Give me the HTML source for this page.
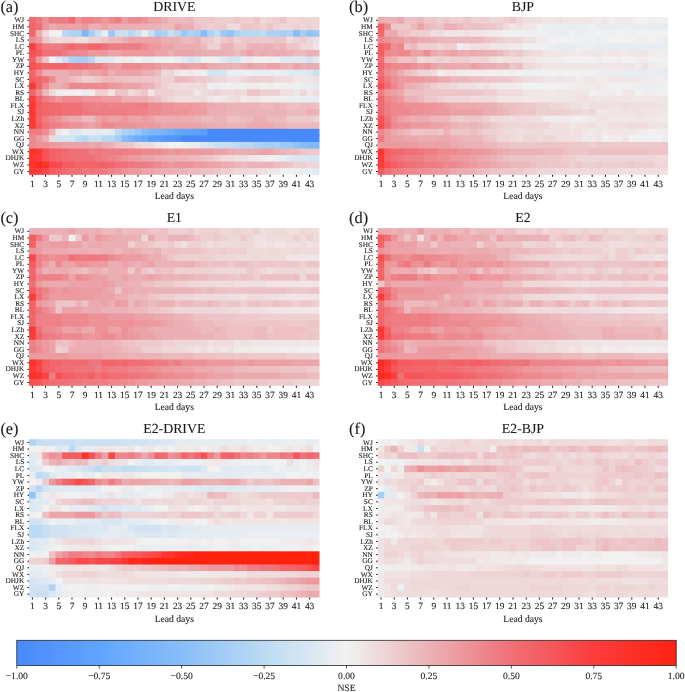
<!DOCTYPE html><html><head><meta charset="utf-8"><style>html,body{margin:0;padding:0;background:#fff;width:685px;height:692px;overflow:hidden}svg{display:block;will-change:transform}text{text-rendering:geometricPrecision;font-family:"Liberation Serif",serif;fill:#1a1a1a;stroke:#1a1a1a;stroke-width:0.1px}</style></head><body><svg width="685" height="692" viewBox="0 0 685 692" shape-rendering="crispEdges"><defs><filter id="soft" x="-2%" y="-2%" width="104%" height="104%"><feGaussianBlur stdDeviation="0.35"/></filter></defs><g shape-rendering="auto" filter="url(#soft)"><rect x="29.10" y="17.00" width="7.20" height="7.17" fill="#f16a6f"/><rect x="35.70" y="17.00" width="7.20" height="7.17" fill="#ef787e"/><rect x="42.30" y="17.00" width="7.20" height="7.17" fill="#ed9297"/><rect x="48.90" y="17.00" width="20.40" height="7.17" fill="#ee7d83"/><rect x="68.70" y="17.00" width="7.20" height="7.17" fill="#f16a6f"/><rect x="75.30" y="17.00" width="7.20" height="7.17" fill="#ed9297"/><rect x="81.90" y="17.00" width="13.80" height="7.17" fill="#ee8288"/><rect x="95.10" y="17.00" width="7.20" height="7.17" fill="#ed8a90"/><rect x="101.70" y="17.00" width="7.20" height="7.17" fill="#ed989c"/><rect x="108.30" y="17.00" width="7.20" height="7.17" fill="#ed8a90"/><rect x="114.90" y="17.00" width="7.20" height="7.17" fill="#ee7d83"/><rect x="121.50" y="17.00" width="7.20" height="7.17" fill="#ec9ca1"/><rect x="128.10" y="17.00" width="13.80" height="7.17" fill="#ed8a90"/><rect x="141.30" y="17.00" width="7.20" height="7.17" fill="#ed9297"/><rect x="147.90" y="17.00" width="13.80" height="7.17" fill="#eca3a8"/><rect x="161.10" y="17.00" width="7.20" height="7.17" fill="#ebafb3"/><rect x="167.70" y="17.00" width="13.80" height="7.17" fill="#ecbabd"/><rect x="180.90" y="17.00" width="7.20" height="7.17" fill="#ecbcbf"/><rect x="187.50" y="17.00" width="7.20" height="7.17" fill="#ecb8bb"/><rect x="194.10" y="17.00" width="13.80" height="7.17" fill="#edc9cc"/><rect x="207.30" y="17.00" width="7.20" height="7.17" fill="#edc5c8"/><rect x="213.90" y="17.00" width="20.40" height="7.17" fill="#eeced0"/><rect x="233.70" y="17.00" width="7.20" height="7.17" fill="#edc5c8"/><rect x="240.30" y="17.00" width="13.80" height="7.17" fill="#eeced0"/><rect x="253.50" y="17.00" width="7.20" height="7.17" fill="#edc5c8"/><rect x="260.10" y="17.00" width="7.20" height="7.17" fill="#eed7d8"/><rect x="266.70" y="17.00" width="7.20" height="7.17" fill="#eed2d4"/><rect x="273.30" y="17.00" width="7.20" height="7.17" fill="#eeced0"/><rect x="279.90" y="17.00" width="7.20" height="7.17" fill="#edc5c8"/><rect x="286.50" y="17.00" width="13.80" height="7.17" fill="#eed7d8"/><rect x="299.70" y="17.00" width="19.80" height="7.17" fill="#eed2d4"/><rect x="29.10" y="23.57" width="7.20" height="7.17" fill="#f2666a"/><rect x="35.70" y="23.57" width="7.20" height="7.17" fill="#ef7076"/><rect x="42.30" y="23.57" width="7.20" height="7.17" fill="#ed989c"/><rect x="48.90" y="23.57" width="7.20" height="7.17" fill="#ebafb3"/><rect x="55.50" y="23.57" width="27.00" height="7.17" fill="#eca3a8"/><rect x="81.90" y="23.57" width="7.20" height="7.17" fill="#ed989c"/><rect x="88.50" y="23.57" width="13.80" height="7.17" fill="#ebafb3"/><rect x="101.70" y="23.57" width="7.20" height="7.17" fill="#eca3a8"/><rect x="108.30" y="23.57" width="40.20" height="7.17" fill="#ebafb3"/><rect x="147.90" y="23.57" width="13.80" height="7.17" fill="#ebb3b7"/><rect x="161.10" y="23.57" width="13.80" height="7.17" fill="#ecbabd"/><rect x="174.30" y="23.57" width="7.20" height="7.17" fill="#eca3a8"/><rect x="180.90" y="23.57" width="13.80" height="7.17" fill="#ebafb3"/><rect x="194.10" y="23.57" width="7.20" height="7.17" fill="#ecc0c4"/><rect x="200.70" y="23.57" width="7.20" height="7.17" fill="#edc9cc"/><rect x="207.30" y="23.57" width="7.20" height="7.17" fill="#eed0d2"/><rect x="213.90" y="23.57" width="13.80" height="7.17" fill="#edc9cc"/><rect x="227.10" y="23.57" width="13.80" height="7.17" fill="#efdbdc"/><rect x="240.30" y="23.57" width="13.80" height="7.17" fill="#edc5c8"/><rect x="253.50" y="23.57" width="7.20" height="7.17" fill="#edc9cc"/><rect x="260.10" y="23.57" width="7.20" height="7.17" fill="#eed0d2"/><rect x="266.70" y="23.57" width="7.20" height="7.17" fill="#edc5c8"/><rect x="273.30" y="23.57" width="7.20" height="7.17" fill="#eed0d2"/><rect x="279.90" y="23.57" width="13.80" height="7.17" fill="#eed7d8"/><rect x="293.10" y="23.57" width="7.20" height="7.17" fill="#eed0d2"/><rect x="299.70" y="23.57" width="7.20" height="7.17" fill="#eed7d8"/><rect x="306.30" y="23.57" width="7.20" height="7.17" fill="#eed0d2"/><rect x="312.90" y="23.57" width="6.60" height="7.17" fill="#eed7d8"/><rect x="29.10" y="30.15" width="7.20" height="7.18" fill="#f2666a"/><rect x="35.70" y="30.15" width="7.20" height="7.18" fill="#ebafb3"/><rect x="42.30" y="30.15" width="7.20" height="7.18" fill="#efdbdc"/><rect x="48.90" y="30.15" width="13.80" height="7.18" fill="#f1f1f1"/><rect x="62.10" y="30.15" width="7.20" height="7.18" fill="#b7d8f3"/><rect x="68.70" y="30.15" width="13.80" height="7.18" fill="#add3f4"/><rect x="81.90" y="30.15" width="7.20" height="7.18" fill="#7db8fa"/><rect x="88.50" y="30.15" width="7.20" height="7.18" fill="#a4cef5"/><rect x="95.10" y="30.15" width="7.20" height="7.18" fill="#cae0f2"/><rect x="101.70" y="30.15" width="7.20" height="7.18" fill="#e7edf1"/><rect x="108.30" y="30.15" width="7.20" height="7.18" fill="#9ac8f6"/><rect x="114.90" y="30.15" width="13.80" height="7.18" fill="#cae0f2"/><rect x="128.10" y="30.15" width="7.20" height="7.18" fill="#b7d8f3"/><rect x="134.70" y="30.15" width="7.20" height="7.18" fill="#cae0f2"/><rect x="141.30" y="30.15" width="7.20" height="7.18" fill="#e7edf1"/><rect x="147.90" y="30.15" width="7.20" height="7.18" fill="#cae0f2"/><rect x="154.50" y="30.15" width="7.20" height="7.18" fill="#a4cef5"/><rect x="161.10" y="30.15" width="7.20" height="7.18" fill="#add3f4"/><rect x="167.70" y="30.15" width="7.20" height="7.18" fill="#cae0f2"/><rect x="174.30" y="30.15" width="7.20" height="7.18" fill="#b7d8f3"/><rect x="180.90" y="30.15" width="7.20" height="7.18" fill="#9ac8f6"/><rect x="187.50" y="30.15" width="7.20" height="7.18" fill="#add3f4"/><rect x="194.10" y="30.15" width="7.20" height="7.18" fill="#a4cef5"/><rect x="200.70" y="30.15" width="7.20" height="7.18" fill="#85bdf8"/><rect x="207.30" y="30.15" width="7.20" height="7.18" fill="#add3f4"/><rect x="213.90" y="30.15" width="7.20" height="7.18" fill="#c0dcf3"/><rect x="220.50" y="30.15" width="7.20" height="7.18" fill="#9ac8f6"/><rect x="227.10" y="30.15" width="7.20" height="7.18" fill="#8fc2f7"/><rect x="233.70" y="30.15" width="7.20" height="7.18" fill="#add3f4"/><rect x="240.30" y="30.15" width="20.40" height="7.18" fill="#b7d8f3"/><rect x="260.10" y="30.15" width="7.20" height="7.18" fill="#c0dcf3"/><rect x="266.70" y="30.15" width="13.80" height="7.18" fill="#add3f4"/><rect x="279.90" y="30.15" width="7.20" height="7.18" fill="#a4cef5"/><rect x="286.50" y="30.15" width="7.20" height="7.18" fill="#add3f4"/><rect x="293.10" y="30.15" width="7.20" height="7.18" fill="#85bdf8"/><rect x="299.70" y="30.15" width="7.20" height="7.18" fill="#a4cef5"/><rect x="306.30" y="30.15" width="7.20" height="7.18" fill="#8fc2f7"/><rect x="312.90" y="30.15" width="6.60" height="7.18" fill="#9ac8f6"/><rect x="29.10" y="36.73" width="7.20" height="7.17" fill="#ed8a90"/><rect x="35.70" y="36.73" width="7.20" height="7.17" fill="#ed989c"/><rect x="42.30" y="36.73" width="7.20" height="7.17" fill="#edc5c8"/><rect x="48.90" y="36.73" width="7.20" height="7.17" fill="#eed7d8"/><rect x="55.50" y="36.73" width="7.20" height="7.17" fill="#efdbdc"/><rect x="62.10" y="36.73" width="13.80" height="7.17" fill="#eed7d8"/><rect x="75.30" y="36.73" width="13.80" height="7.17" fill="#efdfe0"/><rect x="88.50" y="36.73" width="13.80" height="7.17" fill="#eed0d2"/><rect x="101.70" y="36.73" width="7.20" height="7.17" fill="#edc5c8"/><rect x="108.30" y="36.73" width="13.80" height="7.17" fill="#ecbabd"/><rect x="121.50" y="36.73" width="7.20" height="7.17" fill="#ebafb3"/><rect x="128.10" y="36.73" width="33.60" height="7.17" fill="#eca3a8"/><rect x="161.10" y="36.73" width="20.40" height="7.17" fill="#ebafb3"/><rect x="180.90" y="36.73" width="13.80" height="7.17" fill="#ecbabd"/><rect x="194.10" y="36.73" width="7.20" height="7.17" fill="#ebb3b7"/><rect x="200.70" y="36.73" width="7.20" height="7.17" fill="#edc5c8"/><rect x="207.30" y="36.73" width="7.20" height="7.17" fill="#edc9cc"/><rect x="213.90" y="36.73" width="7.20" height="7.17" fill="#eed7d8"/><rect x="220.50" y="36.73" width="7.20" height="7.17" fill="#edc9cc"/><rect x="227.10" y="36.73" width="7.20" height="7.17" fill="#ecc0c4"/><rect x="233.70" y="36.73" width="7.20" height="7.17" fill="#eed0d2"/><rect x="240.30" y="36.73" width="7.20" height="7.17" fill="#edc9cc"/><rect x="246.90" y="36.73" width="7.20" height="7.17" fill="#edc5c8"/><rect x="253.50" y="36.73" width="20.40" height="7.17" fill="#edc9cc"/><rect x="273.30" y="36.73" width="13.80" height="7.17" fill="#edc5c8"/><rect x="286.50" y="36.73" width="7.20" height="7.17" fill="#efdbdc"/><rect x="293.10" y="36.73" width="7.20" height="7.17" fill="#eed0d2"/><rect x="299.70" y="36.73" width="7.20" height="7.17" fill="#edc9cc"/><rect x="306.30" y="36.73" width="7.20" height="7.17" fill="#eed7d8"/><rect x="312.90" y="36.73" width="6.60" height="7.17" fill="#efdfe0"/><rect x="29.10" y="43.30" width="7.20" height="7.18" fill="#fc3c3c"/><rect x="35.70" y="43.30" width="7.20" height="7.18" fill="#f2666a"/><rect x="42.30" y="43.30" width="20.40" height="7.18" fill="#ee7d83"/><rect x="62.10" y="43.30" width="7.20" height="7.18" fill="#ef7076"/><rect x="68.70" y="43.30" width="7.20" height="7.18" fill="#f2666a"/><rect x="75.30" y="43.30" width="13.80" height="7.18" fill="#ef7076"/><rect x="88.50" y="43.30" width="13.80" height="7.18" fill="#f2666a"/><rect x="101.70" y="43.30" width="7.20" height="7.18" fill="#ef7076"/><rect x="108.30" y="43.30" width="33.60" height="7.18" fill="#ee7d83"/><rect x="141.30" y="43.30" width="7.20" height="7.18" fill="#ed8a90"/><rect x="147.90" y="43.30" width="13.80" height="7.18" fill="#ed989c"/><rect x="161.10" y="43.30" width="13.80" height="7.18" fill="#eca3a8"/><rect x="174.30" y="43.30" width="27.00" height="7.18" fill="#ebafb3"/><rect x="200.70" y="43.30" width="7.20" height="7.18" fill="#ecbabd"/><rect x="207.30" y="43.30" width="13.80" height="7.18" fill="#eed0d2"/><rect x="220.50" y="43.30" width="13.80" height="7.18" fill="#ebb3b7"/><rect x="233.70" y="43.30" width="13.80" height="7.18" fill="#edc5c8"/><rect x="246.90" y="43.30" width="7.20" height="7.18" fill="#ebb3b7"/><rect x="253.50" y="43.30" width="7.20" height="7.18" fill="#ebafb3"/><rect x="260.10" y="43.30" width="7.20" height="7.18" fill="#ebb3b7"/><rect x="266.70" y="43.30" width="7.20" height="7.18" fill="#ebafb3"/><rect x="273.30" y="43.30" width="7.20" height="7.18" fill="#ecbabd"/><rect x="279.90" y="43.30" width="7.20" height="7.18" fill="#ebb3b7"/><rect x="286.50" y="43.30" width="13.80" height="7.18" fill="#edc5c8"/><rect x="299.70" y="43.30" width="13.80" height="7.18" fill="#eed7d8"/><rect x="312.90" y="43.30" width="6.60" height="7.18" fill="#f0e6e7"/><rect x="29.10" y="49.88" width="7.20" height="7.18" fill="#f75153"/><rect x="35.70" y="49.88" width="7.20" height="7.18" fill="#f45b5f"/><rect x="42.30" y="49.88" width="20.40" height="7.18" fill="#ef7076"/><rect x="62.10" y="49.88" width="7.20" height="7.18" fill="#ee7d83"/><rect x="68.70" y="49.88" width="20.40" height="7.18" fill="#ed8a90"/><rect x="88.50" y="49.88" width="20.40" height="7.18" fill="#ed989c"/><rect x="108.30" y="49.88" width="13.80" height="7.18" fill="#eca3a8"/><rect x="121.50" y="49.88" width="33.60" height="7.18" fill="#ed989c"/><rect x="154.50" y="49.88" width="13.80" height="7.18" fill="#eca3a8"/><rect x="167.70" y="49.88" width="7.20" height="7.18" fill="#ebafb3"/><rect x="174.30" y="49.88" width="20.40" height="7.18" fill="#eca3a8"/><rect x="194.10" y="49.88" width="7.20" height="7.18" fill="#ebaaae"/><rect x="200.70" y="49.88" width="27.00" height="7.18" fill="#ebafb3"/><rect x="227.10" y="49.88" width="7.20" height="7.18" fill="#ebb3b7"/><rect x="233.70" y="49.88" width="7.20" height="7.18" fill="#ecbabd"/><rect x="240.30" y="49.88" width="7.20" height="7.18" fill="#ebafb3"/><rect x="246.90" y="49.88" width="7.20" height="7.18" fill="#eca3a8"/><rect x="253.50" y="49.88" width="7.20" height="7.18" fill="#ebafb3"/><rect x="260.10" y="49.88" width="7.20" height="7.18" fill="#ebaaae"/><rect x="266.70" y="49.88" width="7.20" height="7.18" fill="#ebafb3"/><rect x="273.30" y="49.88" width="7.20" height="7.18" fill="#ebaaae"/><rect x="279.90" y="49.88" width="7.20" height="7.18" fill="#ebafb3"/><rect x="286.50" y="49.88" width="7.20" height="7.18" fill="#ebb3b7"/><rect x="293.10" y="49.88" width="13.80" height="7.18" fill="#ecbabd"/><rect x="306.30" y="49.88" width="7.20" height="7.18" fill="#ebafb3"/><rect x="312.90" y="49.88" width="6.60" height="7.18" fill="#ebb3b7"/><rect x="29.10" y="56.45" width="7.20" height="7.17" fill="#f45b5f"/><rect x="35.70" y="56.45" width="7.20" height="7.17" fill="#ed989c"/><rect x="42.30" y="56.45" width="7.20" height="7.17" fill="#edc5c8"/><rect x="48.90" y="56.45" width="7.20" height="7.17" fill="#f1f1f1"/><rect x="55.50" y="56.45" width="7.20" height="7.17" fill="#dee9f2"/><rect x="62.10" y="56.45" width="7.20" height="7.17" fill="#cae0f2"/><rect x="68.70" y="56.45" width="7.20" height="7.17" fill="#add3f4"/><rect x="75.30" y="56.45" width="13.80" height="7.17" fill="#a4cef5"/><rect x="88.50" y="56.45" width="7.20" height="7.17" fill="#b7d8f3"/><rect x="95.10" y="56.45" width="20.40" height="7.17" fill="#dee9f2"/><rect x="114.90" y="56.45" width="7.20" height="7.17" fill="#edeff1"/><rect x="121.50" y="56.45" width="7.20" height="7.17" fill="#f1eded"/><rect x="128.10" y="56.45" width="7.20" height="7.17" fill="#e7edf1"/><rect x="134.70" y="56.45" width="7.20" height="7.17" fill="#f1f1f1"/><rect x="141.30" y="56.45" width="13.80" height="7.17" fill="#e7edf1"/><rect x="154.50" y="56.45" width="7.20" height="7.17" fill="#f1f1f1"/><rect x="161.10" y="56.45" width="7.20" height="7.17" fill="#edeff1"/><rect x="167.70" y="56.45" width="7.20" height="7.17" fill="#f1f1f1"/><rect x="174.30" y="56.45" width="7.20" height="7.17" fill="#e7edf1"/><rect x="180.90" y="56.45" width="7.20" height="7.17" fill="#dee9f2"/><rect x="187.50" y="56.45" width="7.20" height="7.17" fill="#d4e5f2"/><rect x="194.10" y="56.45" width="7.20" height="7.17" fill="#dae7f2"/><rect x="200.70" y="56.45" width="20.40" height="7.17" fill="#edeff1"/><rect x="220.50" y="56.45" width="7.20" height="7.17" fill="#dee9f2"/><rect x="227.10" y="56.45" width="13.80" height="7.17" fill="#d4e5f2"/><rect x="240.30" y="56.45" width="7.20" height="7.17" fill="#e7edf1"/><rect x="246.90" y="56.45" width="7.20" height="7.17" fill="#f0e6e7"/><rect x="253.50" y="56.45" width="13.80" height="7.17" fill="#f1f1f1"/><rect x="266.70" y="56.45" width="13.80" height="7.17" fill="#edeff1"/><rect x="279.90" y="56.45" width="27.00" height="7.17" fill="#dee9f2"/><rect x="306.30" y="56.45" width="7.20" height="7.17" fill="#cee2f2"/><rect x="312.90" y="56.45" width="6.60" height="7.17" fill="#e1eaf2"/><rect x="29.10" y="63.02" width="7.20" height="7.17" fill="#f75153"/><rect x="35.70" y="63.02" width="7.20" height="7.17" fill="#f45b5f"/><rect x="42.30" y="63.02" width="27.00" height="7.17" fill="#f2666a"/><rect x="68.70" y="63.02" width="20.40" height="7.17" fill="#ef7076"/><rect x="88.50" y="63.02" width="13.80" height="7.17" fill="#ee7d83"/><rect x="101.70" y="63.02" width="7.20" height="7.17" fill="#ed8a90"/><rect x="108.30" y="63.02" width="7.20" height="7.17" fill="#ed989c"/><rect x="114.90" y="63.02" width="7.20" height="7.17" fill="#ec9ca1"/><rect x="121.50" y="63.02" width="20.40" height="7.17" fill="#ed8a90"/><rect x="141.30" y="63.02" width="13.80" height="7.17" fill="#ed9297"/><rect x="154.50" y="63.02" width="7.20" height="7.17" fill="#ed989c"/><rect x="161.10" y="63.02" width="20.40" height="7.17" fill="#eca3a8"/><rect x="180.90" y="63.02" width="7.20" height="7.17" fill="#ec9ca1"/><rect x="187.50" y="63.02" width="13.80" height="7.17" fill="#eca3a8"/><rect x="200.70" y="63.02" width="7.20" height="7.17" fill="#ec9ca1"/><rect x="207.30" y="63.02" width="13.80" height="7.17" fill="#ebaaae"/><rect x="220.50" y="63.02" width="13.80" height="7.17" fill="#ebafb3"/><rect x="233.70" y="63.02" width="7.20" height="7.17" fill="#ebb3b7"/><rect x="240.30" y="63.02" width="7.20" height="7.17" fill="#ebaaae"/><rect x="246.90" y="63.02" width="7.20" height="7.17" fill="#eca3a8"/><rect x="253.50" y="63.02" width="13.80" height="7.17" fill="#ebaaae"/><rect x="266.70" y="63.02" width="13.80" height="7.17" fill="#eca3a8"/><rect x="279.90" y="63.02" width="7.20" height="7.17" fill="#ebafb3"/><rect x="286.50" y="63.02" width="7.20" height="7.17" fill="#ebb3b7"/><rect x="293.10" y="63.02" width="7.20" height="7.17" fill="#eca3a8"/><rect x="299.70" y="63.02" width="7.20" height="7.17" fill="#ebafb3"/><rect x="306.30" y="63.02" width="13.20" height="7.17" fill="#ebaaae"/><rect x="29.10" y="69.60" width="7.20" height="7.18" fill="#f2666a"/><rect x="35.70" y="69.60" width="7.20" height="7.18" fill="#ed8a90"/><rect x="42.30" y="69.60" width="27.00" height="7.18" fill="#ebafb3"/><rect x="68.70" y="69.60" width="13.80" height="7.18" fill="#eca3a8"/><rect x="81.90" y="69.60" width="7.20" height="7.18" fill="#ebafb3"/><rect x="88.50" y="69.60" width="13.80" height="7.18" fill="#eca3a8"/><rect x="101.70" y="69.60" width="7.20" height="7.18" fill="#ed989c"/><rect x="108.30" y="69.60" width="7.20" height="7.18" fill="#ebafb3"/><rect x="114.90" y="69.60" width="27.00" height="7.18" fill="#eca3a8"/><rect x="141.30" y="69.60" width="13.80" height="7.18" fill="#ebafb3"/><rect x="154.50" y="69.60" width="7.20" height="7.18" fill="#ecbabd"/><rect x="161.10" y="69.60" width="13.80" height="7.18" fill="#eed7d8"/><rect x="174.30" y="69.60" width="7.20" height="7.18" fill="#f0e6e7"/><rect x="180.90" y="69.60" width="7.20" height="7.18" fill="#f1eded"/><rect x="187.50" y="69.60" width="7.20" height="7.18" fill="#f0e6e7"/><rect x="194.10" y="69.60" width="7.20" height="7.18" fill="#f1eded"/><rect x="200.70" y="69.60" width="7.20" height="7.18" fill="#edeff1"/><rect x="207.30" y="69.60" width="20.40" height="7.18" fill="#d4e5f2"/><rect x="227.10" y="69.60" width="13.80" height="7.18" fill="#e7edf1"/><rect x="240.30" y="69.60" width="7.20" height="7.18" fill="#ebeff1"/><rect x="246.90" y="69.60" width="7.20" height="7.18" fill="#edeff1"/><rect x="253.50" y="69.60" width="20.40" height="7.18" fill="#e7edf1"/><rect x="273.30" y="69.60" width="7.20" height="7.18" fill="#ebeff1"/><rect x="279.90" y="69.60" width="7.20" height="7.18" fill="#e7edf1"/><rect x="286.50" y="69.60" width="7.20" height="7.18" fill="#e1eaf2"/><rect x="293.10" y="69.60" width="7.20" height="7.18" fill="#dee9f2"/><rect x="299.70" y="69.60" width="7.20" height="7.18" fill="#e1eaf2"/><rect x="306.30" y="69.60" width="7.20" height="7.18" fill="#dae7f2"/><rect x="312.90" y="69.60" width="6.60" height="7.18" fill="#cae0f2"/><rect x="29.10" y="76.18" width="7.20" height="7.17" fill="#f45b5f"/><rect x="35.70" y="76.18" width="7.20" height="7.17" fill="#f2666a"/><rect x="42.30" y="76.18" width="7.20" height="7.17" fill="#ef7076"/><rect x="48.90" y="76.18" width="7.20" height="7.17" fill="#ed8a90"/><rect x="55.50" y="76.18" width="13.80" height="7.17" fill="#ebafb3"/><rect x="68.70" y="76.18" width="7.20" height="7.17" fill="#ecbabd"/><rect x="75.30" y="76.18" width="7.20" height="7.17" fill="#edc5c8"/><rect x="81.90" y="76.18" width="13.80" height="7.17" fill="#eed0d2"/><rect x="95.10" y="76.18" width="7.20" height="7.17" fill="#edc5c8"/><rect x="101.70" y="76.18" width="13.80" height="7.17" fill="#ecbabd"/><rect x="114.90" y="76.18" width="13.80" height="7.17" fill="#ecc0c4"/><rect x="128.10" y="76.18" width="27.00" height="7.17" fill="#edc5c8"/><rect x="154.50" y="76.18" width="7.20" height="7.17" fill="#edc9cc"/><rect x="161.10" y="76.18" width="13.80" height="7.17" fill="#eed0d2"/><rect x="174.30" y="76.18" width="13.80" height="7.17" fill="#ecbabd"/><rect x="187.50" y="76.18" width="7.20" height="7.17" fill="#ecc0c4"/><rect x="194.10" y="76.18" width="13.80" height="7.17" fill="#edc9cc"/><rect x="207.30" y="76.18" width="7.20" height="7.17" fill="#eed0d2"/><rect x="213.90" y="76.18" width="13.80" height="7.17" fill="#eed7d8"/><rect x="227.10" y="76.18" width="13.80" height="7.17" fill="#efdfe0"/><rect x="240.30" y="76.18" width="7.20" height="7.17" fill="#eed7d8"/><rect x="246.90" y="76.18" width="27.00" height="7.17" fill="#eed0d2"/><rect x="273.30" y="76.18" width="7.20" height="7.17" fill="#eed7d8"/><rect x="279.90" y="76.18" width="13.80" height="7.17" fill="#efdbdc"/><rect x="293.10" y="76.18" width="20.40" height="7.17" fill="#f0e6e7"/><rect x="312.90" y="76.18" width="6.60" height="7.17" fill="#efdfe0"/><rect x="29.10" y="82.75" width="7.20" height="7.18" fill="#fd3733"/><rect x="35.70" y="82.75" width="7.20" height="7.18" fill="#f2666a"/><rect x="42.30" y="82.75" width="7.20" height="7.18" fill="#ed8a90"/><rect x="48.90" y="82.75" width="13.80" height="7.18" fill="#ebafb3"/><rect x="62.10" y="82.75" width="7.20" height="7.18" fill="#eca3a8"/><rect x="68.70" y="82.75" width="40.20" height="7.18" fill="#ed8a90"/><rect x="108.30" y="82.75" width="7.20" height="7.18" fill="#ed989c"/><rect x="114.90" y="82.75" width="7.20" height="7.18" fill="#ec9ca1"/><rect x="121.50" y="82.75" width="20.40" height="7.18" fill="#eca3a8"/><rect x="141.30" y="82.75" width="7.20" height="7.18" fill="#ebafb3"/><rect x="147.90" y="82.75" width="7.20" height="7.18" fill="#ebb3b7"/><rect x="154.50" y="82.75" width="7.20" height="7.18" fill="#edc5c8"/><rect x="161.10" y="82.75" width="7.20" height="7.18" fill="#eed0d2"/><rect x="167.70" y="82.75" width="13.80" height="7.18" fill="#efdbdc"/><rect x="180.90" y="82.75" width="7.20" height="7.18" fill="#efdfe0"/><rect x="187.50" y="82.75" width="13.80" height="7.18" fill="#efdbdc"/><rect x="200.70" y="82.75" width="7.20" height="7.18" fill="#eed7d8"/><rect x="207.30" y="82.75" width="7.20" height="7.18" fill="#edeff1"/><rect x="213.90" y="82.75" width="7.20" height="7.18" fill="#e7edf1"/><rect x="220.50" y="82.75" width="7.20" height="7.18" fill="#edeff1"/><rect x="227.10" y="82.75" width="7.20" height="7.18" fill="#f1f1f1"/><rect x="233.70" y="82.75" width="7.20" height="7.18" fill="#f1eded"/><rect x="240.30" y="82.75" width="7.20" height="7.18" fill="#edeff1"/><rect x="246.90" y="82.75" width="7.20" height="7.18" fill="#f0eaeb"/><rect x="253.50" y="82.75" width="7.20" height="7.18" fill="#f1eded"/><rect x="260.10" y="82.75" width="7.20" height="7.18" fill="#f1f1f1"/><rect x="266.70" y="82.75" width="7.20" height="7.18" fill="#f1eded"/><rect x="273.30" y="82.75" width="13.80" height="7.18" fill="#f1f1f1"/><rect x="286.50" y="82.75" width="13.80" height="7.18" fill="#edeff1"/><rect x="299.70" y="82.75" width="13.80" height="7.18" fill="#e7edf1"/><rect x="312.90" y="82.75" width="6.60" height="7.18" fill="#e1eaf2"/><rect x="29.10" y="89.33" width="7.20" height="7.18" fill="#f2666a"/><rect x="35.70" y="89.33" width="7.20" height="7.18" fill="#ed8a90"/><rect x="42.30" y="89.33" width="7.20" height="7.18" fill="#ecbabd"/><rect x="48.90" y="89.33" width="7.20" height="7.18" fill="#eed7d8"/><rect x="55.50" y="89.33" width="20.40" height="7.18" fill="#f1eded"/><rect x="75.30" y="89.33" width="7.20" height="7.18" fill="#f1f1f1"/><rect x="81.90" y="89.33" width="7.20" height="7.18" fill="#e7edf1"/><rect x="88.50" y="89.33" width="7.20" height="7.18" fill="#f1eded"/><rect x="95.10" y="89.33" width="13.80" height="7.18" fill="#eed0d2"/><rect x="108.30" y="89.33" width="7.20" height="7.18" fill="#f0e6e7"/><rect x="114.90" y="89.33" width="13.80" height="7.18" fill="#edc5c8"/><rect x="128.10" y="89.33" width="7.20" height="7.18" fill="#efdbdc"/><rect x="134.70" y="89.33" width="7.20" height="7.18" fill="#eed0d2"/><rect x="141.30" y="89.33" width="7.20" height="7.18" fill="#edc5c8"/><rect x="147.90" y="89.33" width="7.20" height="7.18" fill="#f0e6e7"/><rect x="154.50" y="89.33" width="20.40" height="7.18" fill="#eed0d2"/><rect x="174.30" y="89.33" width="20.40" height="7.18" fill="#eed7d8"/><rect x="194.10" y="89.33" width="7.20" height="7.18" fill="#f0e6e7"/><rect x="200.70" y="89.33" width="7.20" height="7.18" fill="#efdbdc"/><rect x="207.30" y="89.33" width="7.20" height="7.18" fill="#eed7d8"/><rect x="213.90" y="89.33" width="7.20" height="7.18" fill="#eed0d2"/><rect x="220.50" y="89.33" width="13.80" height="7.18" fill="#efdbdc"/><rect x="233.70" y="89.33" width="7.20" height="7.18" fill="#eed7d8"/><rect x="240.30" y="89.33" width="7.20" height="7.18" fill="#efdbdc"/><rect x="246.90" y="89.33" width="13.80" height="7.18" fill="#edc5c8"/><rect x="260.10" y="89.33" width="20.40" height="7.18" fill="#eed0d2"/><rect x="279.90" y="89.33" width="13.80" height="7.18" fill="#efdfe0"/><rect x="293.10" y="89.33" width="7.20" height="7.18" fill="#f0e6e7"/><rect x="299.70" y="89.33" width="7.20" height="7.18" fill="#eed7d8"/><rect x="306.30" y="89.33" width="7.20" height="7.18" fill="#f0e6e7"/><rect x="312.90" y="89.33" width="6.60" height="7.18" fill="#efdbdc"/><rect x="29.10" y="95.90" width="7.20" height="7.18" fill="#fc3c3c"/><rect x="35.70" y="95.90" width="7.20" height="7.18" fill="#f2666a"/><rect x="42.30" y="95.90" width="7.20" height="7.18" fill="#ee7d83"/><rect x="48.90" y="95.90" width="7.20" height="7.18" fill="#ed8a90"/><rect x="55.50" y="95.90" width="7.20" height="7.18" fill="#ed989c"/><rect x="62.10" y="95.90" width="20.40" height="7.18" fill="#ed8a90"/><rect x="81.90" y="95.90" width="20.40" height="7.18" fill="#ed9297"/><rect x="101.70" y="95.90" width="20.40" height="7.18" fill="#ec9ca1"/><rect x="121.50" y="95.90" width="27.00" height="7.18" fill="#ebafb3"/><rect x="147.90" y="95.90" width="7.20" height="7.18" fill="#ecbabd"/><rect x="154.50" y="95.90" width="7.20" height="7.18" fill="#ecc0c4"/><rect x="161.10" y="95.90" width="7.20" height="7.18" fill="#eed0d2"/><rect x="167.70" y="95.90" width="7.20" height="7.18" fill="#eed7d8"/><rect x="174.30" y="95.90" width="20.40" height="7.18" fill="#efdfe0"/><rect x="194.10" y="95.90" width="13.80" height="7.18" fill="#efdbdc"/><rect x="207.30" y="95.90" width="7.20" height="7.18" fill="#f0e6e7"/><rect x="213.90" y="95.90" width="7.20" height="7.18" fill="#f0eaeb"/><rect x="220.50" y="95.90" width="7.20" height="7.18" fill="#f0e6e7"/><rect x="227.10" y="95.90" width="7.20" height="7.18" fill="#efdfe0"/><rect x="233.70" y="95.90" width="7.20" height="7.18" fill="#efdbdc"/><rect x="240.30" y="95.90" width="7.20" height="7.18" fill="#f0eaeb"/><rect x="246.90" y="95.90" width="13.80" height="7.18" fill="#f0e6e7"/><rect x="260.10" y="95.90" width="27.00" height="7.18" fill="#f1eded"/><rect x="286.50" y="95.90" width="13.80" height="7.18" fill="#ebeff1"/><rect x="299.70" y="95.90" width="19.80" height="7.18" fill="#e7edf1"/><rect x="29.10" y="102.48" width="7.20" height="7.17" fill="#fd3733"/><rect x="35.70" y="102.48" width="7.20" height="7.17" fill="#f45b5f"/><rect x="42.30" y="102.48" width="7.20" height="7.17" fill="#f2666a"/><rect x="48.90" y="102.48" width="13.80" height="7.17" fill="#f16a6f"/><rect x="62.10" y="102.48" width="20.40" height="7.17" fill="#ef7076"/><rect x="81.90" y="102.48" width="13.80" height="7.17" fill="#ee7d83"/><rect x="95.10" y="102.48" width="7.20" height="7.17" fill="#ee8288"/><rect x="101.70" y="102.48" width="7.20" height="7.17" fill="#ee7d83"/><rect x="108.30" y="102.48" width="27.00" height="7.17" fill="#ee8288"/><rect x="134.70" y="102.48" width="13.80" height="7.17" fill="#ee7d83"/><rect x="147.90" y="102.48" width="13.80" height="7.17" fill="#ed8a90"/><rect x="161.10" y="102.48" width="13.80" height="7.17" fill="#ed9297"/><rect x="174.30" y="102.48" width="20.40" height="7.17" fill="#ed989c"/><rect x="194.10" y="102.48" width="7.20" height="7.17" fill="#ec9ca1"/><rect x="200.70" y="102.48" width="7.20" height="7.17" fill="#eca3a8"/><rect x="207.30" y="102.48" width="7.20" height="7.17" fill="#ebaaae"/><rect x="213.90" y="102.48" width="13.80" height="7.17" fill="#ebafb3"/><rect x="227.10" y="102.48" width="33.60" height="7.17" fill="#ebb3b7"/><rect x="260.10" y="102.48" width="13.80" height="7.17" fill="#ecbabd"/><rect x="273.30" y="102.48" width="7.20" height="7.17" fill="#ebb3b7"/><rect x="279.90" y="102.48" width="7.20" height="7.17" fill="#ecbabd"/><rect x="286.50" y="102.48" width="13.80" height="7.17" fill="#ecc0c4"/><rect x="299.70" y="102.48" width="13.80" height="7.17" fill="#ecbabd"/><rect x="312.90" y="102.48" width="6.60" height="7.17" fill="#ecc0c4"/><rect x="29.10" y="109.05" width="7.20" height="7.18" fill="#fd3733"/><rect x="35.70" y="109.05" width="7.20" height="7.18" fill="#f36166"/><rect x="42.30" y="109.05" width="7.20" height="7.18" fill="#f2666a"/><rect x="48.90" y="109.05" width="13.80" height="7.18" fill="#f16a6f"/><rect x="62.10" y="109.05" width="20.40" height="7.18" fill="#ef7076"/><rect x="81.90" y="109.05" width="7.20" height="7.18" fill="#ef787e"/><rect x="88.50" y="109.05" width="40.20" height="7.18" fill="#ee7d83"/><rect x="128.10" y="109.05" width="20.40" height="7.18" fill="#ee8288"/><rect x="147.90" y="109.05" width="13.80" height="7.18" fill="#ed8a90"/><rect x="161.10" y="109.05" width="27.00" height="7.18" fill="#ed9297"/><rect x="187.50" y="109.05" width="7.20" height="7.18" fill="#ed989c"/><rect x="194.10" y="109.05" width="13.80" height="7.18" fill="#ec9ca1"/><rect x="207.30" y="109.05" width="20.40" height="7.18" fill="#ebafb3"/><rect x="227.10" y="109.05" width="20.40" height="7.18" fill="#ebb3b7"/><rect x="246.90" y="109.05" width="7.20" height="7.18" fill="#ebafb3"/><rect x="253.50" y="109.05" width="33.60" height="7.18" fill="#ebb3b7"/><rect x="286.50" y="109.05" width="20.40" height="7.18" fill="#ecbabd"/><rect x="306.30" y="109.05" width="7.20" height="7.18" fill="#ebafb3"/><rect x="312.90" y="109.05" width="6.60" height="7.18" fill="#ebb3b7"/><rect x="29.10" y="115.62" width="7.20" height="7.18" fill="#fd3733"/><rect x="35.70" y="115.62" width="7.20" height="7.18" fill="#f2666a"/><rect x="42.30" y="115.62" width="7.20" height="7.18" fill="#ee7d83"/><rect x="48.90" y="115.62" width="7.20" height="7.18" fill="#ed8a90"/><rect x="55.50" y="115.62" width="7.20" height="7.18" fill="#ed9297"/><rect x="62.10" y="115.62" width="7.20" height="7.18" fill="#eca3a8"/><rect x="68.70" y="115.62" width="13.80" height="7.18" fill="#ebaaae"/><rect x="81.90" y="115.62" width="13.80" height="7.18" fill="#ecbabd"/><rect x="95.10" y="115.62" width="7.20" height="7.18" fill="#eca3a8"/><rect x="101.70" y="115.62" width="7.20" height="7.18" fill="#ed989c"/><rect x="108.30" y="115.62" width="13.80" height="7.18" fill="#eca3a8"/><rect x="121.50" y="115.62" width="7.20" height="7.18" fill="#ed989c"/><rect x="128.10" y="115.62" width="13.80" height="7.18" fill="#eca3a8"/><rect x="141.30" y="115.62" width="7.20" height="7.18" fill="#ec9ca1"/><rect x="147.90" y="115.62" width="7.20" height="7.18" fill="#eca3a8"/><rect x="154.50" y="115.62" width="20.40" height="7.18" fill="#ebafb3"/><rect x="174.30" y="115.62" width="7.20" height="7.18" fill="#ebaaae"/><rect x="180.90" y="115.62" width="13.80" height="7.18" fill="#ebafb3"/><rect x="194.10" y="115.62" width="7.20" height="7.18" fill="#ebb3b7"/><rect x="200.70" y="115.62" width="13.80" height="7.18" fill="#ecbabd"/><rect x="213.90" y="115.62" width="13.80" height="7.18" fill="#ebb3b7"/><rect x="227.10" y="115.62" width="13.80" height="7.18" fill="#ecc0c4"/><rect x="240.30" y="115.62" width="13.80" height="7.18" fill="#ecbabd"/><rect x="253.50" y="115.62" width="13.80" height="7.18" fill="#ebafb3"/><rect x="266.70" y="115.62" width="20.40" height="7.18" fill="#ecbabd"/><rect x="286.50" y="115.62" width="27.00" height="7.18" fill="#edc9cc"/><rect x="312.90" y="115.62" width="6.60" height="7.18" fill="#eed0d2"/><rect x="29.10" y="122.20" width="7.20" height="7.18" fill="#fd3733"/><rect x="35.70" y="122.20" width="7.20" height="7.18" fill="#f45b5f"/><rect x="42.30" y="122.20" width="7.20" height="7.18" fill="#ef7076"/><rect x="48.90" y="122.20" width="7.20" height="7.18" fill="#ee7d83"/><rect x="55.50" y="122.20" width="7.20" height="7.18" fill="#ee8288"/><rect x="62.10" y="122.20" width="7.20" height="7.18" fill="#ed8a90"/><rect x="68.70" y="122.20" width="13.80" height="7.18" fill="#ed9297"/><rect x="81.90" y="122.20" width="7.20" height="7.18" fill="#ec9ca1"/><rect x="88.50" y="122.20" width="7.20" height="7.18" fill="#eca3a8"/><rect x="95.10" y="122.20" width="7.20" height="7.18" fill="#ed989c"/><rect x="101.70" y="122.20" width="13.80" height="7.18" fill="#ed8a90"/><rect x="114.90" y="122.20" width="20.40" height="7.18" fill="#ed9297"/><rect x="134.70" y="122.20" width="20.40" height="7.18" fill="#ed989c"/><rect x="154.50" y="122.20" width="7.20" height="7.18" fill="#ec9ca1"/><rect x="161.10" y="122.20" width="40.20" height="7.18" fill="#eca3a8"/><rect x="200.70" y="122.20" width="7.20" height="7.18" fill="#ebaaae"/><rect x="207.30" y="122.20" width="20.40" height="7.18" fill="#ebafb3"/><rect x="227.10" y="122.20" width="20.40" height="7.18" fill="#ebb3b7"/><rect x="246.90" y="122.20" width="27.00" height="7.18" fill="#ebaaae"/><rect x="273.30" y="122.20" width="13.80" height="7.18" fill="#ebb3b7"/><rect x="286.50" y="122.20" width="33.00" height="7.18" fill="#ecbabd"/><rect x="29.10" y="128.78" width="13.80" height="7.18" fill="#ee7d83"/><rect x="42.30" y="128.78" width="7.20" height="7.18" fill="#ed8a90"/><rect x="48.90" y="128.78" width="7.20" height="7.18" fill="#ebb3b7"/><rect x="55.50" y="128.78" width="7.20" height="7.18" fill="#f0e6e7"/><rect x="62.10" y="128.78" width="7.20" height="7.18" fill="#f1f1f1"/><rect x="68.70" y="128.78" width="13.80" height="7.18" fill="#dee9f2"/><rect x="81.90" y="128.78" width="13.80" height="7.18" fill="#e7edf1"/><rect x="95.10" y="128.78" width="7.20" height="7.18" fill="#e1eaf2"/><rect x="101.70" y="128.78" width="7.20" height="7.18" fill="#e7edf1"/><rect x="108.30" y="128.78" width="7.20" height="7.18" fill="#e1eaf2"/><rect x="114.90" y="128.78" width="7.20" height="7.18" fill="#c0dcf3"/><rect x="121.50" y="128.78" width="7.20" height="7.18" fill="#add3f4"/><rect x="128.10" y="128.78" width="7.20" height="7.18" fill="#a4cef5"/><rect x="134.70" y="128.78" width="7.20" height="7.18" fill="#9ac8f6"/><rect x="141.30" y="128.78" width="7.20" height="7.18" fill="#85bdf8"/><rect x="147.90" y="128.78" width="13.80" height="7.18" fill="#7db8fa"/><rect x="161.10" y="128.78" width="7.20" height="7.18" fill="#75b3fb"/><rect x="167.70" y="128.78" width="7.20" height="7.18" fill="#6daefc"/><rect x="174.30" y="128.78" width="7.20" height="7.18" fill="#65a9fe"/><rect x="180.90" y="128.78" width="7.20" height="7.18" fill="#61a6ff"/><rect x="187.50" y="128.78" width="7.20" height="7.18" fill="#5ea4ff"/><rect x="194.10" y="128.78" width="7.20" height="7.18" fill="#5ca2ff"/><rect x="200.70" y="128.78" width="7.20" height="7.18" fill="#599eff"/><rect x="207.30" y="128.78" width="112.20" height="7.18" fill="#4889ff"/><rect x="29.10" y="135.35" width="7.20" height="7.17" fill="#ed8a90"/><rect x="35.70" y="135.35" width="7.20" height="7.17" fill="#ec9ca1"/><rect x="42.30" y="135.35" width="7.20" height="7.17" fill="#ebafb3"/><rect x="48.90" y="135.35" width="7.20" height="7.17" fill="#efdbdc"/><rect x="55.50" y="135.35" width="20.40" height="7.17" fill="#d4e5f2"/><rect x="75.30" y="135.35" width="7.20" height="7.17" fill="#c0dcf3"/><rect x="81.90" y="135.35" width="7.20" height="7.17" fill="#b7d8f3"/><rect x="88.50" y="135.35" width="13.80" height="7.17" fill="#cae0f2"/><rect x="101.70" y="135.35" width="13.80" height="7.17" fill="#b7d8f3"/><rect x="114.90" y="135.35" width="7.20" height="7.17" fill="#a4cef5"/><rect x="121.50" y="135.35" width="7.20" height="7.17" fill="#85bdf8"/><rect x="128.10" y="135.35" width="7.20" height="7.17" fill="#75b3fb"/><rect x="134.70" y="135.35" width="7.20" height="7.17" fill="#6daefc"/><rect x="141.30" y="135.35" width="7.20" height="7.17" fill="#65a9fe"/><rect x="147.90" y="135.35" width="13.80" height="7.17" fill="#599eff"/><rect x="161.10" y="135.35" width="7.20" height="7.17" fill="#5599ff"/><rect x="167.70" y="135.35" width="7.20" height="7.17" fill="#5396ff"/><rect x="174.30" y="135.35" width="7.20" height="7.17" fill="#5093ff"/><rect x="180.90" y="135.35" width="138.60" height="7.17" fill="#4889ff"/><rect x="29.10" y="141.93" width="7.20" height="7.17" fill="#ed8a90"/><rect x="35.70" y="141.93" width="13.80" height="7.17" fill="#ed9297"/><rect x="48.90" y="141.93" width="7.20" height="7.17" fill="#ed989c"/><rect x="55.50" y="141.93" width="7.20" height="7.17" fill="#ec9ca1"/><rect x="62.10" y="141.93" width="27.00" height="7.17" fill="#eca3a8"/><rect x="88.50" y="141.93" width="7.20" height="7.17" fill="#ebaaae"/><rect x="95.10" y="141.93" width="7.20" height="7.17" fill="#eca3a8"/><rect x="101.70" y="141.93" width="7.20" height="7.17" fill="#ebafb3"/><rect x="108.30" y="141.93" width="7.20" height="7.17" fill="#ebb3b7"/><rect x="114.90" y="141.93" width="7.20" height="7.17" fill="#ecc0c4"/><rect x="121.50" y="141.93" width="7.20" height="7.17" fill="#edc5c8"/><rect x="128.10" y="141.93" width="7.20" height="7.17" fill="#edc9cc"/><rect x="134.70" y="141.93" width="7.20" height="7.17" fill="#eed7d8"/><rect x="141.30" y="141.93" width="13.80" height="7.17" fill="#efdbdc"/><rect x="154.50" y="141.93" width="7.20" height="7.17" fill="#f0e6e7"/><rect x="161.10" y="141.93" width="7.20" height="7.17" fill="#f1eded"/><rect x="167.70" y="141.93" width="13.80" height="7.17" fill="#f1f1f1"/><rect x="180.90" y="141.93" width="7.20" height="7.17" fill="#edeff1"/><rect x="187.50" y="141.93" width="13.80" height="7.17" fill="#e7edf1"/><rect x="200.70" y="141.93" width="7.20" height="7.17" fill="#dae7f2"/><rect x="207.30" y="141.93" width="7.20" height="7.17" fill="#d4e5f2"/><rect x="213.90" y="141.93" width="7.20" height="7.17" fill="#cae0f2"/><rect x="220.50" y="141.93" width="13.80" height="7.17" fill="#c6dff3"/><rect x="233.70" y="141.93" width="7.20" height="7.17" fill="#bbdaf3"/><rect x="240.30" y="141.93" width="13.80" height="7.17" fill="#b7d8f3"/><rect x="253.50" y="141.93" width="7.20" height="7.17" fill="#add3f4"/><rect x="260.10" y="141.93" width="7.20" height="7.17" fill="#a8d0f5"/><rect x="266.70" y="141.93" width="13.80" height="7.17" fill="#a4cef5"/><rect x="279.90" y="141.93" width="13.80" height="7.17" fill="#9ac8f6"/><rect x="293.10" y="141.93" width="7.20" height="7.17" fill="#8fc2f7"/><rect x="299.70" y="141.93" width="7.20" height="7.17" fill="#85bdf8"/><rect x="306.30" y="141.93" width="13.20" height="7.17" fill="#7db8fa"/><rect x="29.10" y="148.50" width="7.20" height="7.18" fill="#fd322b"/><rect x="35.70" y="148.50" width="7.20" height="7.18" fill="#fd3733"/><rect x="42.30" y="148.50" width="7.20" height="7.18" fill="#f75153"/><rect x="48.90" y="148.50" width="7.20" height="7.18" fill="#f36166"/><rect x="55.50" y="148.50" width="7.20" height="7.18" fill="#f2666a"/><rect x="62.10" y="148.50" width="7.20" height="7.18" fill="#f16a6f"/><rect x="68.70" y="148.50" width="20.40" height="7.18" fill="#ef7076"/><rect x="88.50" y="148.50" width="7.20" height="7.18" fill="#ee7d83"/><rect x="95.10" y="148.50" width="7.20" height="7.18" fill="#ef787e"/><rect x="101.70" y="148.50" width="27.00" height="7.18" fill="#ee7d83"/><rect x="128.10" y="148.50" width="13.80" height="7.18" fill="#ee8288"/><rect x="141.30" y="148.50" width="20.40" height="7.18" fill="#ed8a90"/><rect x="161.10" y="148.50" width="7.20" height="7.18" fill="#ed9297"/><rect x="167.70" y="148.50" width="7.20" height="7.18" fill="#ec9ca1"/><rect x="174.30" y="148.50" width="7.20" height="7.18" fill="#ed9297"/><rect x="180.90" y="148.50" width="20.40" height="7.18" fill="#ed989c"/><rect x="200.70" y="148.50" width="13.80" height="7.18" fill="#ec9ca1"/><rect x="213.90" y="148.50" width="13.80" height="7.18" fill="#eca3a8"/><rect x="227.10" y="148.50" width="7.20" height="7.18" fill="#ebaaae"/><rect x="233.70" y="148.50" width="13.80" height="7.18" fill="#ebafb3"/><rect x="246.90" y="148.50" width="13.80" height="7.18" fill="#ebaaae"/><rect x="260.10" y="148.50" width="13.80" height="7.18" fill="#eca3a8"/><rect x="273.30" y="148.50" width="7.20" height="7.18" fill="#ebafb3"/><rect x="279.90" y="148.50" width="7.20" height="7.18" fill="#ebb3b7"/><rect x="286.50" y="148.50" width="13.80" height="7.18" fill="#ecbabd"/><rect x="299.70" y="148.50" width="7.20" height="7.18" fill="#edc5c8"/><rect x="306.30" y="148.50" width="13.20" height="7.18" fill="#edc9cc"/><rect x="29.10" y="155.08" width="7.20" height="7.17" fill="#fd3733"/><rect x="35.70" y="155.08" width="7.20" height="7.17" fill="#fc3c3c"/><rect x="42.30" y="155.08" width="7.20" height="7.17" fill="#f75153"/><rect x="48.90" y="155.08" width="7.20" height="7.17" fill="#f36166"/><rect x="55.50" y="155.08" width="7.20" height="7.17" fill="#f2666a"/><rect x="62.10" y="155.08" width="7.20" height="7.17" fill="#f16a6f"/><rect x="68.70" y="155.08" width="27.00" height="7.17" fill="#ef7076"/><rect x="95.10" y="155.08" width="7.20" height="7.17" fill="#ef787e"/><rect x="101.70" y="155.08" width="7.20" height="7.17" fill="#ee7d83"/><rect x="108.30" y="155.08" width="7.20" height="7.17" fill="#ee8288"/><rect x="114.90" y="155.08" width="7.20" height="7.17" fill="#ed8a90"/><rect x="121.50" y="155.08" width="7.20" height="7.17" fill="#ed9297"/><rect x="128.10" y="155.08" width="7.20" height="7.17" fill="#ed989c"/><rect x="134.70" y="155.08" width="7.20" height="7.17" fill="#ec9ca1"/><rect x="141.30" y="155.08" width="13.80" height="7.17" fill="#eca3a8"/><rect x="154.50" y="155.08" width="7.20" height="7.17" fill="#ebaaae"/><rect x="161.10" y="155.08" width="7.20" height="7.17" fill="#ebafb3"/><rect x="167.70" y="155.08" width="20.40" height="7.17" fill="#ebb3b7"/><rect x="187.50" y="155.08" width="13.80" height="7.17" fill="#ecbabd"/><rect x="200.70" y="155.08" width="7.20" height="7.17" fill="#ecc0c4"/><rect x="207.30" y="155.08" width="7.20" height="7.17" fill="#edc5c8"/><rect x="213.90" y="155.08" width="7.20" height="7.17" fill="#eed0d2"/><rect x="220.50" y="155.08" width="13.80" height="7.17" fill="#efdbdc"/><rect x="233.70" y="155.08" width="13.80" height="7.17" fill="#efdfe0"/><rect x="246.90" y="155.08" width="13.80" height="7.17" fill="#f0e6e7"/><rect x="260.10" y="155.08" width="7.20" height="7.17" fill="#f1eded"/><rect x="266.70" y="155.08" width="7.20" height="7.17" fill="#f1f1f1"/><rect x="273.30" y="155.08" width="7.20" height="7.17" fill="#edeff1"/><rect x="279.90" y="155.08" width="7.20" height="7.17" fill="#e7edf1"/><rect x="286.50" y="155.08" width="7.20" height="7.17" fill="#dee9f2"/><rect x="293.10" y="155.08" width="13.80" height="7.17" fill="#dae7f2"/><rect x="306.30" y="155.08" width="13.20" height="7.17" fill="#d4e5f2"/><rect x="29.10" y="161.65" width="7.20" height="7.17" fill="#fd322b"/><rect x="35.70" y="161.65" width="7.20" height="7.17" fill="#fe2c22"/><rect x="42.30" y="161.65" width="7.20" height="7.17" fill="#fd322b"/><rect x="48.90" y="161.65" width="7.20" height="7.17" fill="#f94648"/><rect x="55.50" y="161.65" width="7.20" height="7.17" fill="#f84d4f"/><rect x="62.10" y="161.65" width="13.80" height="7.17" fill="#f45b5f"/><rect x="75.30" y="161.65" width="27.00" height="7.17" fill="#f2666a"/><rect x="101.70" y="161.65" width="7.20" height="7.17" fill="#f36166"/><rect x="108.30" y="161.65" width="7.20" height="7.17" fill="#f2666a"/><rect x="114.90" y="161.65" width="13.80" height="7.17" fill="#ef7076"/><rect x="128.10" y="161.65" width="7.20" height="7.17" fill="#ef787e"/><rect x="134.70" y="161.65" width="13.80" height="7.17" fill="#ee7d83"/><rect x="147.90" y="161.65" width="7.20" height="7.17" fill="#ee8288"/><rect x="154.50" y="161.65" width="7.20" height="7.17" fill="#ed8a90"/><rect x="161.10" y="161.65" width="7.20" height="7.17" fill="#ed9297"/><rect x="167.70" y="161.65" width="7.20" height="7.17" fill="#ed989c"/><rect x="174.30" y="161.65" width="20.40" height="7.17" fill="#ed9297"/><rect x="194.10" y="161.65" width="13.80" height="7.17" fill="#ec9ca1"/><rect x="207.30" y="161.65" width="13.80" height="7.17" fill="#eca3a8"/><rect x="220.50" y="161.65" width="7.20" height="7.17" fill="#ebaaae"/><rect x="227.10" y="161.65" width="7.20" height="7.17" fill="#ebafb3"/><rect x="233.70" y="161.65" width="7.20" height="7.17" fill="#ebb3b7"/><rect x="240.30" y="161.65" width="7.20" height="7.17" fill="#ecbabd"/><rect x="246.90" y="161.65" width="27.00" height="7.17" fill="#ebb3b7"/><rect x="273.30" y="161.65" width="7.20" height="7.17" fill="#ecbabd"/><rect x="279.90" y="161.65" width="7.20" height="7.17" fill="#ecc0c4"/><rect x="286.50" y="161.65" width="7.20" height="7.17" fill="#edc5c8"/><rect x="293.10" y="161.65" width="13.80" height="7.17" fill="#eed0d2"/><rect x="306.30" y="161.65" width="13.20" height="7.17" fill="#eed7d8"/><rect x="29.10" y="168.22" width="7.20" height="6.58" fill="#fd3733"/><rect x="35.70" y="168.22" width="7.20" height="6.58" fill="#fc3c3c"/><rect x="42.30" y="168.22" width="7.20" height="6.58" fill="#f94648"/><rect x="48.90" y="168.22" width="7.20" height="6.58" fill="#f45b5f"/><rect x="55.50" y="168.22" width="7.20" height="6.58" fill="#f36166"/><rect x="62.10" y="168.22" width="7.20" height="6.58" fill="#f16a6f"/><rect x="68.70" y="168.22" width="13.80" height="6.58" fill="#ef7076"/><rect x="81.90" y="168.22" width="7.20" height="6.58" fill="#ef787e"/><rect x="88.50" y="168.22" width="7.20" height="6.58" fill="#ef7076"/><rect x="95.10" y="168.22" width="7.20" height="6.58" fill="#ef787e"/><rect x="101.70" y="168.22" width="7.20" height="6.58" fill="#ee7d83"/><rect x="108.30" y="168.22" width="7.20" height="6.58" fill="#ee8288"/><rect x="114.90" y="168.22" width="7.20" height="6.58" fill="#ed8a90"/><rect x="121.50" y="168.22" width="7.20" height="6.58" fill="#ed9297"/><rect x="128.10" y="168.22" width="7.20" height="6.58" fill="#ed989c"/><rect x="134.70" y="168.22" width="7.20" height="6.58" fill="#ec9ca1"/><rect x="141.30" y="168.22" width="13.80" height="6.58" fill="#eca3a8"/><rect x="154.50" y="168.22" width="7.20" height="6.58" fill="#ebaaae"/><rect x="161.10" y="168.22" width="13.80" height="6.58" fill="#ebafb3"/><rect x="174.30" y="168.22" width="13.80" height="6.58" fill="#ebb3b7"/><rect x="187.50" y="168.22" width="13.80" height="6.58" fill="#ecbabd"/><rect x="200.70" y="168.22" width="13.80" height="6.58" fill="#ecc0c4"/><rect x="213.90" y="168.22" width="7.20" height="6.58" fill="#edc5c8"/><rect x="220.50" y="168.22" width="13.80" height="6.58" fill="#eed0d2"/><rect x="233.70" y="168.22" width="13.80" height="6.58" fill="#eed7d8"/><rect x="246.90" y="168.22" width="13.80" height="6.58" fill="#efdbdc"/><rect x="260.10" y="168.22" width="7.20" height="6.58" fill="#efdfe0"/><rect x="266.70" y="168.22" width="13.80" height="6.58" fill="#f0e6e7"/><rect x="279.90" y="168.22" width="13.80" height="6.58" fill="#f1f1f1"/><rect x="293.10" y="168.22" width="7.20" height="6.58" fill="#edeff1"/><rect x="299.70" y="168.22" width="13.80" height="6.58" fill="#e7edf1"/><rect x="312.90" y="168.22" width="6.60" height="6.58" fill="#e1eaf2"/></g><path d="M29.10 20.29h-1.6M29.10 26.86h-1.6M29.10 33.44h-1.6M29.10 40.01h-1.6M29.10 46.59h-1.6M29.10 53.16h-1.6M29.10 59.74h-1.6M29.10 66.31h-1.6M29.10 72.89h-1.6M29.10 79.46h-1.6M29.10 86.04h-1.6M29.10 92.61h-1.6M29.10 99.19h-1.6M29.10 105.76h-1.6M29.10 112.34h-1.6M29.10 118.91h-1.6M29.10 125.49h-1.6M29.10 132.06h-1.6M29.10 138.64h-1.6M29.10 145.21h-1.6M29.10 151.79h-1.6M29.10 158.36h-1.6M29.10 164.94h-1.6M29.10 171.51h-1.6M32.40 174.80v2.0M45.60 174.80v2.0M58.80 174.80v2.0M72.00 174.80v2.0M85.20 174.80v2.0M98.40 174.80v2.0M111.60 174.80v2.0M124.80 174.80v2.0M138.00 174.80v2.0M151.20 174.80v2.0M164.40 174.80v2.0M177.60 174.80v2.0M190.80 174.80v2.0M204.00 174.80v2.0M217.20 174.80v2.0M230.40 174.80v2.0M243.60 174.80v2.0M256.80 174.80v2.0M270.00 174.80v2.0M283.20 174.80v2.0M296.40 174.80v2.0M309.60 174.80v2.0" stroke="#111" stroke-width="1.0" fill="none" shape-rendering="auto"/><g font-size="7.3"><text x="24.20" y="22.39" text-anchor="end">WJ</text><text x="24.20" y="28.96" text-anchor="end">HM</text><text x="24.20" y="35.54" text-anchor="end">SHC</text><text x="24.20" y="42.11" text-anchor="end">LS</text><text x="24.20" y="48.69" text-anchor="end">LC</text><text x="24.20" y="55.26" text-anchor="end">PL</text><text x="24.20" y="61.84" text-anchor="end">YW</text><text x="24.20" y="68.41" text-anchor="end">ZP</text><text x="24.20" y="74.99" text-anchor="end">HY</text><text x="24.20" y="81.56" text-anchor="end">SC</text><text x="24.20" y="88.14" text-anchor="end">LX</text><text x="24.20" y="94.71" text-anchor="end">RS</text><text x="24.20" y="101.29" text-anchor="end">BL</text><text x="24.20" y="107.86" text-anchor="end">FLX</text><text x="24.20" y="114.44" text-anchor="end">SJ</text><text x="24.20" y="121.01" text-anchor="end">LZh</text><text x="24.20" y="127.59" text-anchor="end">XZ</text><text x="24.20" y="134.16" text-anchor="end">NN</text><text x="24.20" y="140.74" text-anchor="end">GG</text><text x="24.20" y="147.31" text-anchor="end">QJ</text><text x="24.20" y="153.89" text-anchor="end">WX</text><text x="24.20" y="160.46" text-anchor="end">DHJK</text><text x="24.20" y="167.04" text-anchor="end">WZ</text><text x="24.20" y="173.61" text-anchor="end">GY</text></g><g font-size="9.4"><text x="32.40" y="186.50" text-anchor="middle">1</text><text x="45.60" y="186.50" text-anchor="middle">3</text><text x="58.80" y="186.50" text-anchor="middle">5</text><text x="72.00" y="186.50" text-anchor="middle">7</text><text x="85.20" y="186.50" text-anchor="middle">9</text><text x="98.40" y="186.50" text-anchor="middle">11</text><text x="111.60" y="186.50" text-anchor="middle">13</text><text x="124.80" y="186.50" text-anchor="middle">15</text><text x="138.00" y="186.50" text-anchor="middle">17</text><text x="151.20" y="186.50" text-anchor="middle">19</text><text x="164.40" y="186.50" text-anchor="middle">21</text><text x="177.60" y="186.50" text-anchor="middle">23</text><text x="190.80" y="186.50" text-anchor="middle">25</text><text x="204.00" y="186.50" text-anchor="middle">27</text><text x="217.20" y="186.50" text-anchor="middle">29</text><text x="230.40" y="186.50" text-anchor="middle">31</text><text x="243.60" y="186.50" text-anchor="middle">33</text><text x="256.80" y="186.50" text-anchor="middle">35</text><text x="270.00" y="186.50" text-anchor="middle">37</text><text x="283.20" y="186.50" text-anchor="middle">39</text><text x="296.40" y="186.50" text-anchor="middle">41</text><text x="309.60" y="186.50" text-anchor="middle">43</text></g><text x="174.30" y="199.00" text-anchor="middle" font-size="9.6">Lead days</text><text x="174.30" y="11.10" text-anchor="middle" font-size="13.8">DRIVE</text><text x="0.40" y="11.85" font-size="16.4">(a)</text><g shape-rendering="auto" filter="url(#soft)"><rect x="377.70" y="17.00" width="7.20" height="7.17" fill="#ebadb1"/><rect x="384.30" y="17.00" width="13.80" height="7.17" fill="#ebb1b5"/><rect x="397.50" y="17.00" width="7.20" height="7.17" fill="#eca8ac"/><rect x="404.10" y="17.00" width="13.80" height="7.17" fill="#ecbfc2"/><rect x="417.30" y="17.00" width="7.20" height="7.17" fill="#ecb8bc"/><rect x="423.90" y="17.00" width="7.20" height="7.17" fill="#edc8cb"/><rect x="430.50" y="17.00" width="7.20" height="7.17" fill="#edc4c7"/><rect x="437.10" y="17.00" width="7.20" height="7.17" fill="#eecfd1"/><rect x="443.70" y="17.00" width="7.20" height="7.17" fill="#edc8cb"/><rect x="450.30" y="17.00" width="13.80" height="7.17" fill="#eecfd1"/><rect x="463.50" y="17.00" width="7.20" height="7.17" fill="#edc4c7"/><rect x="470.10" y="17.00" width="20.40" height="7.17" fill="#eecfd1"/><rect x="489.90" y="17.00" width="13.80" height="7.17" fill="#eed6d8"/><rect x="503.10" y="17.00" width="7.20" height="7.17" fill="#eecfd1"/><rect x="509.70" y="17.00" width="7.20" height="7.17" fill="#edc8cb"/><rect x="516.30" y="17.00" width="7.20" height="7.17" fill="#eed6d8"/><rect x="522.90" y="17.00" width="20.40" height="7.17" fill="#efdfe0"/><rect x="542.70" y="17.00" width="13.80" height="7.17" fill="#f0e6e6"/><rect x="555.90" y="17.00" width="7.20" height="7.17" fill="#efdfe0"/><rect x="562.50" y="17.00" width="33.60" height="7.17" fill="#f0e6e6"/><rect x="595.50" y="17.00" width="7.20" height="7.17" fill="#f1eced"/><rect x="602.10" y="17.00" width="7.20" height="7.17" fill="#f0e6e6"/><rect x="608.70" y="17.00" width="7.20" height="7.17" fill="#f1eced"/><rect x="615.30" y="17.00" width="20.40" height="7.17" fill="#f0eaeb"/><rect x="635.10" y="17.00" width="13.80" height="7.17" fill="#f1f1f1"/><rect x="648.30" y="17.00" width="7.20" height="7.17" fill="#f1eced"/><rect x="654.90" y="17.00" width="13.20" height="7.17" fill="#f1f1f1"/><rect x="377.70" y="23.57" width="7.20" height="7.17" fill="#f26468"/><rect x="384.30" y="23.57" width="7.20" height="7.17" fill="#ee888d"/><rect x="390.90" y="23.57" width="20.40" height="7.17" fill="#edc8cb"/><rect x="410.70" y="23.57" width="7.20" height="7.17" fill="#ecb8bc"/><rect x="417.30" y="23.57" width="7.20" height="7.17" fill="#eca1a5"/><rect x="423.90" y="23.57" width="7.20" height="7.17" fill="#ecb8bc"/><rect x="430.50" y="23.57" width="7.20" height="7.17" fill="#ecbfc2"/><rect x="437.10" y="23.57" width="7.20" height="7.17" fill="#edc4c7"/><rect x="443.70" y="23.57" width="13.80" height="7.17" fill="#ebb1b5"/><rect x="456.90" y="23.57" width="7.20" height="7.17" fill="#ecb8bc"/><rect x="463.50" y="23.57" width="7.20" height="7.17" fill="#edc4c7"/><rect x="470.10" y="23.57" width="13.80" height="7.17" fill="#ecbfc2"/><rect x="483.30" y="23.57" width="13.80" height="7.17" fill="#edc4c7"/><rect x="496.50" y="23.57" width="7.20" height="7.17" fill="#eecfd1"/><rect x="503.10" y="23.57" width="7.20" height="7.17" fill="#efdadc"/><rect x="509.70" y="23.57" width="7.20" height="7.17" fill="#f0e6e6"/><rect x="516.30" y="23.57" width="7.20" height="7.17" fill="#efdfe0"/><rect x="522.90" y="23.57" width="13.80" height="7.17" fill="#f0e6e6"/><rect x="536.10" y="23.57" width="7.20" height="7.17" fill="#f1f1f1"/><rect x="542.70" y="23.57" width="27.00" height="7.17" fill="#ebeef1"/><rect x="569.10" y="23.57" width="13.80" height="7.17" fill="#e6ecf1"/><rect x="582.30" y="23.57" width="7.20" height="7.17" fill="#ebeef1"/><rect x="588.90" y="23.57" width="7.20" height="7.17" fill="#edeff1"/><rect x="595.50" y="23.57" width="20.40" height="7.17" fill="#e6ecf1"/><rect x="615.30" y="23.57" width="20.40" height="7.17" fill="#ebeef1"/><rect x="635.10" y="23.57" width="7.20" height="7.17" fill="#e6ecf1"/><rect x="641.70" y="23.57" width="7.20" height="7.17" fill="#ebeef1"/><rect x="648.30" y="23.57" width="19.80" height="7.17" fill="#e6ecf1"/><rect x="377.70" y="30.15" width="7.20" height="7.18" fill="#f1686d"/><rect x="384.30" y="30.15" width="7.20" height="7.18" fill="#ebadb1"/><rect x="390.90" y="30.15" width="7.20" height="7.18" fill="#eca8ac"/><rect x="397.50" y="30.15" width="7.20" height="7.18" fill="#ecbfc2"/><rect x="404.10" y="30.15" width="7.20" height="7.18" fill="#edc4c7"/><rect x="410.70" y="30.15" width="20.40" height="7.18" fill="#eecfd1"/><rect x="430.50" y="30.15" width="7.20" height="7.18" fill="#efdfe0"/><rect x="437.10" y="30.15" width="7.20" height="7.18" fill="#efdadc"/><rect x="443.70" y="30.15" width="20.40" height="7.18" fill="#f0e6e6"/><rect x="463.50" y="30.15" width="7.20" height="7.18" fill="#efdfe0"/><rect x="470.10" y="30.15" width="13.80" height="7.18" fill="#f0e6e6"/><rect x="483.30" y="30.15" width="13.80" height="7.18" fill="#f0eaeb"/><rect x="496.50" y="30.15" width="7.20" height="7.18" fill="#f1eced"/><rect x="503.10" y="30.15" width="20.40" height="7.18" fill="#f1f1f1"/><rect x="522.90" y="30.15" width="27.00" height="7.18" fill="#edeff1"/><rect x="549.30" y="30.15" width="13.80" height="7.18" fill="#ebeef1"/><rect x="562.50" y="30.15" width="7.20" height="7.18" fill="#e6ecf1"/><rect x="569.10" y="30.15" width="7.20" height="7.18" fill="#f1f1f1"/><rect x="575.70" y="30.15" width="7.20" height="7.18" fill="#ebeef1"/><rect x="582.30" y="30.15" width="13.80" height="7.18" fill="#edeff1"/><rect x="595.50" y="30.15" width="7.20" height="7.18" fill="#f1f1f1"/><rect x="602.10" y="30.15" width="13.80" height="7.18" fill="#edeff1"/><rect x="615.30" y="30.15" width="13.80" height="7.18" fill="#f1f1f1"/><rect x="628.50" y="30.15" width="7.20" height="7.18" fill="#edeff1"/><rect x="635.10" y="30.15" width="33.00" height="7.18" fill="#f1f1f1"/><rect x="377.70" y="36.73" width="7.20" height="7.17" fill="#ee888d"/><rect x="384.30" y="36.73" width="7.20" height="7.17" fill="#ed9095"/><rect x="390.90" y="36.73" width="13.80" height="7.17" fill="#ec9a9e"/><rect x="404.10" y="36.73" width="7.20" height="7.17" fill="#eca8ac"/><rect x="410.70" y="36.73" width="7.20" height="7.17" fill="#eca1a5"/><rect x="417.30" y="36.73" width="13.80" height="7.17" fill="#ebadb1"/><rect x="430.50" y="36.73" width="7.20" height="7.17" fill="#ebb1b5"/><rect x="437.10" y="36.73" width="46.80" height="7.17" fill="#ecb8bc"/><rect x="483.30" y="36.73" width="7.20" height="7.17" fill="#edc4c7"/><rect x="489.90" y="36.73" width="7.20" height="7.17" fill="#edc8cb"/><rect x="496.50" y="36.73" width="7.20" height="7.17" fill="#eecfd1"/><rect x="503.10" y="36.73" width="20.40" height="7.17" fill="#eed6d8"/><rect x="522.90" y="36.73" width="13.80" height="7.17" fill="#efdfe0"/><rect x="536.10" y="36.73" width="7.20" height="7.17" fill="#f0eaeb"/><rect x="542.70" y="36.73" width="7.20" height="7.17" fill="#f1eced"/><rect x="549.30" y="36.73" width="33.60" height="7.17" fill="#f1f1f1"/><rect x="582.30" y="36.73" width="13.80" height="7.17" fill="#edeff1"/><rect x="595.50" y="36.73" width="7.20" height="7.17" fill="#ebeef1"/><rect x="602.10" y="36.73" width="7.20" height="7.17" fill="#edeff1"/><rect x="608.70" y="36.73" width="27.00" height="7.17" fill="#f1f1f1"/><rect x="635.10" y="36.73" width="13.80" height="7.17" fill="#edeff1"/><rect x="648.30" y="36.73" width="7.20" height="7.17" fill="#f1f1f1"/><rect x="654.90" y="36.73" width="13.20" height="7.17" fill="#ebeef1"/><rect x="377.70" y="43.30" width="7.20" height="7.18" fill="#f35f63"/><rect x="384.30" y="43.30" width="7.20" height="7.18" fill="#f1686d"/><rect x="390.90" y="43.30" width="7.20" height="7.18" fill="#ed9095"/><rect x="397.50" y="43.30" width="7.20" height="7.18" fill="#ee888d"/><rect x="404.10" y="43.30" width="7.20" height="7.18" fill="#edc4c7"/><rect x="410.70" y="43.30" width="7.20" height="7.18" fill="#ecb8bc"/><rect x="417.30" y="43.30" width="20.40" height="7.18" fill="#eecfd1"/><rect x="437.10" y="43.30" width="7.20" height="7.18" fill="#eed6d8"/><rect x="443.70" y="43.30" width="13.80" height="7.18" fill="#eecfd1"/><rect x="456.90" y="43.30" width="7.20" height="7.18" fill="#f1eced"/><rect x="463.50" y="43.30" width="7.20" height="7.18" fill="#f0e6e6"/><rect x="470.10" y="43.30" width="20.40" height="7.18" fill="#efdfe0"/><rect x="489.90" y="43.30" width="20.40" height="7.18" fill="#f0e6e6"/><rect x="509.70" y="43.30" width="13.80" height="7.18" fill="#f0eaeb"/><rect x="522.90" y="43.30" width="7.20" height="7.18" fill="#f1f1f1"/><rect x="529.50" y="43.30" width="20.40" height="7.18" fill="#edeff1"/><rect x="549.30" y="43.30" width="7.20" height="7.18" fill="#ebeef1"/><rect x="555.90" y="43.30" width="13.80" height="7.18" fill="#e6ecf1"/><rect x="569.10" y="43.30" width="7.20" height="7.18" fill="#e4ebf1"/><rect x="575.70" y="43.30" width="7.20" height="7.18" fill="#ebeef1"/><rect x="582.30" y="43.30" width="7.20" height="7.18" fill="#edeff1"/><rect x="588.90" y="43.30" width="7.20" height="7.18" fill="#ebeef1"/><rect x="595.50" y="43.30" width="72.60" height="7.18" fill="#e6ecf1"/><rect x="377.70" y="49.88" width="7.20" height="7.18" fill="#f35f63"/><rect x="384.30" y="49.88" width="7.20" height="7.18" fill="#ee888d"/><rect x="390.90" y="49.88" width="7.20" height="7.18" fill="#ed9095"/><rect x="397.50" y="49.88" width="13.80" height="7.18" fill="#ee888d"/><rect x="410.70" y="49.88" width="13.80" height="7.18" fill="#eca1a5"/><rect x="423.90" y="49.88" width="7.20" height="7.18" fill="#ed9095"/><rect x="430.50" y="49.88" width="7.20" height="7.18" fill="#eca8ac"/><rect x="437.10" y="49.88" width="7.20" height="7.18" fill="#ebb1b5"/><rect x="443.70" y="49.88" width="7.20" height="7.18" fill="#eca8ac"/><rect x="450.30" y="49.88" width="7.20" height="7.18" fill="#eca1a5"/><rect x="456.90" y="49.88" width="13.80" height="7.18" fill="#ebadb1"/><rect x="470.10" y="49.88" width="7.20" height="7.18" fill="#eca8ac"/><rect x="476.70" y="49.88" width="7.20" height="7.18" fill="#ebadb1"/><rect x="483.30" y="49.88" width="13.80" height="7.18" fill="#ebb1b5"/><rect x="496.50" y="49.88" width="7.20" height="7.18" fill="#ecb8bc"/><rect x="503.10" y="49.88" width="7.20" height="7.18" fill="#edc4c7"/><rect x="509.70" y="49.88" width="7.20" height="7.18" fill="#eecfd1"/><rect x="516.30" y="49.88" width="7.20" height="7.18" fill="#edc8cb"/><rect x="522.90" y="49.88" width="7.20" height="7.18" fill="#eed6d8"/><rect x="529.50" y="49.88" width="13.80" height="7.18" fill="#efdadc"/><rect x="542.70" y="49.88" width="27.00" height="7.18" fill="#f0e6e6"/><rect x="569.10" y="49.88" width="13.80" height="7.18" fill="#f0eaeb"/><rect x="582.30" y="49.88" width="20.40" height="7.18" fill="#f0e6e6"/><rect x="602.10" y="49.88" width="7.20" height="7.18" fill="#f0eaeb"/><rect x="608.70" y="49.88" width="13.80" height="7.18" fill="#f0e6e6"/><rect x="621.90" y="49.88" width="7.20" height="7.18" fill="#f0eaeb"/><rect x="628.50" y="49.88" width="13.80" height="7.18" fill="#f0e6e6"/><rect x="641.70" y="49.88" width="7.20" height="7.18" fill="#f0e3e4"/><rect x="648.30" y="49.88" width="7.20" height="7.18" fill="#f0eaeb"/><rect x="654.90" y="49.88" width="13.20" height="7.18" fill="#f1eced"/><rect x="377.70" y="56.45" width="7.20" height="7.17" fill="#f06e74"/><rect x="384.30" y="56.45" width="7.20" height="7.17" fill="#ebadb1"/><rect x="390.90" y="56.45" width="7.20" height="7.17" fill="#ebb1b5"/><rect x="397.50" y="56.45" width="13.80" height="7.17" fill="#edc4c7"/><rect x="410.70" y="56.45" width="7.20" height="7.17" fill="#ecbfc2"/><rect x="417.30" y="56.45" width="7.20" height="7.17" fill="#efdadc"/><rect x="423.90" y="56.45" width="13.80" height="7.17" fill="#eed6d8"/><rect x="437.10" y="56.45" width="7.20" height="7.17" fill="#eecfd1"/><rect x="443.70" y="56.45" width="7.20" height="7.17" fill="#eed6d8"/><rect x="450.30" y="56.45" width="20.40" height="7.17" fill="#eecfd1"/><rect x="470.10" y="56.45" width="20.40" height="7.17" fill="#eed6d8"/><rect x="489.90" y="56.45" width="7.20" height="7.17" fill="#efdfe0"/><rect x="496.50" y="56.45" width="7.20" height="7.17" fill="#f0e6e6"/><rect x="503.10" y="56.45" width="20.40" height="7.17" fill="#efdfe0"/><rect x="522.90" y="56.45" width="13.80" height="7.17" fill="#f0e6e6"/><rect x="536.10" y="56.45" width="7.20" height="7.17" fill="#f0eaeb"/><rect x="542.70" y="56.45" width="20.40" height="7.17" fill="#f1eced"/><rect x="562.50" y="56.45" width="33.60" height="7.17" fill="#f1f1f1"/><rect x="595.50" y="56.45" width="7.20" height="7.17" fill="#f1eced"/><rect x="602.10" y="56.45" width="13.80" height="7.17" fill="#f1f1f1"/><rect x="615.30" y="56.45" width="7.20" height="7.17" fill="#f1eced"/><rect x="621.90" y="56.45" width="13.80" height="7.17" fill="#f1f1f1"/><rect x="635.10" y="56.45" width="13.80" height="7.17" fill="#f1eced"/><rect x="648.30" y="56.45" width="19.80" height="7.17" fill="#f1f1f1"/><rect x="377.70" y="63.02" width="7.20" height="7.17" fill="#f26468"/><rect x="384.30" y="63.02" width="7.20" height="7.17" fill="#ee8085"/><rect x="390.90" y="63.02" width="20.40" height="7.17" fill="#ee888d"/><rect x="410.70" y="63.02" width="7.20" height="7.17" fill="#ed9095"/><rect x="417.30" y="63.02" width="7.20" height="7.17" fill="#ec9a9e"/><rect x="423.90" y="63.02" width="7.20" height="7.17" fill="#ed9095"/><rect x="430.50" y="63.02" width="7.20" height="7.17" fill="#eca1a5"/><rect x="437.10" y="63.02" width="7.20" height="7.17" fill="#ebadb1"/><rect x="443.70" y="63.02" width="13.80" height="7.17" fill="#eca8ac"/><rect x="456.90" y="63.02" width="13.80" height="7.17" fill="#ebadb1"/><rect x="470.10" y="63.02" width="7.20" height="7.17" fill="#eca1a5"/><rect x="476.70" y="63.02" width="7.20" height="7.17" fill="#eca8ac"/><rect x="483.30" y="63.02" width="13.80" height="7.17" fill="#ebadb1"/><rect x="496.50" y="63.02" width="13.80" height="7.17" fill="#ebb1b5"/><rect x="509.70" y="63.02" width="7.20" height="7.17" fill="#edc8cb"/><rect x="516.30" y="63.02" width="7.20" height="7.17" fill="#ecbfc2"/><rect x="522.90" y="63.02" width="7.20" height="7.17" fill="#eed6d8"/><rect x="529.50" y="63.02" width="7.20" height="7.17" fill="#efdadc"/><rect x="536.10" y="63.02" width="7.20" height="7.17" fill="#efdfe0"/><rect x="542.70" y="63.02" width="86.40" height="7.17" fill="#f0e6e6"/><rect x="628.50" y="63.02" width="7.20" height="7.17" fill="#f0e3e4"/><rect x="635.10" y="63.02" width="7.20" height="7.17" fill="#f0eaeb"/><rect x="641.70" y="63.02" width="7.20" height="7.17" fill="#efdfe0"/><rect x="648.30" y="63.02" width="7.20" height="7.17" fill="#f0eaeb"/><rect x="654.90" y="63.02" width="13.20" height="7.17" fill="#f1eced"/><rect x="377.70" y="69.60" width="7.20" height="7.18" fill="#f06e74"/><rect x="384.30" y="69.60" width="7.20" height="7.18" fill="#ed9095"/><rect x="390.90" y="69.60" width="7.20" height="7.18" fill="#ec9a9e"/><rect x="397.50" y="69.60" width="7.20" height="7.18" fill="#ebadb1"/><rect x="404.10" y="69.60" width="7.20" height="7.18" fill="#ecbfc2"/><rect x="410.70" y="69.60" width="7.20" height="7.18" fill="#edc8cb"/><rect x="417.30" y="69.60" width="13.80" height="7.18" fill="#eed6d8"/><rect x="430.50" y="69.60" width="7.20" height="7.18" fill="#efdadc"/><rect x="437.10" y="69.60" width="7.20" height="7.18" fill="#f1eced"/><rect x="443.70" y="69.60" width="13.80" height="7.18" fill="#f0e6e6"/><rect x="456.90" y="69.60" width="33.60" height="7.18" fill="#f1eced"/><rect x="489.90" y="69.60" width="7.20" height="7.18" fill="#f1f1f1"/><rect x="496.50" y="69.60" width="7.20" height="7.18" fill="#f1eced"/><rect x="503.10" y="69.60" width="7.20" height="7.18" fill="#f1f1f1"/><rect x="509.70" y="69.60" width="7.20" height="7.18" fill="#f1eced"/><rect x="516.30" y="69.60" width="7.20" height="7.18" fill="#f1f1f1"/><rect x="522.90" y="69.60" width="20.40" height="7.18" fill="#edeff1"/><rect x="542.70" y="69.60" width="13.80" height="7.18" fill="#f1f1f1"/><rect x="555.90" y="69.60" width="7.20" height="7.18" fill="#edeff1"/><rect x="562.50" y="69.60" width="33.60" height="7.18" fill="#f1f1f1"/><rect x="595.50" y="69.60" width="27.00" height="7.18" fill="#ebeef1"/><rect x="621.90" y="69.60" width="33.60" height="7.18" fill="#e6ecf1"/><rect x="654.90" y="69.60" width="13.20" height="7.18" fill="#e4ebf1"/><rect x="377.70" y="76.18" width="7.20" height="7.17" fill="#f26468"/><rect x="384.30" y="76.18" width="7.20" height="7.17" fill="#ee7b80"/><rect x="390.90" y="76.18" width="7.20" height="7.17" fill="#ed9095"/><rect x="397.50" y="76.18" width="27.00" height="7.17" fill="#ec9a9e"/><rect x="423.90" y="76.18" width="13.80" height="7.17" fill="#eca1a5"/><rect x="437.10" y="76.18" width="13.80" height="7.17" fill="#ebadb1"/><rect x="450.30" y="76.18" width="20.40" height="7.17" fill="#ecb8bc"/><rect x="470.10" y="76.18" width="13.80" height="7.17" fill="#ecbfc2"/><rect x="483.30" y="76.18" width="13.80" height="7.17" fill="#edc4c7"/><rect x="496.50" y="76.18" width="13.80" height="7.17" fill="#edc8cb"/><rect x="509.70" y="76.18" width="7.20" height="7.17" fill="#eecfd1"/><rect x="516.30" y="76.18" width="7.20" height="7.17" fill="#eed6d8"/><rect x="522.90" y="76.18" width="7.20" height="7.17" fill="#efdadc"/><rect x="529.50" y="76.18" width="13.80" height="7.17" fill="#efdfe0"/><rect x="542.70" y="76.18" width="7.20" height="7.17" fill="#f0e3e4"/><rect x="549.30" y="76.18" width="7.20" height="7.17" fill="#f0e6e6"/><rect x="555.90" y="76.18" width="7.20" height="7.17" fill="#f0e3e4"/><rect x="562.50" y="76.18" width="13.80" height="7.17" fill="#f0e6e6"/><rect x="575.70" y="76.18" width="7.20" height="7.17" fill="#f1eced"/><rect x="582.30" y="76.18" width="13.80" height="7.17" fill="#f0e6e6"/><rect x="595.50" y="76.18" width="13.80" height="7.17" fill="#f0eaeb"/><rect x="608.70" y="76.18" width="33.60" height="7.17" fill="#f0e6e6"/><rect x="641.70" y="76.18" width="13.80" height="7.17" fill="#f0eaeb"/><rect x="654.90" y="76.18" width="7.20" height="7.17" fill="#f1eced"/><rect x="661.50" y="76.18" width="6.60" height="7.17" fill="#f0eaeb"/><rect x="377.70" y="82.75" width="7.20" height="7.18" fill="#f74f51"/><rect x="384.30" y="82.75" width="7.20" height="7.18" fill="#f06e74"/><rect x="390.90" y="82.75" width="7.20" height="7.18" fill="#ee888d"/><rect x="397.50" y="82.75" width="7.20" height="7.18" fill="#ec9a9e"/><rect x="404.10" y="82.75" width="7.20" height="7.18" fill="#ebadb1"/><rect x="410.70" y="82.75" width="7.20" height="7.18" fill="#ebb1b5"/><rect x="417.30" y="82.75" width="7.20" height="7.18" fill="#ecb8bc"/><rect x="423.90" y="82.75" width="7.20" height="7.18" fill="#ecbfc2"/><rect x="430.50" y="82.75" width="7.20" height="7.18" fill="#eecfd1"/><rect x="437.10" y="82.75" width="20.40" height="7.18" fill="#eed6d8"/><rect x="456.90" y="82.75" width="20.40" height="7.18" fill="#efdfe0"/><rect x="476.70" y="82.75" width="7.20" height="7.18" fill="#f0e6e6"/><rect x="483.30" y="82.75" width="7.20" height="7.18" fill="#efdfe0"/><rect x="489.90" y="82.75" width="7.20" height="7.18" fill="#f0e6e6"/><rect x="496.50" y="82.75" width="20.40" height="7.18" fill="#f0eaeb"/><rect x="516.30" y="82.75" width="7.20" height="7.18" fill="#f1eced"/><rect x="522.90" y="82.75" width="40.20" height="7.18" fill="#f1f1f1"/><rect x="562.50" y="82.75" width="13.80" height="7.18" fill="#f1eced"/><rect x="575.70" y="82.75" width="20.40" height="7.18" fill="#f0eaeb"/><rect x="595.50" y="82.75" width="7.20" height="7.18" fill="#f0e6e6"/><rect x="602.10" y="82.75" width="7.20" height="7.18" fill="#f0eaeb"/><rect x="608.70" y="82.75" width="20.40" height="7.18" fill="#f1f1f1"/><rect x="628.50" y="82.75" width="7.20" height="7.18" fill="#edeff1"/><rect x="635.10" y="82.75" width="20.40" height="7.18" fill="#ebeef1"/><rect x="654.90" y="82.75" width="13.20" height="7.18" fill="#edeff1"/><rect x="377.70" y="89.33" width="7.20" height="7.18" fill="#ee7b80"/><rect x="384.30" y="89.33" width="7.20" height="7.18" fill="#ec9a9e"/><rect x="390.90" y="89.33" width="7.20" height="7.18" fill="#eca1a5"/><rect x="397.50" y="89.33" width="7.20" height="7.18" fill="#eca8ac"/><rect x="404.10" y="89.33" width="20.40" height="7.18" fill="#ecbfc2"/><rect x="423.90" y="89.33" width="46.80" height="7.18" fill="#edc4c7"/><rect x="470.10" y="89.33" width="13.80" height="7.18" fill="#edc8cb"/><rect x="483.30" y="89.33" width="13.80" height="7.18" fill="#eecfd1"/><rect x="496.50" y="89.33" width="27.00" height="7.18" fill="#efdadc"/><rect x="522.90" y="89.33" width="20.40" height="7.18" fill="#f0e6e6"/><rect x="542.70" y="89.33" width="13.80" height="7.18" fill="#f0eaeb"/><rect x="555.90" y="89.33" width="33.60" height="7.18" fill="#f0e6e6"/><rect x="588.90" y="89.33" width="7.20" height="7.18" fill="#f1f1f1"/><rect x="595.50" y="89.33" width="13.80" height="7.18" fill="#f1eced"/><rect x="608.70" y="89.33" width="7.20" height="7.18" fill="#f0eaeb"/><rect x="615.30" y="89.33" width="7.20" height="7.18" fill="#f1f1f1"/><rect x="621.90" y="89.33" width="13.80" height="7.18" fill="#f0e6e6"/><rect x="635.10" y="89.33" width="7.20" height="7.18" fill="#f1f1f1"/><rect x="641.70" y="89.33" width="13.80" height="7.18" fill="#f1eced"/><rect x="654.90" y="89.33" width="13.20" height="7.18" fill="#f1f1f1"/><rect x="377.70" y="95.90" width="7.20" height="7.18" fill="#f1686d"/><rect x="384.30" y="95.90" width="7.20" height="7.18" fill="#ee888d"/><rect x="390.90" y="95.90" width="7.20" height="7.18" fill="#ed9095"/><rect x="397.50" y="95.90" width="7.20" height="7.18" fill="#ec9a9e"/><rect x="404.10" y="95.90" width="13.80" height="7.18" fill="#ebb1b5"/><rect x="417.30" y="95.90" width="7.20" height="7.18" fill="#ecb8bc"/><rect x="423.90" y="95.90" width="13.80" height="7.18" fill="#edc8cb"/><rect x="437.10" y="95.90" width="7.20" height="7.18" fill="#eecfd1"/><rect x="443.70" y="95.90" width="27.00" height="7.18" fill="#eed6d8"/><rect x="470.10" y="95.90" width="27.00" height="7.18" fill="#efdadc"/><rect x="496.50" y="95.90" width="27.00" height="7.18" fill="#f0e6e6"/><rect x="522.90" y="95.90" width="7.20" height="7.18" fill="#f0eaeb"/><rect x="529.50" y="95.90" width="46.80" height="7.18" fill="#f0e6e6"/><rect x="575.70" y="95.90" width="7.20" height="7.18" fill="#f0e3e4"/><rect x="582.30" y="95.90" width="7.20" height="7.18" fill="#efdfe0"/><rect x="588.90" y="95.90" width="7.20" height="7.18" fill="#f0e3e4"/><rect x="595.50" y="95.90" width="7.20" height="7.18" fill="#f0e6e6"/><rect x="602.10" y="95.90" width="13.80" height="7.18" fill="#f0e3e4"/><rect x="615.30" y="95.90" width="52.80" height="7.18" fill="#f0e6e6"/><rect x="377.70" y="102.48" width="7.20" height="7.17" fill="#f1686d"/><rect x="384.30" y="102.48" width="7.20" height="7.17" fill="#ee8085"/><rect x="390.90" y="102.48" width="13.80" height="7.17" fill="#ee888d"/><rect x="404.10" y="102.48" width="20.40" height="7.17" fill="#ed9095"/><rect x="423.90" y="102.48" width="13.80" height="7.17" fill="#ed959a"/><rect x="437.10" y="102.48" width="7.20" height="7.17" fill="#ec9a9e"/><rect x="443.70" y="102.48" width="7.20" height="7.17" fill="#eca1a5"/><rect x="450.30" y="102.48" width="27.00" height="7.17" fill="#eca8ac"/><rect x="476.70" y="102.48" width="13.80" height="7.17" fill="#ebadb1"/><rect x="489.90" y="102.48" width="7.20" height="7.17" fill="#ebb1b5"/><rect x="496.50" y="102.48" width="7.20" height="7.17" fill="#ecb8bc"/><rect x="503.10" y="102.48" width="13.80" height="7.17" fill="#ecbfc2"/><rect x="516.30" y="102.48" width="7.20" height="7.17" fill="#edc4c7"/><rect x="522.90" y="102.48" width="13.80" height="7.17" fill="#edc8cb"/><rect x="536.10" y="102.48" width="13.80" height="7.17" fill="#eecfd1"/><rect x="549.30" y="102.48" width="13.80" height="7.17" fill="#eed6d8"/><rect x="562.50" y="102.48" width="7.20" height="7.17" fill="#efdadc"/><rect x="569.10" y="102.48" width="13.80" height="7.17" fill="#efdfe0"/><rect x="582.30" y="102.48" width="7.20" height="7.17" fill="#f0e6e6"/><rect x="588.90" y="102.48" width="33.60" height="7.17" fill="#efdfe0"/><rect x="621.90" y="102.48" width="7.20" height="7.17" fill="#efdadc"/><rect x="628.50" y="102.48" width="27.00" height="7.17" fill="#efdfe0"/><rect x="654.90" y="102.48" width="13.20" height="7.17" fill="#f0e3e4"/><rect x="377.70" y="109.05" width="7.20" height="7.18" fill="#f1686d"/><rect x="384.30" y="109.05" width="7.20" height="7.18" fill="#ee8085"/><rect x="390.90" y="109.05" width="20.40" height="7.18" fill="#ee888d"/><rect x="410.70" y="109.05" width="13.80" height="7.18" fill="#ed9095"/><rect x="423.90" y="109.05" width="13.80" height="7.18" fill="#ed959a"/><rect x="437.10" y="109.05" width="13.80" height="7.18" fill="#ec9a9e"/><rect x="450.30" y="109.05" width="33.60" height="7.18" fill="#eca1a5"/><rect x="483.30" y="109.05" width="13.80" height="7.18" fill="#ebadb1"/><rect x="496.50" y="109.05" width="7.20" height="7.18" fill="#ebb1b5"/><rect x="503.10" y="109.05" width="7.20" height="7.18" fill="#ecb8bc"/><rect x="509.70" y="109.05" width="7.20" height="7.18" fill="#ecbfc2"/><rect x="516.30" y="109.05" width="7.20" height="7.18" fill="#edc4c7"/><rect x="522.90" y="109.05" width="7.20" height="7.18" fill="#edc8cb"/><rect x="529.50" y="109.05" width="7.20" height="7.18" fill="#edc4c7"/><rect x="536.10" y="109.05" width="33.60" height="7.18" fill="#eecfd1"/><rect x="569.10" y="109.05" width="13.80" height="7.18" fill="#eed6d8"/><rect x="582.30" y="109.05" width="7.20" height="7.18" fill="#efdadc"/><rect x="588.90" y="109.05" width="7.20" height="7.18" fill="#eed6d8"/><rect x="595.50" y="109.05" width="13.80" height="7.18" fill="#f0e6e6"/><rect x="608.70" y="109.05" width="27.00" height="7.18" fill="#f0e3e4"/><rect x="635.10" y="109.05" width="7.20" height="7.18" fill="#efdfe0"/><rect x="641.70" y="109.05" width="13.80" height="7.18" fill="#f0e3e4"/><rect x="654.90" y="109.05" width="13.20" height="7.18" fill="#f0e6e6"/><rect x="377.70" y="115.62" width="7.20" height="7.18" fill="#f65356"/><rect x="384.30" y="115.62" width="7.20" height="7.18" fill="#ef757b"/><rect x="390.90" y="115.62" width="7.20" height="7.18" fill="#ed9095"/><rect x="397.50" y="115.62" width="7.20" height="7.18" fill="#eca1a5"/><rect x="404.10" y="115.62" width="7.20" height="7.18" fill="#eca8ac"/><rect x="410.70" y="115.62" width="20.40" height="7.18" fill="#ebadb1"/><rect x="430.50" y="115.62" width="20.40" height="7.18" fill="#ecb8bc"/><rect x="450.30" y="115.62" width="7.20" height="7.18" fill="#edc8cb"/><rect x="456.90" y="115.62" width="7.20" height="7.18" fill="#eecfd1"/><rect x="463.50" y="115.62" width="7.20" height="7.18" fill="#edc8cb"/><rect x="470.10" y="115.62" width="7.20" height="7.18" fill="#edc4c7"/><rect x="476.70" y="115.62" width="7.20" height="7.18" fill="#edc8cb"/><rect x="483.30" y="115.62" width="7.20" height="7.18" fill="#eecfd1"/><rect x="489.90" y="115.62" width="20.40" height="7.18" fill="#efdadc"/><rect x="509.70" y="115.62" width="7.20" height="7.18" fill="#efdfe0"/><rect x="516.30" y="115.62" width="13.80" height="7.18" fill="#efdadc"/><rect x="529.50" y="115.62" width="13.80" height="7.18" fill="#efdfe0"/><rect x="542.70" y="115.62" width="7.20" height="7.18" fill="#f0eaeb"/><rect x="549.30" y="115.62" width="7.20" height="7.18" fill="#f1eced"/><rect x="555.90" y="115.62" width="13.80" height="7.18" fill="#f0eaeb"/><rect x="569.10" y="115.62" width="7.20" height="7.18" fill="#f1eced"/><rect x="575.70" y="115.62" width="7.20" height="7.18" fill="#f1f1f1"/><rect x="582.30" y="115.62" width="7.20" height="7.18" fill="#f1eced"/><rect x="588.90" y="115.62" width="7.20" height="7.18" fill="#f0eaeb"/><rect x="595.50" y="115.62" width="13.80" height="7.18" fill="#f0e3e4"/><rect x="608.70" y="115.62" width="27.00" height="7.18" fill="#f0e6e6"/><rect x="635.10" y="115.62" width="7.20" height="7.18" fill="#f0e3e4"/><rect x="641.70" y="115.62" width="13.80" height="7.18" fill="#f0e6e6"/><rect x="654.90" y="115.62" width="13.20" height="7.18" fill="#f0eaeb"/><rect x="377.70" y="122.20" width="7.20" height="7.18" fill="#f84b4c"/><rect x="384.30" y="122.20" width="7.20" height="7.18" fill="#f06e74"/><rect x="390.90" y="122.20" width="7.20" height="7.18" fill="#ee888d"/><rect x="397.50" y="122.20" width="13.80" height="7.18" fill="#ed9095"/><rect x="410.70" y="122.20" width="20.40" height="7.18" fill="#ec9a9e"/><rect x="430.50" y="122.20" width="13.80" height="7.18" fill="#eca1a5"/><rect x="443.70" y="122.20" width="7.20" height="7.18" fill="#eca8ac"/><rect x="450.30" y="122.20" width="7.20" height="7.18" fill="#ebb1b5"/><rect x="456.90" y="122.20" width="13.80" height="7.18" fill="#ecb8bc"/><rect x="470.10" y="122.20" width="7.20" height="7.18" fill="#ebb1b5"/><rect x="476.70" y="122.20" width="7.20" height="7.18" fill="#ecb8bc"/><rect x="483.30" y="122.20" width="7.20" height="7.18" fill="#ecbfc2"/><rect x="489.90" y="122.20" width="7.20" height="7.18" fill="#edc8cb"/><rect x="496.50" y="122.20" width="7.20" height="7.18" fill="#eecfd1"/><rect x="503.10" y="122.20" width="46.80" height="7.18" fill="#eed6d8"/><rect x="549.30" y="122.20" width="20.40" height="7.18" fill="#efdfe0"/><rect x="569.10" y="122.20" width="7.20" height="7.18" fill="#f0e6e6"/><rect x="575.70" y="122.20" width="13.80" height="7.18" fill="#f0e3e4"/><rect x="588.90" y="122.20" width="7.20" height="7.18" fill="#efdfe0"/><rect x="595.50" y="122.20" width="13.80" height="7.18" fill="#f0e6e6"/><rect x="608.70" y="122.20" width="20.40" height="7.18" fill="#efdfe0"/><rect x="628.50" y="122.20" width="20.40" height="7.18" fill="#efdadc"/><rect x="648.30" y="122.20" width="19.80" height="7.18" fill="#f0e3e4"/><rect x="377.70" y="128.78" width="7.20" height="7.18" fill="#ee888d"/><rect x="384.30" y="128.78" width="7.20" height="7.18" fill="#ec9a9e"/><rect x="390.90" y="128.78" width="7.20" height="7.18" fill="#eca8ac"/><rect x="397.50" y="128.78" width="7.20" height="7.18" fill="#ebb1b5"/><rect x="404.10" y="128.78" width="7.20" height="7.18" fill="#ecb8bc"/><rect x="410.70" y="128.78" width="13.80" height="7.18" fill="#edc4c7"/><rect x="423.90" y="128.78" width="13.80" height="7.18" fill="#ecbfc2"/><rect x="437.10" y="128.78" width="7.20" height="7.18" fill="#edc4c7"/><rect x="443.70" y="128.78" width="7.20" height="7.18" fill="#ebb1b5"/><rect x="450.30" y="128.78" width="20.40" height="7.18" fill="#edc4c7"/><rect x="470.10" y="128.78" width="7.20" height="7.18" fill="#ecbfc2"/><rect x="476.70" y="128.78" width="7.20" height="7.18" fill="#edc8cb"/><rect x="483.30" y="128.78" width="13.80" height="7.18" fill="#eecfd1"/><rect x="496.50" y="128.78" width="7.20" height="7.18" fill="#eed6d8"/><rect x="503.10" y="128.78" width="13.80" height="7.18" fill="#efdadc"/><rect x="516.30" y="128.78" width="7.20" height="7.18" fill="#efdfe0"/><rect x="522.90" y="128.78" width="20.40" height="7.18" fill="#efdadc"/><rect x="542.70" y="128.78" width="27.00" height="7.18" fill="#efdfe0"/><rect x="569.10" y="128.78" width="7.20" height="7.18" fill="#f0e3e4"/><rect x="575.70" y="128.78" width="7.20" height="7.18" fill="#efdfe0"/><rect x="582.30" y="128.78" width="7.20" height="7.18" fill="#f0e6e6"/><rect x="588.90" y="128.78" width="7.20" height="7.18" fill="#f0eaeb"/><rect x="595.50" y="128.78" width="7.20" height="7.18" fill="#f0e3e4"/><rect x="602.10" y="128.78" width="7.20" height="7.18" fill="#f0eaeb"/><rect x="608.70" y="128.78" width="27.00" height="7.18" fill="#f0e6e6"/><rect x="635.10" y="128.78" width="7.20" height="7.18" fill="#f0eaeb"/><rect x="641.70" y="128.78" width="7.20" height="7.18" fill="#f1eced"/><rect x="648.30" y="128.78" width="7.20" height="7.18" fill="#f1f1f1"/><rect x="654.90" y="128.78" width="13.20" height="7.18" fill="#f1eced"/><rect x="377.70" y="135.35" width="7.20" height="7.17" fill="#ee7b80"/><rect x="384.30" y="135.35" width="7.20" height="7.17" fill="#ec9a9e"/><rect x="390.90" y="135.35" width="13.80" height="7.17" fill="#eca1a5"/><rect x="404.10" y="135.35" width="13.80" height="7.17" fill="#eca8ac"/><rect x="417.30" y="135.35" width="20.40" height="7.17" fill="#ebadb1"/><rect x="437.10" y="135.35" width="13.80" height="7.17" fill="#eca8ac"/><rect x="450.30" y="135.35" width="7.20" height="7.17" fill="#ebadb1"/><rect x="456.90" y="135.35" width="7.20" height="7.17" fill="#ebb1b5"/><rect x="463.50" y="135.35" width="20.40" height="7.17" fill="#ecb8bc"/><rect x="483.30" y="135.35" width="7.20" height="7.17" fill="#edc4c7"/><rect x="489.90" y="135.35" width="7.20" height="7.17" fill="#edc8cb"/><rect x="496.50" y="135.35" width="13.80" height="7.17" fill="#eed6d8"/><rect x="509.70" y="135.35" width="7.20" height="7.17" fill="#efdadc"/><rect x="516.30" y="135.35" width="7.20" height="7.17" fill="#efdfe0"/><rect x="522.90" y="135.35" width="13.80" height="7.17" fill="#eed6d8"/><rect x="536.10" y="135.35" width="7.20" height="7.17" fill="#efdadc"/><rect x="542.70" y="135.35" width="13.80" height="7.17" fill="#eed6d8"/><rect x="555.90" y="135.35" width="20.40" height="7.17" fill="#efdfe0"/><rect x="575.70" y="135.35" width="7.20" height="7.17" fill="#f0e3e4"/><rect x="582.30" y="135.35" width="13.80" height="7.17" fill="#f0eaeb"/><rect x="595.50" y="135.35" width="7.20" height="7.17" fill="#f0e3e4"/><rect x="602.10" y="135.35" width="7.20" height="7.17" fill="#f1f1f1"/><rect x="608.70" y="135.35" width="7.20" height="7.17" fill="#f1eced"/><rect x="615.30" y="135.35" width="7.20" height="7.17" fill="#f0eaeb"/><rect x="621.90" y="135.35" width="7.20" height="7.17" fill="#f0e3e4"/><rect x="628.50" y="135.35" width="20.40" height="7.17" fill="#f1f1f1"/><rect x="648.30" y="135.35" width="7.20" height="7.17" fill="#edeff1"/><rect x="654.90" y="135.35" width="7.20" height="7.17" fill="#f1f1f1"/><rect x="661.50" y="135.35" width="6.60" height="7.17" fill="#ebeef1"/><rect x="377.70" y="141.93" width="40.20" height="7.17" fill="#ec9a9e"/><rect x="417.30" y="141.93" width="33.60" height="7.17" fill="#eca1a5"/><rect x="450.30" y="141.93" width="7.20" height="7.17" fill="#eca8ac"/><rect x="456.90" y="141.93" width="7.20" height="7.17" fill="#ebadb1"/><rect x="463.50" y="141.93" width="20.40" height="7.17" fill="#ebb1b5"/><rect x="483.30" y="141.93" width="13.80" height="7.17" fill="#ecb8bc"/><rect x="496.50" y="141.93" width="7.20" height="7.17" fill="#ecbfc2"/><rect x="503.10" y="141.93" width="7.20" height="7.17" fill="#edc4c7"/><rect x="509.70" y="141.93" width="27.00" height="7.17" fill="#edc8cb"/><rect x="536.10" y="141.93" width="33.60" height="7.17" fill="#edc4c7"/><rect x="569.10" y="141.93" width="20.40" height="7.17" fill="#edc8cb"/><rect x="588.90" y="141.93" width="7.20" height="7.17" fill="#eecfd1"/><rect x="595.50" y="141.93" width="40.20" height="7.17" fill="#edc8cb"/><rect x="635.10" y="141.93" width="7.20" height="7.17" fill="#edc4c7"/><rect x="641.70" y="141.93" width="26.40" height="7.17" fill="#edc8cb"/><rect x="377.70" y="148.50" width="7.20" height="7.18" fill="#fd3632"/><rect x="384.30" y="148.50" width="7.20" height="7.18" fill="#f35f63"/><rect x="390.90" y="148.50" width="13.80" height="7.18" fill="#f1686d"/><rect x="404.10" y="148.50" width="13.80" height="7.18" fill="#f06e74"/><rect x="417.30" y="148.50" width="7.20" height="7.18" fill="#ef757b"/><rect x="423.90" y="148.50" width="13.80" height="7.18" fill="#ee7b80"/><rect x="437.10" y="148.50" width="20.40" height="7.18" fill="#ee888d"/><rect x="456.90" y="148.50" width="13.80" height="7.18" fill="#ed9095"/><rect x="470.10" y="148.50" width="13.80" height="7.18" fill="#ed959a"/><rect x="483.30" y="148.50" width="7.20" height="7.18" fill="#ec9a9e"/><rect x="489.90" y="148.50" width="7.20" height="7.18" fill="#eca1a5"/><rect x="496.50" y="148.50" width="7.20" height="7.18" fill="#eca8ac"/><rect x="503.10" y="148.50" width="7.20" height="7.18" fill="#ebadb1"/><rect x="509.70" y="148.50" width="33.60" height="7.18" fill="#ebb1b5"/><rect x="542.70" y="148.50" width="20.40" height="7.18" fill="#ecb8bc"/><rect x="562.50" y="148.50" width="7.20" height="7.18" fill="#ecbfc2"/><rect x="569.10" y="148.50" width="20.40" height="7.18" fill="#edc4c7"/><rect x="588.90" y="148.50" width="60.00" height="7.18" fill="#ecbfc2"/><rect x="648.30" y="148.50" width="19.80" height="7.18" fill="#edc4c7"/><rect x="377.70" y="155.08" width="7.20" height="7.17" fill="#fc3937"/><rect x="384.30" y="155.08" width="7.20" height="7.17" fill="#f26468"/><rect x="390.90" y="155.08" width="7.20" height="7.17" fill="#f06e74"/><rect x="397.50" y="155.08" width="7.20" height="7.17" fill="#ef757b"/><rect x="404.10" y="155.08" width="7.20" height="7.17" fill="#ee7b80"/><rect x="410.70" y="155.08" width="13.80" height="7.17" fill="#ee8085"/><rect x="423.90" y="155.08" width="13.80" height="7.17" fill="#ee888d"/><rect x="437.10" y="155.08" width="13.80" height="7.17" fill="#ed9095"/><rect x="450.30" y="155.08" width="13.80" height="7.17" fill="#ec9a9e"/><rect x="463.50" y="155.08" width="7.20" height="7.17" fill="#ec9ea3"/><rect x="470.10" y="155.08" width="7.20" height="7.17" fill="#eca1a5"/><rect x="476.70" y="155.08" width="7.20" height="7.17" fill="#eca8ac"/><rect x="483.30" y="155.08" width="7.20" height="7.17" fill="#ebadb1"/><rect x="489.90" y="155.08" width="7.20" height="7.17" fill="#ebb1b5"/><rect x="496.50" y="155.08" width="7.20" height="7.17" fill="#ecb8bc"/><rect x="503.10" y="155.08" width="7.20" height="7.17" fill="#ecbfc2"/><rect x="509.70" y="155.08" width="27.00" height="7.17" fill="#edc4c7"/><rect x="536.10" y="155.08" width="27.00" height="7.17" fill="#edc8cb"/><rect x="562.50" y="155.08" width="13.80" height="7.17" fill="#eecfd1"/><rect x="575.70" y="155.08" width="79.80" height="7.17" fill="#eed6d8"/><rect x="654.90" y="155.08" width="13.20" height="7.17" fill="#efdadc"/><rect x="377.70" y="161.65" width="7.20" height="7.17" fill="#fc3b3a"/><rect x="384.30" y="161.65" width="7.20" height="7.17" fill="#f65356"/><rect x="390.90" y="161.65" width="7.20" height="7.17" fill="#f35f63"/><rect x="397.50" y="161.65" width="7.20" height="7.17" fill="#f1686d"/><rect x="404.10" y="161.65" width="13.80" height="7.17" fill="#f06e74"/><rect x="417.30" y="161.65" width="7.20" height="7.17" fill="#ef757b"/><rect x="423.90" y="161.65" width="13.80" height="7.17" fill="#ee7b80"/><rect x="437.10" y="161.65" width="7.20" height="7.17" fill="#ee8085"/><rect x="443.70" y="161.65" width="13.80" height="7.17" fill="#ee888d"/><rect x="456.90" y="161.65" width="7.20" height="7.17" fill="#ed9095"/><rect x="463.50" y="161.65" width="7.20" height="7.17" fill="#ed959a"/><rect x="470.10" y="161.65" width="7.20" height="7.17" fill="#ec9a9e"/><rect x="476.70" y="161.65" width="13.80" height="7.17" fill="#eca1a5"/><rect x="489.90" y="161.65" width="7.20" height="7.17" fill="#eca8ac"/><rect x="496.50" y="161.65" width="7.20" height="7.17" fill="#ebadb1"/><rect x="503.10" y="161.65" width="7.20" height="7.17" fill="#ebb1b5"/><rect x="509.70" y="161.65" width="20.40" height="7.17" fill="#ecb8bc"/><rect x="529.50" y="161.65" width="7.20" height="7.17" fill="#ecbfc2"/><rect x="536.10" y="161.65" width="13.80" height="7.17" fill="#edc4c7"/><rect x="549.30" y="161.65" width="20.40" height="7.17" fill="#edc8cb"/><rect x="569.10" y="161.65" width="7.20" height="7.17" fill="#eecfd1"/><rect x="575.70" y="161.65" width="7.20" height="7.17" fill="#edc8cb"/><rect x="582.30" y="161.65" width="13.80" height="7.17" fill="#eecfd1"/><rect x="595.50" y="161.65" width="7.20" height="7.17" fill="#edc8cb"/><rect x="602.10" y="161.65" width="27.00" height="7.17" fill="#eecfd1"/><rect x="628.50" y="161.65" width="7.20" height="7.17" fill="#edc8cb"/><rect x="635.10" y="161.65" width="20.40" height="7.17" fill="#eecfd1"/><rect x="654.90" y="161.65" width="13.20" height="7.17" fill="#eed6d8"/><rect x="377.70" y="168.22" width="7.20" height="6.58" fill="#f5595c"/><rect x="384.30" y="168.22" width="7.20" height="6.58" fill="#f06e74"/><rect x="390.90" y="168.22" width="7.20" height="6.58" fill="#ee7b80"/><rect x="397.50" y="168.22" width="7.20" height="6.58" fill="#ee8085"/><rect x="404.10" y="168.22" width="13.80" height="6.58" fill="#ee888d"/><rect x="417.30" y="168.22" width="13.80" height="6.58" fill="#ed9095"/><rect x="430.50" y="168.22" width="7.20" height="6.58" fill="#ed959a"/><rect x="437.10" y="168.22" width="13.80" height="6.58" fill="#ec9a9e"/><rect x="450.30" y="168.22" width="7.20" height="6.58" fill="#eca8ac"/><rect x="456.90" y="168.22" width="13.80" height="6.58" fill="#ebadb1"/><rect x="470.10" y="168.22" width="7.20" height="6.58" fill="#ebb1b5"/><rect x="476.70" y="168.22" width="7.20" height="6.58" fill="#ecb8bc"/><rect x="483.30" y="168.22" width="7.20" height="6.58" fill="#ecbfc2"/><rect x="489.90" y="168.22" width="13.80" height="6.58" fill="#edc4c7"/><rect x="503.10" y="168.22" width="20.40" height="6.58" fill="#edc8cb"/><rect x="522.90" y="168.22" width="13.80" height="6.58" fill="#eecfd1"/><rect x="536.10" y="168.22" width="20.40" height="6.58" fill="#eed6d8"/><rect x="555.90" y="168.22" width="60.00" height="6.58" fill="#efdadc"/><rect x="615.30" y="168.22" width="52.80" height="6.58" fill="#efdfe0"/></g><path d="M377.70 20.29h-1.6M377.70 26.86h-1.6M377.70 33.44h-1.6M377.70 40.01h-1.6M377.70 46.59h-1.6M377.70 53.16h-1.6M377.70 59.74h-1.6M377.70 66.31h-1.6M377.70 72.89h-1.6M377.70 79.46h-1.6M377.70 86.04h-1.6M377.70 92.61h-1.6M377.70 99.19h-1.6M377.70 105.76h-1.6M377.70 112.34h-1.6M377.70 118.91h-1.6M377.70 125.49h-1.6M377.70 132.06h-1.6M377.70 138.64h-1.6M377.70 145.21h-1.6M377.70 151.79h-1.6M377.70 158.36h-1.6M377.70 164.94h-1.6M377.70 171.51h-1.6M381.00 174.80v2.0M394.20 174.80v2.0M407.40 174.80v2.0M420.60 174.80v2.0M433.80 174.80v2.0M447.00 174.80v2.0M460.20 174.80v2.0M473.40 174.80v2.0M486.60 174.80v2.0M499.80 174.80v2.0M513.00 174.80v2.0M526.20 174.80v2.0M539.40 174.80v2.0M552.60 174.80v2.0M565.80 174.80v2.0M579.00 174.80v2.0M592.20 174.80v2.0M605.40 174.80v2.0M618.60 174.80v2.0M631.80 174.80v2.0M645.00 174.80v2.0M658.20 174.80v2.0" stroke="#111" stroke-width="1.0" fill="none" shape-rendering="auto"/><g font-size="7.3"><text x="372.80" y="22.39" text-anchor="end">WJ</text><text x="372.80" y="28.96" text-anchor="end">HM</text><text x="372.80" y="35.54" text-anchor="end">SHC</text><text x="372.80" y="42.11" text-anchor="end">LS</text><text x="372.80" y="48.69" text-anchor="end">LC</text><text x="372.80" y="55.26" text-anchor="end">PL</text><text x="372.80" y="61.84" text-anchor="end">YW</text><text x="372.80" y="68.41" text-anchor="end">ZP</text><text x="372.80" y="74.99" text-anchor="end">HY</text><text x="372.80" y="81.56" text-anchor="end">SC</text><text x="372.80" y="88.14" text-anchor="end">LX</text><text x="372.80" y="94.71" text-anchor="end">RS</text><text x="372.80" y="101.29" text-anchor="end">BL</text><text x="372.80" y="107.86" text-anchor="end">FLX</text><text x="372.80" y="114.44" text-anchor="end">SJ</text><text x="372.80" y="121.01" text-anchor="end">LZh</text><text x="372.80" y="127.59" text-anchor="end">XZ</text><text x="372.80" y="134.16" text-anchor="end">NN</text><text x="372.80" y="140.74" text-anchor="end">GG</text><text x="372.80" y="147.31" text-anchor="end">QJ</text><text x="372.80" y="153.89" text-anchor="end">WX</text><text x="372.80" y="160.46" text-anchor="end">DHJK</text><text x="372.80" y="167.04" text-anchor="end">WZ</text><text x="372.80" y="173.61" text-anchor="end">GY</text></g><g font-size="9.4"><text x="381.00" y="186.50" text-anchor="middle">1</text><text x="394.20" y="186.50" text-anchor="middle">3</text><text x="407.40" y="186.50" text-anchor="middle">5</text><text x="420.60" y="186.50" text-anchor="middle">7</text><text x="433.80" y="186.50" text-anchor="middle">9</text><text x="447.00" y="186.50" text-anchor="middle">11</text><text x="460.20" y="186.50" text-anchor="middle">13</text><text x="473.40" y="186.50" text-anchor="middle">15</text><text x="486.60" y="186.50" text-anchor="middle">17</text><text x="499.80" y="186.50" text-anchor="middle">19</text><text x="513.00" y="186.50" text-anchor="middle">21</text><text x="526.20" y="186.50" text-anchor="middle">23</text><text x="539.40" y="186.50" text-anchor="middle">25</text><text x="552.60" y="186.50" text-anchor="middle">27</text><text x="565.80" y="186.50" text-anchor="middle">29</text><text x="579.00" y="186.50" text-anchor="middle">31</text><text x="592.20" y="186.50" text-anchor="middle">33</text><text x="605.40" y="186.50" text-anchor="middle">35</text><text x="618.60" y="186.50" text-anchor="middle">37</text><text x="631.80" y="186.50" text-anchor="middle">39</text><text x="645.00" y="186.50" text-anchor="middle">41</text><text x="658.20" y="186.50" text-anchor="middle">43</text></g><text x="522.90" y="199.00" text-anchor="middle" font-size="9.6">Lead days</text><text x="522.90" y="11.10" text-anchor="middle" font-size="13.8">BJP</text><text x="349.00" y="11.85" font-size="16.4">(b)</text><g shape-rendering="auto" filter="url(#soft)"><rect x="29.10" y="228.10" width="13.80" height="7.17" fill="#ebafb3"/><rect x="42.30" y="228.10" width="7.20" height="7.17" fill="#ebb3b7"/><rect x="48.90" y="228.10" width="7.20" height="7.17" fill="#ebafb3"/><rect x="55.50" y="228.10" width="7.20" height="7.17" fill="#ebb3b7"/><rect x="62.10" y="228.10" width="7.20" height="7.17" fill="#ebafb3"/><rect x="68.70" y="228.10" width="7.20" height="7.17" fill="#eca3a8"/><rect x="75.30" y="228.10" width="7.20" height="7.17" fill="#ebb3b7"/><rect x="81.90" y="228.10" width="7.20" height="7.17" fill="#ebafb3"/><rect x="88.50" y="228.10" width="7.20" height="7.17" fill="#ebb3b7"/><rect x="95.10" y="228.10" width="7.20" height="7.17" fill="#ebafb3"/><rect x="101.70" y="228.10" width="13.80" height="7.17" fill="#ecbabd"/><rect x="114.90" y="228.10" width="7.20" height="7.17" fill="#ebb3b7"/><rect x="121.50" y="228.10" width="7.20" height="7.17" fill="#ecc0c4"/><rect x="128.10" y="228.10" width="20.40" height="7.17" fill="#ecbabd"/><rect x="147.90" y="228.10" width="13.80" height="7.17" fill="#edc5c8"/><rect x="161.10" y="228.10" width="7.20" height="7.17" fill="#ecc0c4"/><rect x="167.70" y="228.10" width="20.40" height="7.17" fill="#eed0d2"/><rect x="187.50" y="228.10" width="7.20" height="7.17" fill="#edc9cc"/><rect x="194.10" y="228.10" width="7.20" height="7.17" fill="#eed7d8"/><rect x="200.70" y="228.10" width="20.40" height="7.17" fill="#eed0d2"/><rect x="220.50" y="228.10" width="13.80" height="7.17" fill="#eed7d8"/><rect x="233.70" y="228.10" width="7.20" height="7.17" fill="#eed0d2"/><rect x="240.30" y="228.10" width="13.80" height="7.17" fill="#eed7d8"/><rect x="253.50" y="228.10" width="7.20" height="7.17" fill="#eed0d2"/><rect x="260.10" y="228.10" width="7.20" height="7.17" fill="#efdfe0"/><rect x="266.70" y="228.10" width="7.20" height="7.17" fill="#efdbdc"/><rect x="273.30" y="228.10" width="13.80" height="7.17" fill="#eed7d8"/><rect x="286.50" y="228.10" width="13.80" height="7.17" fill="#efdfe0"/><rect x="299.70" y="228.10" width="7.20" height="7.17" fill="#eed7d8"/><rect x="306.30" y="228.10" width="13.20" height="7.17" fill="#efdbdc"/><rect x="29.10" y="234.67" width="7.20" height="7.17" fill="#f45b5f"/><rect x="35.70" y="234.67" width="7.20" height="7.17" fill="#ee7d83"/><rect x="42.30" y="234.67" width="7.20" height="7.17" fill="#ec9ca1"/><rect x="48.90" y="234.67" width="13.80" height="7.17" fill="#edc9cc"/><rect x="62.10" y="234.67" width="7.20" height="7.17" fill="#ebb3b7"/><rect x="68.70" y="234.67" width="7.20" height="7.17" fill="#f1f1f1"/><rect x="75.30" y="234.67" width="7.20" height="7.17" fill="#edc9cc"/><rect x="81.90" y="234.67" width="7.20" height="7.17" fill="#ec9ca1"/><rect x="88.50" y="234.67" width="7.20" height="7.17" fill="#ebb3b7"/><rect x="95.10" y="234.67" width="7.20" height="7.17" fill="#ec9ca1"/><rect x="101.70" y="234.67" width="7.20" height="7.17" fill="#eca3a8"/><rect x="108.30" y="234.67" width="7.20" height="7.17" fill="#ebaaae"/><rect x="114.90" y="234.67" width="20.40" height="7.17" fill="#ebafb3"/><rect x="134.70" y="234.67" width="7.20" height="7.17" fill="#ebb3b7"/><rect x="141.30" y="234.67" width="7.20" height="7.17" fill="#eed7d8"/><rect x="147.90" y="234.67" width="7.20" height="7.17" fill="#ebaaae"/><rect x="154.50" y="234.67" width="13.80" height="7.17" fill="#ecc0c4"/><rect x="167.70" y="234.67" width="20.40" height="7.17" fill="#ebb3b7"/><rect x="187.50" y="234.67" width="7.20" height="7.17" fill="#ecbabd"/><rect x="194.10" y="234.67" width="7.20" height="7.17" fill="#edc5c8"/><rect x="200.70" y="234.67" width="13.80" height="7.17" fill="#eed0d2"/><rect x="213.90" y="234.67" width="7.20" height="7.17" fill="#edc9cc"/><rect x="220.50" y="234.67" width="7.20" height="7.17" fill="#eed0d2"/><rect x="227.10" y="234.67" width="13.80" height="7.17" fill="#eed7d8"/><rect x="240.30" y="234.67" width="7.20" height="7.17" fill="#edc9cc"/><rect x="246.90" y="234.67" width="7.20" height="7.17" fill="#eed7d8"/><rect x="253.50" y="234.67" width="13.80" height="7.17" fill="#efdfe0"/><rect x="266.70" y="234.67" width="27.00" height="7.17" fill="#efdbdc"/><rect x="293.10" y="234.67" width="7.20" height="7.17" fill="#eed0d2"/><rect x="299.70" y="234.67" width="7.20" height="7.17" fill="#efdbdc"/><rect x="306.30" y="234.67" width="7.20" height="7.17" fill="#eed0d2"/><rect x="312.90" y="234.67" width="6.60" height="7.17" fill="#efdbdc"/><rect x="29.10" y="241.24" width="7.20" height="7.17" fill="#f36166"/><rect x="35.70" y="241.24" width="7.20" height="7.17" fill="#ec9ca1"/><rect x="42.30" y="241.24" width="7.20" height="7.17" fill="#eca3a8"/><rect x="48.90" y="241.24" width="20.40" height="7.17" fill="#ec9ca1"/><rect x="68.70" y="241.24" width="13.80" height="7.17" fill="#eca3a8"/><rect x="81.90" y="241.24" width="7.20" height="7.17" fill="#ebb3b7"/><rect x="88.50" y="241.24" width="13.80" height="7.17" fill="#ebaaae"/><rect x="101.70" y="241.24" width="27.00" height="7.17" fill="#ebafb3"/><rect x="128.10" y="241.24" width="7.20" height="7.17" fill="#eed0d2"/><rect x="134.70" y="241.24" width="13.80" height="7.17" fill="#ecc0c4"/><rect x="147.90" y="241.24" width="7.20" height="7.17" fill="#edc9cc"/><rect x="154.50" y="241.24" width="13.80" height="7.17" fill="#eed0d2"/><rect x="167.70" y="241.24" width="7.20" height="7.17" fill="#edc9cc"/><rect x="174.30" y="241.24" width="7.20" height="7.17" fill="#eed7d8"/><rect x="180.90" y="241.24" width="7.20" height="7.17" fill="#efdfe0"/><rect x="187.50" y="241.24" width="13.80" height="7.17" fill="#eed0d2"/><rect x="200.70" y="241.24" width="7.20" height="7.17" fill="#eed7d8"/><rect x="207.30" y="241.24" width="7.20" height="7.17" fill="#efdfe0"/><rect x="213.90" y="241.24" width="7.20" height="7.17" fill="#eed7d8"/><rect x="220.50" y="241.24" width="20.40" height="7.17" fill="#efdbdc"/><rect x="240.30" y="241.24" width="13.80" height="7.17" fill="#eed7d8"/><rect x="253.50" y="241.24" width="7.20" height="7.17" fill="#efdfe0"/><rect x="260.10" y="241.24" width="7.20" height="7.17" fill="#f0e4e5"/><rect x="266.70" y="241.24" width="7.20" height="7.17" fill="#efdfe0"/><rect x="273.30" y="241.24" width="13.80" height="7.17" fill="#f0e4e5"/><rect x="286.50" y="241.24" width="13.80" height="7.17" fill="#efdfe0"/><rect x="299.70" y="241.24" width="7.20" height="7.17" fill="#efdbdc"/><rect x="306.30" y="241.24" width="7.20" height="7.17" fill="#f0e4e5"/><rect x="312.90" y="241.24" width="6.60" height="7.17" fill="#efdfe0"/><rect x="29.10" y="247.81" width="7.20" height="7.17" fill="#ed9297"/><rect x="35.70" y="247.81" width="7.20" height="7.17" fill="#ec9ca1"/><rect x="42.30" y="247.81" width="27.00" height="7.17" fill="#ebaaae"/><rect x="68.70" y="247.81" width="20.40" height="7.17" fill="#ebafb3"/><rect x="88.50" y="247.81" width="13.80" height="7.17" fill="#ebb3b7"/><rect x="101.70" y="247.81" width="13.80" height="7.17" fill="#ebafb3"/><rect x="114.90" y="247.81" width="7.20" height="7.17" fill="#ecbabd"/><rect x="121.50" y="247.81" width="7.20" height="7.17" fill="#ebafb3"/><rect x="128.10" y="247.81" width="7.20" height="7.17" fill="#ebaaae"/><rect x="134.70" y="247.81" width="7.20" height="7.17" fill="#ebafb3"/><rect x="141.30" y="247.81" width="13.80" height="7.17" fill="#ecbabd"/><rect x="154.50" y="247.81" width="7.20" height="7.17" fill="#ebb3b7"/><rect x="161.10" y="247.81" width="7.20" height="7.17" fill="#edc5c8"/><rect x="167.70" y="247.81" width="13.80" height="7.17" fill="#ecc0c4"/><rect x="180.90" y="247.81" width="20.40" height="7.17" fill="#edc5c8"/><rect x="200.70" y="247.81" width="7.20" height="7.17" fill="#edc9cc"/><rect x="207.30" y="247.81" width="13.80" height="7.17" fill="#eed0d2"/><rect x="220.50" y="247.81" width="7.20" height="7.17" fill="#edc9cc"/><rect x="227.10" y="247.81" width="20.40" height="7.17" fill="#eed0d2"/><rect x="246.90" y="247.81" width="20.40" height="7.17" fill="#efdbdc"/><rect x="266.70" y="247.81" width="13.80" height="7.17" fill="#eed7d8"/><rect x="279.90" y="247.81" width="13.80" height="7.17" fill="#efdbdc"/><rect x="293.10" y="247.81" width="7.20" height="7.17" fill="#eed7d8"/><rect x="299.70" y="247.81" width="19.80" height="7.17" fill="#efdbdc"/><rect x="29.10" y="254.38" width="7.20" height="7.17" fill="#f94648"/><rect x="35.70" y="254.38" width="7.20" height="7.17" fill="#ee8288"/><rect x="42.30" y="254.38" width="7.20" height="7.17" fill="#ed8a90"/><rect x="48.90" y="254.38" width="7.20" height="7.17" fill="#ed9297"/><rect x="55.50" y="254.38" width="13.80" height="7.17" fill="#ed8a90"/><rect x="68.70" y="254.38" width="7.20" height="7.17" fill="#ef7076"/><rect x="75.30" y="254.38" width="7.20" height="7.17" fill="#ef787e"/><rect x="81.90" y="254.38" width="7.20" height="7.17" fill="#ee7d83"/><rect x="88.50" y="254.38" width="13.80" height="7.17" fill="#ef787e"/><rect x="101.70" y="254.38" width="7.20" height="7.17" fill="#ee7d83"/><rect x="108.30" y="254.38" width="7.20" height="7.17" fill="#ed8a90"/><rect x="114.90" y="254.38" width="7.20" height="7.17" fill="#ed9297"/><rect x="121.50" y="254.38" width="20.40" height="7.17" fill="#ec9ca1"/><rect x="141.30" y="254.38" width="7.20" height="7.17" fill="#eca3a8"/><rect x="147.90" y="254.38" width="13.80" height="7.17" fill="#ebafb3"/><rect x="161.10" y="254.38" width="7.20" height="7.17" fill="#ecbabd"/><rect x="167.70" y="254.38" width="7.20" height="7.17" fill="#edc5c8"/><rect x="174.30" y="254.38" width="40.20" height="7.17" fill="#eed0d2"/><rect x="213.90" y="254.38" width="27.00" height="7.17" fill="#eed7d8"/><rect x="240.30" y="254.38" width="13.80" height="7.17" fill="#efdbdc"/><rect x="253.50" y="254.38" width="7.20" height="7.17" fill="#eed7d8"/><rect x="260.10" y="254.38" width="27.00" height="7.17" fill="#efdbdc"/><rect x="286.50" y="254.38" width="20.40" height="7.17" fill="#f0e4e5"/><rect x="306.30" y="254.38" width="13.20" height="7.17" fill="#f0e6e7"/><rect x="29.10" y="260.95" width="7.20" height="7.17" fill="#f45b5f"/><rect x="35.70" y="260.95" width="7.20" height="7.17" fill="#ee8288"/><rect x="42.30" y="260.95" width="7.20" height="7.17" fill="#ec9ca1"/><rect x="48.90" y="260.95" width="7.20" height="7.17" fill="#ebafb3"/><rect x="55.50" y="260.95" width="7.20" height="7.17" fill="#ed8a90"/><rect x="62.10" y="260.95" width="13.80" height="7.17" fill="#eca3a8"/><rect x="75.30" y="260.95" width="13.80" height="7.17" fill="#ed9297"/><rect x="88.50" y="260.95" width="20.40" height="7.17" fill="#ec9ca1"/><rect x="108.30" y="260.95" width="13.80" height="7.17" fill="#ebafb3"/><rect x="121.50" y="260.95" width="7.20" height="7.17" fill="#eca3a8"/><rect x="128.10" y="260.95" width="7.20" height="7.17" fill="#ebaaae"/><rect x="134.70" y="260.95" width="7.20" height="7.17" fill="#ebb3b7"/><rect x="141.30" y="260.95" width="7.20" height="7.17" fill="#ebaaae"/><rect x="147.90" y="260.95" width="7.20" height="7.17" fill="#eca3a8"/><rect x="154.50" y="260.95" width="33.60" height="7.17" fill="#ebb3b7"/><rect x="187.50" y="260.95" width="7.20" height="7.17" fill="#ebafb3"/><rect x="194.10" y="260.95" width="7.20" height="7.17" fill="#ecbabd"/><rect x="200.70" y="260.95" width="7.20" height="7.17" fill="#ecc0c4"/><rect x="207.30" y="260.95" width="7.20" height="7.17" fill="#edc5c8"/><rect x="213.90" y="260.95" width="13.80" height="7.17" fill="#ecc0c4"/><rect x="227.10" y="260.95" width="7.20" height="7.17" fill="#edc9cc"/><rect x="233.70" y="260.95" width="13.80" height="7.17" fill="#ecc0c4"/><rect x="246.90" y="260.95" width="7.20" height="7.17" fill="#edc5c8"/><rect x="253.50" y="260.95" width="7.20" height="7.17" fill="#edc9cc"/><rect x="260.10" y="260.95" width="13.80" height="7.17" fill="#edc5c8"/><rect x="273.30" y="260.95" width="13.80" height="7.17" fill="#edc9cc"/><rect x="286.50" y="260.95" width="7.20" height="7.17" fill="#edc5c8"/><rect x="293.10" y="260.95" width="7.20" height="7.17" fill="#edc9cc"/><rect x="299.70" y="260.95" width="7.20" height="7.17" fill="#eed0d2"/><rect x="306.30" y="260.95" width="13.20" height="7.17" fill="#edc5c8"/><rect x="29.10" y="267.52" width="7.20" height="7.17" fill="#f2666a"/><rect x="35.70" y="267.52" width="7.20" height="7.17" fill="#ed989c"/><rect x="42.30" y="267.52" width="7.20" height="7.17" fill="#ebb3b7"/><rect x="48.90" y="267.52" width="7.20" height="7.17" fill="#ebaaae"/><rect x="55.50" y="267.52" width="7.20" height="7.17" fill="#ebafb3"/><rect x="62.10" y="267.52" width="7.20" height="7.17" fill="#ebaaae"/><rect x="68.70" y="267.52" width="7.20" height="7.17" fill="#ebb3b7"/><rect x="75.30" y="267.52" width="7.20" height="7.17" fill="#ecbabd"/><rect x="81.90" y="267.52" width="7.20" height="7.17" fill="#ecc0c4"/><rect x="88.50" y="267.52" width="7.20" height="7.17" fill="#ebb3b7"/><rect x="95.10" y="267.52" width="7.20" height="7.17" fill="#ebafb3"/><rect x="101.70" y="267.52" width="7.20" height="7.17" fill="#ecbabd"/><rect x="108.30" y="267.52" width="20.40" height="7.17" fill="#ebafb3"/><rect x="128.10" y="267.52" width="7.20" height="7.17" fill="#edc9cc"/><rect x="134.70" y="267.52" width="7.20" height="7.17" fill="#ebafb3"/><rect x="141.30" y="267.52" width="7.20" height="7.17" fill="#edc5c8"/><rect x="147.90" y="267.52" width="7.20" height="7.17" fill="#eed0d2"/><rect x="154.50" y="267.52" width="7.20" height="7.17" fill="#ecc0c4"/><rect x="161.10" y="267.52" width="7.20" height="7.17" fill="#edc5c8"/><rect x="167.70" y="267.52" width="7.20" height="7.17" fill="#ecc0c4"/><rect x="174.30" y="267.52" width="40.20" height="7.17" fill="#eed0d2"/><rect x="213.90" y="267.52" width="33.60" height="7.17" fill="#eed7d8"/><rect x="246.90" y="267.52" width="7.20" height="7.17" fill="#edc9cc"/><rect x="253.50" y="267.52" width="7.20" height="7.17" fill="#eed0d2"/><rect x="260.10" y="267.52" width="7.20" height="7.17" fill="#eed7d8"/><rect x="266.70" y="267.52" width="7.20" height="7.17" fill="#efdfe0"/><rect x="273.30" y="267.52" width="33.60" height="7.17" fill="#eed7d8"/><rect x="306.30" y="267.52" width="13.20" height="7.17" fill="#efdbdc"/><rect x="29.10" y="274.10" width="7.20" height="7.17" fill="#f36166"/><rect x="35.70" y="274.10" width="27.00" height="7.17" fill="#ee8288"/><rect x="62.10" y="274.10" width="7.20" height="7.17" fill="#ed8a90"/><rect x="68.70" y="274.10" width="7.20" height="7.17" fill="#eca3a8"/><rect x="75.30" y="274.10" width="7.20" height="7.17" fill="#ed8a90"/><rect x="81.90" y="274.10" width="7.20" height="7.17" fill="#ed9297"/><rect x="88.50" y="274.10" width="7.20" height="7.17" fill="#ec9ca1"/><rect x="95.10" y="274.10" width="13.80" height="7.17" fill="#eca3a8"/><rect x="108.30" y="274.10" width="13.80" height="7.17" fill="#ebafb3"/><rect x="121.50" y="274.10" width="7.20" height="7.17" fill="#eca3a8"/><rect x="128.10" y="274.10" width="7.20" height="7.17" fill="#ebaaae"/><rect x="134.70" y="274.10" width="7.20" height="7.17" fill="#ebafb3"/><rect x="141.30" y="274.10" width="7.20" height="7.17" fill="#ebaaae"/><rect x="147.90" y="274.10" width="7.20" height="7.17" fill="#eca3a8"/><rect x="154.50" y="274.10" width="7.20" height="7.17" fill="#ebaaae"/><rect x="161.10" y="274.10" width="20.40" height="7.17" fill="#ebb3b7"/><rect x="180.90" y="274.10" width="7.20" height="7.17" fill="#ebafb3"/><rect x="187.50" y="274.10" width="7.20" height="7.17" fill="#ebb3b7"/><rect x="194.10" y="274.10" width="13.80" height="7.17" fill="#ecbabd"/><rect x="207.30" y="274.10" width="20.40" height="7.17" fill="#ecc0c4"/><rect x="227.10" y="274.10" width="7.20" height="7.17" fill="#edc5c8"/><rect x="233.70" y="274.10" width="7.20" height="7.17" fill="#edc9cc"/><rect x="240.30" y="274.10" width="7.20" height="7.17" fill="#ecc0c4"/><rect x="246.90" y="274.10" width="7.20" height="7.17" fill="#edc5c8"/><rect x="253.50" y="274.10" width="7.20" height="7.17" fill="#eed0d2"/><rect x="260.10" y="274.10" width="33.60" height="7.17" fill="#ecc0c4"/><rect x="293.10" y="274.10" width="7.20" height="7.17" fill="#ecbabd"/><rect x="299.70" y="274.10" width="7.20" height="7.17" fill="#eed7d8"/><rect x="306.30" y="274.10" width="13.20" height="7.17" fill="#ecc0c4"/><rect x="29.10" y="280.67" width="7.20" height="7.17" fill="#ef7076"/><rect x="35.70" y="280.67" width="7.20" height="7.17" fill="#ec9ca1"/><rect x="42.30" y="280.67" width="27.00" height="7.17" fill="#ebaaae"/><rect x="68.70" y="280.67" width="33.60" height="7.17" fill="#eca3a8"/><rect x="101.70" y="280.67" width="7.20" height="7.17" fill="#ec9ca1"/><rect x="108.30" y="280.67" width="7.20" height="7.17" fill="#eca3a8"/><rect x="114.90" y="280.67" width="13.80" height="7.17" fill="#ebafb3"/><rect x="128.10" y="280.67" width="13.80" height="7.17" fill="#ebb3b7"/><rect x="141.30" y="280.67" width="13.80" height="7.17" fill="#ecc0c4"/><rect x="154.50" y="280.67" width="20.40" height="7.17" fill="#edc9cc"/><rect x="174.30" y="280.67" width="13.80" height="7.17" fill="#eed0d2"/><rect x="187.50" y="280.67" width="13.80" height="7.17" fill="#eed7d8"/><rect x="200.70" y="280.67" width="33.60" height="7.17" fill="#efdbdc"/><rect x="233.70" y="280.67" width="33.60" height="7.17" fill="#efdfe0"/><rect x="266.70" y="280.67" width="27.00" height="7.17" fill="#f0e4e5"/><rect x="293.10" y="280.67" width="26.40" height="7.17" fill="#f0e6e7"/><rect x="29.10" y="287.24" width="7.20" height="7.17" fill="#f45b5f"/><rect x="35.70" y="287.24" width="7.20" height="7.17" fill="#ef787e"/><rect x="42.30" y="287.24" width="7.20" height="7.17" fill="#ee8288"/><rect x="48.90" y="287.24" width="7.20" height="7.17" fill="#ed9297"/><rect x="55.50" y="287.24" width="7.20" height="7.17" fill="#ec9ca1"/><rect x="62.10" y="287.24" width="7.20" height="7.17" fill="#ed9297"/><rect x="68.70" y="287.24" width="13.80" height="7.17" fill="#ed989c"/><rect x="81.90" y="287.24" width="20.40" height="7.17" fill="#ec9ca1"/><rect x="101.70" y="287.24" width="7.20" height="7.17" fill="#eca3a8"/><rect x="108.30" y="287.24" width="7.20" height="7.17" fill="#ebaaae"/><rect x="114.90" y="287.24" width="7.20" height="7.17" fill="#edc5c8"/><rect x="121.50" y="287.24" width="13.80" height="7.17" fill="#ebaaae"/><rect x="134.70" y="287.24" width="7.20" height="7.17" fill="#ebb3b7"/><rect x="141.30" y="287.24" width="7.20" height="7.17" fill="#ebafb3"/><rect x="147.90" y="287.24" width="46.80" height="7.17" fill="#ebb3b7"/><rect x="194.10" y="287.24" width="7.20" height="7.17" fill="#ecbabd"/><rect x="200.70" y="287.24" width="7.20" height="7.17" fill="#ecc0c4"/><rect x="207.30" y="287.24" width="7.20" height="7.17" fill="#ecbabd"/><rect x="213.90" y="287.24" width="13.80" height="7.17" fill="#ecc0c4"/><rect x="227.10" y="287.24" width="13.80" height="7.17" fill="#edc5c8"/><rect x="240.30" y="287.24" width="46.80" height="7.17" fill="#ecc0c4"/><rect x="286.50" y="287.24" width="7.20" height="7.17" fill="#edc5c8"/><rect x="293.10" y="287.24" width="13.80" height="7.17" fill="#edc9cc"/><rect x="306.30" y="287.24" width="13.20" height="7.17" fill="#edc5c8"/><rect x="29.10" y="293.81" width="7.20" height="7.17" fill="#fc3a39"/><rect x="35.70" y="293.81" width="7.20" height="7.17" fill="#ef7076"/><rect x="42.30" y="293.81" width="7.20" height="7.17" fill="#ed8a90"/><rect x="48.90" y="293.81" width="20.40" height="7.17" fill="#ec9ca1"/><rect x="68.70" y="293.81" width="7.20" height="7.17" fill="#ed989c"/><rect x="75.30" y="293.81" width="20.40" height="7.17" fill="#ec9ca1"/><rect x="95.10" y="293.81" width="20.40" height="7.17" fill="#eca3a8"/><rect x="114.90" y="293.81" width="13.80" height="7.17" fill="#ebafb3"/><rect x="128.10" y="293.81" width="20.40" height="7.17" fill="#ecbabd"/><rect x="147.90" y="293.81" width="7.20" height="7.17" fill="#edc5c8"/><rect x="154.50" y="293.81" width="7.20" height="7.17" fill="#edc9cc"/><rect x="161.10" y="293.81" width="13.80" height="7.17" fill="#eed0d2"/><rect x="174.30" y="293.81" width="20.40" height="7.17" fill="#eed7d8"/><rect x="194.10" y="293.81" width="33.60" height="7.17" fill="#efdbdc"/><rect x="227.10" y="293.81" width="13.80" height="7.17" fill="#efdfe0"/><rect x="240.30" y="293.81" width="7.20" height="7.17" fill="#f0e4e5"/><rect x="246.90" y="293.81" width="20.40" height="7.17" fill="#efdbdc"/><rect x="266.70" y="293.81" width="13.80" height="7.17" fill="#efdfe0"/><rect x="279.90" y="293.81" width="7.20" height="7.17" fill="#f0e4e5"/><rect x="286.50" y="293.81" width="20.40" height="7.17" fill="#f0e6e7"/><rect x="306.30" y="293.81" width="13.20" height="7.17" fill="#f0e4e5"/><rect x="29.10" y="300.38" width="7.20" height="7.17" fill="#f36166"/><rect x="35.70" y="300.38" width="7.20" height="7.17" fill="#ed989c"/><rect x="42.30" y="300.38" width="7.20" height="7.17" fill="#eca3a8"/><rect x="48.90" y="300.38" width="7.20" height="7.17" fill="#ebaaae"/><rect x="55.50" y="300.38" width="20.40" height="7.17" fill="#edc5c8"/><rect x="75.30" y="300.38" width="7.20" height="7.17" fill="#ebb3b7"/><rect x="81.90" y="300.38" width="7.20" height="7.17" fill="#ecc0c4"/><rect x="88.50" y="300.38" width="13.80" height="7.17" fill="#ebaaae"/><rect x="101.70" y="300.38" width="7.20" height="7.17" fill="#eca3a8"/><rect x="108.30" y="300.38" width="7.20" height="7.17" fill="#ebafb3"/><rect x="114.90" y="300.38" width="7.20" height="7.17" fill="#ec9ca1"/><rect x="121.50" y="300.38" width="7.20" height="7.17" fill="#eca3a8"/><rect x="128.10" y="300.38" width="7.20" height="7.17" fill="#ecbabd"/><rect x="134.70" y="300.38" width="7.20" height="7.17" fill="#ebaaae"/><rect x="141.30" y="300.38" width="7.20" height="7.17" fill="#ebb3b7"/><rect x="147.90" y="300.38" width="7.20" height="7.17" fill="#ecbabd"/><rect x="154.50" y="300.38" width="20.40" height="7.17" fill="#ebb3b7"/><rect x="174.30" y="300.38" width="7.20" height="7.17" fill="#ecc0c4"/><rect x="180.90" y="300.38" width="13.80" height="7.17" fill="#ecbabd"/><rect x="194.10" y="300.38" width="13.80" height="7.17" fill="#ecc0c4"/><rect x="207.30" y="300.38" width="7.20" height="7.17" fill="#ecbabd"/><rect x="213.90" y="300.38" width="7.20" height="7.17" fill="#ecc0c4"/><rect x="220.50" y="300.38" width="7.20" height="7.17" fill="#edc9cc"/><rect x="227.10" y="300.38" width="13.80" height="7.17" fill="#edc5c8"/><rect x="240.30" y="300.38" width="7.20" height="7.17" fill="#eed0d2"/><rect x="246.90" y="300.38" width="7.20" height="7.17" fill="#edc5c8"/><rect x="253.50" y="300.38" width="7.20" height="7.17" fill="#ecc0c4"/><rect x="260.10" y="300.38" width="13.80" height="7.17" fill="#edc9cc"/><rect x="273.30" y="300.38" width="7.20" height="7.17" fill="#ecc0c4"/><rect x="279.90" y="300.38" width="7.20" height="7.17" fill="#edc5c8"/><rect x="286.50" y="300.38" width="7.20" height="7.17" fill="#edc9cc"/><rect x="293.10" y="300.38" width="7.20" height="7.17" fill="#eed0d2"/><rect x="299.70" y="300.38" width="7.20" height="7.17" fill="#edc5c8"/><rect x="306.30" y="300.38" width="7.20" height="7.17" fill="#edc9cc"/><rect x="312.90" y="300.38" width="6.60" height="7.17" fill="#eed0d2"/><rect x="29.10" y="306.95" width="7.20" height="7.17" fill="#f36166"/><rect x="35.70" y="306.95" width="7.20" height="7.17" fill="#ef787e"/><rect x="42.30" y="306.95" width="7.20" height="7.17" fill="#ed8a90"/><rect x="48.90" y="306.95" width="7.20" height="7.17" fill="#ec9ca1"/><rect x="55.50" y="306.95" width="7.20" height="7.17" fill="#edc5c8"/><rect x="62.10" y="306.95" width="20.40" height="7.17" fill="#eca3a8"/><rect x="81.90" y="306.95" width="20.40" height="7.17" fill="#ebaaae"/><rect x="101.70" y="306.95" width="27.00" height="7.17" fill="#ebb3b7"/><rect x="128.10" y="306.95" width="20.40" height="7.17" fill="#ecbabd"/><rect x="147.90" y="306.95" width="13.80" height="7.17" fill="#edc5c8"/><rect x="161.10" y="306.95" width="7.20" height="7.17" fill="#edc9cc"/><rect x="167.70" y="306.95" width="7.20" height="7.17" fill="#eed0d2"/><rect x="174.30" y="306.95" width="53.40" height="7.17" fill="#eed7d8"/><rect x="227.10" y="306.95" width="13.80" height="7.17" fill="#efdbdc"/><rect x="240.30" y="306.95" width="27.00" height="7.17" fill="#efdfe0"/><rect x="266.70" y="306.95" width="20.40" height="7.17" fill="#f0e4e5"/><rect x="286.50" y="306.95" width="33.00" height="7.17" fill="#f0e6e7"/><rect x="29.10" y="313.52" width="7.20" height="7.17" fill="#f2666a"/><rect x="35.70" y="313.52" width="27.00" height="7.17" fill="#ee8288"/><rect x="62.10" y="313.52" width="27.00" height="7.17" fill="#ed8a90"/><rect x="88.50" y="313.52" width="20.40" height="7.17" fill="#ed9297"/><rect x="108.30" y="313.52" width="27.00" height="7.17" fill="#ec9ca1"/><rect x="134.70" y="313.52" width="20.40" height="7.17" fill="#eca3a8"/><rect x="154.50" y="313.52" width="13.80" height="7.17" fill="#ebaaae"/><rect x="167.70" y="313.52" width="7.20" height="7.17" fill="#ebafb3"/><rect x="174.30" y="313.52" width="13.80" height="7.17" fill="#ebb3b7"/><rect x="187.50" y="313.52" width="7.20" height="7.17" fill="#ecbabd"/><rect x="194.10" y="313.52" width="13.80" height="7.17" fill="#ecc0c4"/><rect x="207.30" y="313.52" width="27.00" height="7.17" fill="#edc5c8"/><rect x="233.70" y="313.52" width="27.00" height="7.17" fill="#edc9cc"/><rect x="260.10" y="313.52" width="59.40" height="7.17" fill="#eed0d2"/><rect x="29.10" y="320.09" width="7.20" height="7.17" fill="#f2666a"/><rect x="35.70" y="320.09" width="27.00" height="7.17" fill="#ee8288"/><rect x="62.10" y="320.09" width="27.00" height="7.17" fill="#ed8a90"/><rect x="88.50" y="320.09" width="46.80" height="7.17" fill="#ed9297"/><rect x="134.70" y="320.09" width="13.80" height="7.17" fill="#ed989c"/><rect x="147.90" y="320.09" width="13.80" height="7.17" fill="#ec9ca1"/><rect x="161.10" y="320.09" width="7.20" height="7.17" fill="#eca3a8"/><rect x="167.70" y="320.09" width="7.20" height="7.17" fill="#ebaaae"/><rect x="174.30" y="320.09" width="13.80" height="7.17" fill="#ebafb3"/><rect x="187.50" y="320.09" width="7.20" height="7.17" fill="#ebb3b7"/><rect x="194.10" y="320.09" width="20.40" height="7.17" fill="#ecbabd"/><rect x="213.90" y="320.09" width="13.80" height="7.17" fill="#ecc0c4"/><rect x="227.10" y="320.09" width="60.00" height="7.17" fill="#edc5c8"/><rect x="286.50" y="320.09" width="20.40" height="7.17" fill="#edc9cc"/><rect x="306.30" y="320.09" width="13.20" height="7.17" fill="#edc5c8"/><rect x="29.10" y="326.66" width="7.20" height="7.17" fill="#fd3733"/><rect x="35.70" y="326.66" width="7.20" height="7.17" fill="#ef7076"/><rect x="42.30" y="326.66" width="13.80" height="7.17" fill="#ed8a90"/><rect x="55.50" y="326.66" width="7.20" height="7.17" fill="#ed9297"/><rect x="62.10" y="326.66" width="13.80" height="7.17" fill="#eca3a8"/><rect x="75.30" y="326.66" width="7.20" height="7.17" fill="#ec9ca1"/><rect x="81.90" y="326.66" width="13.80" height="7.17" fill="#ebaaae"/><rect x="95.10" y="326.66" width="13.80" height="7.17" fill="#ed9297"/><rect x="108.30" y="326.66" width="13.80" height="7.17" fill="#eca3a8"/><rect x="121.50" y="326.66" width="7.20" height="7.17" fill="#ed9297"/><rect x="128.10" y="326.66" width="7.20" height="7.17" fill="#ec9ca1"/><rect x="134.70" y="326.66" width="13.80" height="7.17" fill="#eca3a8"/><rect x="147.90" y="326.66" width="7.20" height="7.17" fill="#ebaaae"/><rect x="154.50" y="326.66" width="40.20" height="7.17" fill="#ebafb3"/><rect x="194.10" y="326.66" width="7.20" height="7.17" fill="#ebb3b7"/><rect x="200.70" y="326.66" width="13.80" height="7.17" fill="#ecbabd"/><rect x="213.90" y="326.66" width="7.20" height="7.17" fill="#ebb3b7"/><rect x="220.50" y="326.66" width="7.20" height="7.17" fill="#ecbabd"/><rect x="227.10" y="326.66" width="27.00" height="7.17" fill="#ecc0c4"/><rect x="253.50" y="326.66" width="13.80" height="7.17" fill="#ecbabd"/><rect x="266.70" y="326.66" width="7.20" height="7.17" fill="#edc9cc"/><rect x="273.30" y="326.66" width="33.60" height="7.17" fill="#ecc0c4"/><rect x="306.30" y="326.66" width="7.20" height="7.17" fill="#edc5c8"/><rect x="312.90" y="326.66" width="6.60" height="7.17" fill="#edc9cc"/><rect x="29.10" y="333.23" width="7.20" height="7.17" fill="#fc3a39"/><rect x="35.70" y="333.23" width="7.20" height="7.17" fill="#f2666a"/><rect x="42.30" y="333.23" width="7.20" height="7.17" fill="#ef787e"/><rect x="48.90" y="333.23" width="7.20" height="7.17" fill="#ee7d83"/><rect x="55.50" y="333.23" width="7.20" height="7.17" fill="#ee8288"/><rect x="62.10" y="333.23" width="20.40" height="7.17" fill="#ed8a90"/><rect x="81.90" y="333.23" width="7.20" height="7.17" fill="#ed9297"/><rect x="88.50" y="333.23" width="7.20" height="7.17" fill="#ed989c"/><rect x="95.10" y="333.23" width="7.20" height="7.17" fill="#ed9297"/><rect x="101.70" y="333.23" width="13.80" height="7.17" fill="#ed8a90"/><rect x="114.90" y="333.23" width="7.20" height="7.17" fill="#ed989c"/><rect x="121.50" y="333.23" width="7.20" height="7.17" fill="#ed9297"/><rect x="128.10" y="333.23" width="7.20" height="7.17" fill="#ed989c"/><rect x="134.70" y="333.23" width="7.20" height="7.17" fill="#ec9ca1"/><rect x="141.30" y="333.23" width="13.80" height="7.17" fill="#eca3a8"/><rect x="154.50" y="333.23" width="7.20" height="7.17" fill="#ebaaae"/><rect x="161.10" y="333.23" width="40.20" height="7.17" fill="#ebafb3"/><rect x="200.70" y="333.23" width="13.80" height="7.17" fill="#ebb3b7"/><rect x="213.90" y="333.23" width="13.80" height="7.17" fill="#ecbabd"/><rect x="227.10" y="333.23" width="27.00" height="7.17" fill="#ecc0c4"/><rect x="253.50" y="333.23" width="13.80" height="7.17" fill="#ecbabd"/><rect x="266.70" y="333.23" width="33.60" height="7.17" fill="#ecc0c4"/><rect x="299.70" y="333.23" width="7.20" height="7.17" fill="#edc5c8"/><rect x="306.30" y="333.23" width="7.20" height="7.17" fill="#ecc0c4"/><rect x="312.90" y="333.23" width="6.60" height="7.17" fill="#edc5c8"/><rect x="29.10" y="339.80" width="7.20" height="7.17" fill="#ee8288"/><rect x="35.70" y="339.80" width="7.20" height="7.17" fill="#ed9297"/><rect x="42.30" y="339.80" width="7.20" height="7.17" fill="#ec9ca1"/><rect x="48.90" y="339.80" width="7.20" height="7.17" fill="#eca3a8"/><rect x="55.50" y="339.80" width="13.80" height="7.17" fill="#ecc0c4"/><rect x="68.70" y="339.80" width="7.20" height="7.17" fill="#ecbabd"/><rect x="75.30" y="339.80" width="27.00" height="7.17" fill="#ebafb3"/><rect x="101.70" y="339.80" width="13.80" height="7.17" fill="#ebb3b7"/><rect x="114.90" y="339.80" width="7.20" height="7.17" fill="#ecbabd"/><rect x="121.50" y="339.80" width="7.20" height="7.17" fill="#ecc0c4"/><rect x="128.10" y="339.80" width="7.20" height="7.17" fill="#edc5c8"/><rect x="134.70" y="339.80" width="27.00" height="7.17" fill="#edc9cc"/><rect x="161.10" y="339.80" width="13.80" height="7.17" fill="#eed0d2"/><rect x="174.30" y="339.80" width="33.60" height="7.17" fill="#eed7d8"/><rect x="207.30" y="339.80" width="7.20" height="7.17" fill="#efdfe0"/><rect x="213.90" y="339.80" width="20.40" height="7.17" fill="#efdbdc"/><rect x="233.70" y="339.80" width="7.20" height="7.17" fill="#f0e4e5"/><rect x="240.30" y="339.80" width="7.20" height="7.17" fill="#efdfe0"/><rect x="246.90" y="339.80" width="7.20" height="7.17" fill="#f0e4e5"/><rect x="253.50" y="339.80" width="66.00" height="7.17" fill="#f0e6e7"/><rect x="29.10" y="346.38" width="7.20" height="7.17" fill="#ee7d83"/><rect x="35.70" y="346.38" width="7.20" height="7.17" fill="#ed8a90"/><rect x="42.30" y="346.38" width="7.20" height="7.17" fill="#ed989c"/><rect x="48.90" y="346.38" width="7.20" height="7.17" fill="#eca3a8"/><rect x="55.50" y="346.38" width="7.20" height="7.17" fill="#eed0d2"/><rect x="62.10" y="346.38" width="7.20" height="7.17" fill="#edc9cc"/><rect x="68.70" y="346.38" width="27.00" height="7.17" fill="#ebafb3"/><rect x="95.10" y="346.38" width="7.20" height="7.17" fill="#ebaaae"/><rect x="101.70" y="346.38" width="13.80" height="7.17" fill="#ebafb3"/><rect x="114.90" y="346.38" width="7.20" height="7.17" fill="#ebb3b7"/><rect x="121.50" y="346.38" width="7.20" height="7.17" fill="#ecbabd"/><rect x="128.10" y="346.38" width="13.80" height="7.17" fill="#ecc0c4"/><rect x="141.30" y="346.38" width="20.40" height="7.17" fill="#eed0d2"/><rect x="161.10" y="346.38" width="20.40" height="7.17" fill="#eed7d8"/><rect x="180.90" y="346.38" width="7.20" height="7.17" fill="#efdbdc"/><rect x="187.50" y="346.38" width="7.20" height="7.17" fill="#efdfe0"/><rect x="194.10" y="346.38" width="7.20" height="7.17" fill="#f0e6e7"/><rect x="200.70" y="346.38" width="7.20" height="7.17" fill="#efdbdc"/><rect x="207.30" y="346.38" width="7.20" height="7.17" fill="#f0e6e7"/><rect x="213.90" y="346.38" width="7.20" height="7.17" fill="#efdfe0"/><rect x="220.50" y="346.38" width="7.20" height="7.17" fill="#f0e6e7"/><rect x="227.10" y="346.38" width="7.20" height="7.17" fill="#efdfe0"/><rect x="233.70" y="346.38" width="20.40" height="7.17" fill="#f0eaeb"/><rect x="253.50" y="346.38" width="27.00" height="7.17" fill="#f1eded"/><rect x="279.90" y="346.38" width="7.20" height="7.17" fill="#f1f1f1"/><rect x="286.50" y="346.38" width="13.80" height="7.17" fill="#f1eded"/><rect x="299.70" y="346.38" width="7.20" height="7.17" fill="#f1f1f1"/><rect x="306.30" y="346.38" width="7.20" height="7.17" fill="#edeff1"/><rect x="312.90" y="346.38" width="6.60" height="7.17" fill="#f1f1f1"/><rect x="29.10" y="352.95" width="40.20" height="7.17" fill="#ec9ca1"/><rect x="68.70" y="352.95" width="33.60" height="7.17" fill="#eca3a8"/><rect x="101.70" y="352.95" width="13.80" height="7.17" fill="#ebaaae"/><rect x="114.90" y="352.95" width="13.80" height="7.17" fill="#ebafb3"/><rect x="128.10" y="352.95" width="33.60" height="7.17" fill="#ebb3b7"/><rect x="161.10" y="352.95" width="33.60" height="7.17" fill="#ecbabd"/><rect x="194.10" y="352.95" width="20.40" height="7.17" fill="#ecc0c4"/><rect x="213.90" y="352.95" width="20.40" height="7.17" fill="#edc5c8"/><rect x="233.70" y="352.95" width="7.20" height="7.17" fill="#edc9cc"/><rect x="240.30" y="352.95" width="7.20" height="7.17" fill="#edc5c8"/><rect x="246.90" y="352.95" width="40.20" height="7.17" fill="#edc9cc"/><rect x="286.50" y="352.95" width="33.00" height="7.17" fill="#eed0d2"/><rect x="29.10" y="359.52" width="7.20" height="7.17" fill="#fd322b"/><rect x="35.70" y="359.52" width="7.20" height="7.17" fill="#fa4243"/><rect x="42.30" y="359.52" width="7.20" height="7.17" fill="#f45b5f"/><rect x="48.90" y="359.52" width="13.80" height="7.17" fill="#f2666a"/><rect x="62.10" y="359.52" width="27.00" height="7.17" fill="#f06c71"/><rect x="88.50" y="359.52" width="13.80" height="7.17" fill="#ef757b"/><rect x="101.70" y="359.52" width="13.80" height="7.17" fill="#f2666a"/><rect x="114.90" y="359.52" width="7.20" height="7.17" fill="#f06c71"/><rect x="121.50" y="359.52" width="7.20" height="7.17" fill="#f2666a"/><rect x="128.10" y="359.52" width="7.20" height="7.17" fill="#f06c71"/><rect x="134.70" y="359.52" width="13.80" height="7.17" fill="#ef7076"/><rect x="147.90" y="359.52" width="7.20" height="7.17" fill="#ef757b"/><rect x="154.50" y="359.52" width="13.80" height="7.17" fill="#ee7d83"/><rect x="167.70" y="359.52" width="7.20" height="7.17" fill="#ee858a"/><rect x="174.30" y="359.52" width="7.20" height="7.17" fill="#ee7d83"/><rect x="180.90" y="359.52" width="27.00" height="7.17" fill="#ed9095"/><rect x="207.30" y="359.52" width="27.00" height="7.17" fill="#ed989c"/><rect x="233.70" y="359.52" width="13.80" height="7.17" fill="#eca0a4"/><rect x="246.90" y="359.52" width="7.20" height="7.17" fill="#ed989c"/><rect x="253.50" y="359.52" width="40.20" height="7.17" fill="#eca0a4"/><rect x="293.10" y="359.52" width="26.40" height="7.17" fill="#eca5a9"/><rect x="29.10" y="366.09" width="7.20" height="7.17" fill="#fd3733"/><rect x="35.70" y="366.09" width="7.20" height="7.17" fill="#f94648"/><rect x="42.30" y="366.09" width="7.20" height="7.17" fill="#f35f63"/><rect x="48.90" y="366.09" width="7.20" height="7.17" fill="#f2666a"/><rect x="55.50" y="366.09" width="7.20" height="7.17" fill="#f06c71"/><rect x="62.10" y="366.09" width="13.80" height="7.17" fill="#ef7076"/><rect x="75.30" y="366.09" width="20.40" height="7.17" fill="#ef757b"/><rect x="95.10" y="366.09" width="7.20" height="7.17" fill="#ee7d83"/><rect x="101.70" y="366.09" width="7.20" height="7.17" fill="#ef757b"/><rect x="108.30" y="366.09" width="20.40" height="7.17" fill="#ee7d83"/><rect x="128.10" y="366.09" width="13.80" height="7.17" fill="#ee858a"/><rect x="141.30" y="366.09" width="7.20" height="7.17" fill="#ed8a90"/><rect x="147.90" y="366.09" width="13.80" height="7.17" fill="#ed9095"/><rect x="161.10" y="366.09" width="13.80" height="7.17" fill="#ed989c"/><rect x="174.30" y="366.09" width="20.40" height="7.17" fill="#eca0a4"/><rect x="194.10" y="366.09" width="20.40" height="7.17" fill="#ebaaae"/><rect x="213.90" y="366.09" width="20.40" height="7.17" fill="#ebb2b6"/><rect x="233.70" y="366.09" width="13.80" height="7.17" fill="#ecbabd"/><rect x="246.90" y="366.09" width="33.60" height="7.17" fill="#ecbfc2"/><rect x="279.90" y="366.09" width="27.00" height="7.17" fill="#edc4c7"/><rect x="306.30" y="366.09" width="13.20" height="7.17" fill="#edcbce"/><rect x="29.10" y="372.66" width="7.20" height="7.17" fill="#fd322b"/><rect x="35.70" y="372.66" width="7.20" height="7.17" fill="#fd3530"/><rect x="42.30" y="372.66" width="7.20" height="7.17" fill="#fa4243"/><rect x="48.90" y="372.66" width="7.20" height="7.17" fill="#ee7d83"/><rect x="55.50" y="372.66" width="7.20" height="7.17" fill="#f75153"/><rect x="62.10" y="372.66" width="13.80" height="7.17" fill="#f35f63"/><rect x="75.30" y="372.66" width="13.80" height="7.17" fill="#f2666a"/><rect x="88.50" y="372.66" width="7.20" height="7.17" fill="#f35f63"/><rect x="95.10" y="372.66" width="7.20" height="7.17" fill="#ef7076"/><rect x="101.70" y="372.66" width="7.20" height="7.17" fill="#f2666a"/><rect x="108.30" y="372.66" width="7.20" height="7.17" fill="#f06c71"/><rect x="114.90" y="372.66" width="13.80" height="7.17" fill="#ef7076"/><rect x="128.10" y="372.66" width="13.80" height="7.17" fill="#ef757b"/><rect x="141.30" y="372.66" width="13.80" height="7.17" fill="#ee7d83"/><rect x="154.50" y="372.66" width="7.20" height="7.17" fill="#ee858a"/><rect x="161.10" y="372.66" width="13.80" height="7.17" fill="#ed8a90"/><rect x="174.30" y="372.66" width="20.40" height="7.17" fill="#ed9095"/><rect x="194.10" y="372.66" width="13.80" height="7.17" fill="#ed989c"/><rect x="207.30" y="372.66" width="7.20" height="7.17" fill="#eca0a4"/><rect x="213.90" y="372.66" width="20.40" height="7.17" fill="#eca5a9"/><rect x="233.70" y="372.66" width="46.80" height="7.17" fill="#ebaaae"/><rect x="279.90" y="372.66" width="27.00" height="7.17" fill="#ebb2b6"/><rect x="306.30" y="372.66" width="13.20" height="7.17" fill="#ecbabd"/><rect x="29.10" y="379.23" width="7.20" height="6.57" fill="#f75153"/><rect x="35.70" y="379.23" width="7.20" height="6.57" fill="#f5575a"/><rect x="42.30" y="379.23" width="7.20" height="6.57" fill="#f2666a"/><rect x="48.90" y="379.23" width="7.20" height="6.57" fill="#f06c71"/><rect x="55.50" y="379.23" width="13.80" height="6.57" fill="#ef7076"/><rect x="68.70" y="379.23" width="13.80" height="6.57" fill="#ef757b"/><rect x="81.90" y="379.23" width="27.00" height="6.57" fill="#ee7d83"/><rect x="108.30" y="379.23" width="13.80" height="6.57" fill="#ee858a"/><rect x="121.50" y="379.23" width="7.20" height="6.57" fill="#ed8a90"/><rect x="128.10" y="379.23" width="7.20" height="6.57" fill="#ed9095"/><rect x="134.70" y="379.23" width="13.80" height="6.57" fill="#ed989c"/><rect x="147.90" y="379.23" width="13.80" height="6.57" fill="#eca0a4"/><rect x="161.10" y="379.23" width="20.40" height="6.57" fill="#eca5a9"/><rect x="180.90" y="379.23" width="13.80" height="6.57" fill="#ebaaae"/><rect x="194.10" y="379.23" width="13.80" height="6.57" fill="#ebb2b6"/><rect x="207.30" y="379.23" width="13.80" height="6.57" fill="#ecbabd"/><rect x="220.50" y="379.23" width="13.80" height="6.57" fill="#ecbfc2"/><rect x="233.70" y="379.23" width="33.60" height="6.57" fill="#edc4c7"/><rect x="266.70" y="379.23" width="27.00" height="6.57" fill="#edcbce"/><rect x="293.10" y="379.23" width="26.40" height="6.57" fill="#eed3d5"/></g><path d="M29.10 231.39h-1.6M29.10 237.96h-1.6M29.10 244.53h-1.6M29.10 251.10h-1.6M29.10 257.67h-1.6M29.10 264.24h-1.6M29.10 270.81h-1.6M29.10 277.38h-1.6M29.10 283.95h-1.6M29.10 290.52h-1.6M29.10 297.09h-1.6M29.10 303.66h-1.6M29.10 310.24h-1.6M29.10 316.81h-1.6M29.10 323.38h-1.6M29.10 329.95h-1.6M29.10 336.52h-1.6M29.10 343.09h-1.6M29.10 349.66h-1.6M29.10 356.23h-1.6M29.10 362.80h-1.6M29.10 369.37h-1.6M29.10 375.94h-1.6M29.10 382.51h-1.6M32.40 385.80v2.0M45.60 385.80v2.0M58.80 385.80v2.0M72.00 385.80v2.0M85.20 385.80v2.0M98.40 385.80v2.0M111.60 385.80v2.0M124.80 385.80v2.0M138.00 385.80v2.0M151.20 385.80v2.0M164.40 385.80v2.0M177.60 385.80v2.0M190.80 385.80v2.0M204.00 385.80v2.0M217.20 385.80v2.0M230.40 385.80v2.0M243.60 385.80v2.0M256.80 385.80v2.0M270.00 385.80v2.0M283.20 385.80v2.0M296.40 385.80v2.0M309.60 385.80v2.0" stroke="#111" stroke-width="1.0" fill="none" shape-rendering="auto"/><g font-size="7.3"><text x="24.20" y="233.49" text-anchor="end">WJ</text><text x="24.20" y="240.06" text-anchor="end">HM</text><text x="24.20" y="246.63" text-anchor="end">SHC</text><text x="24.20" y="253.20" text-anchor="end">LS</text><text x="24.20" y="259.77" text-anchor="end">LC</text><text x="24.20" y="266.34" text-anchor="end">PL</text><text x="24.20" y="272.91" text-anchor="end">YW</text><text x="24.20" y="279.48" text-anchor="end">ZP</text><text x="24.20" y="286.05" text-anchor="end">HY</text><text x="24.20" y="292.62" text-anchor="end">SC</text><text x="24.20" y="299.19" text-anchor="end">LX</text><text x="24.20" y="305.76" text-anchor="end">RS</text><text x="24.20" y="312.34" text-anchor="end">BL</text><text x="24.20" y="318.91" text-anchor="end">FLX</text><text x="24.20" y="325.48" text-anchor="end">SJ</text><text x="24.20" y="332.05" text-anchor="end">LZh</text><text x="24.20" y="338.62" text-anchor="end">XZ</text><text x="24.20" y="345.19" text-anchor="end">NN</text><text x="24.20" y="351.76" text-anchor="end">GG</text><text x="24.20" y="358.33" text-anchor="end">QJ</text><text x="24.20" y="364.90" text-anchor="end">WX</text><text x="24.20" y="371.47" text-anchor="end">DHJK</text><text x="24.20" y="378.04" text-anchor="end">WZ</text><text x="24.20" y="384.61" text-anchor="end">GY</text></g><g font-size="9.4"><text x="32.40" y="397.50" text-anchor="middle">1</text><text x="45.60" y="397.50" text-anchor="middle">3</text><text x="58.80" y="397.50" text-anchor="middle">5</text><text x="72.00" y="397.50" text-anchor="middle">7</text><text x="85.20" y="397.50" text-anchor="middle">9</text><text x="98.40" y="397.50" text-anchor="middle">11</text><text x="111.60" y="397.50" text-anchor="middle">13</text><text x="124.80" y="397.50" text-anchor="middle">15</text><text x="138.00" y="397.50" text-anchor="middle">17</text><text x="151.20" y="397.50" text-anchor="middle">19</text><text x="164.40" y="397.50" text-anchor="middle">21</text><text x="177.60" y="397.50" text-anchor="middle">23</text><text x="190.80" y="397.50" text-anchor="middle">25</text><text x="204.00" y="397.50" text-anchor="middle">27</text><text x="217.20" y="397.50" text-anchor="middle">29</text><text x="230.40" y="397.50" text-anchor="middle">31</text><text x="243.60" y="397.50" text-anchor="middle">33</text><text x="256.80" y="397.50" text-anchor="middle">35</text><text x="270.00" y="397.50" text-anchor="middle">37</text><text x="283.20" y="397.50" text-anchor="middle">39</text><text x="296.40" y="397.50" text-anchor="middle">41</text><text x="309.60" y="397.50" text-anchor="middle">43</text></g><text x="174.30" y="410.00" text-anchor="middle" font-size="9.6">Lead days</text><text x="174.30" y="222.20" text-anchor="middle" font-size="13.8">E1</text><text x="0.40" y="222.95" font-size="16.4">(c)</text><g shape-rendering="auto" filter="url(#soft)"><rect x="377.70" y="228.10" width="7.20" height="7.17" fill="#ebaaae"/><rect x="384.30" y="228.10" width="7.20" height="7.17" fill="#ebafb3"/><rect x="390.90" y="228.10" width="7.20" height="7.17" fill="#ebb3b7"/><rect x="397.50" y="228.10" width="7.20" height="7.17" fill="#ebaaae"/><rect x="404.10" y="228.10" width="7.20" height="7.17" fill="#ebb3b7"/><rect x="410.70" y="228.10" width="7.20" height="7.17" fill="#ebafb3"/><rect x="417.30" y="228.10" width="7.20" height="7.17" fill="#ec9ca1"/><rect x="423.90" y="228.10" width="20.40" height="7.17" fill="#ebb3b7"/><rect x="443.70" y="228.10" width="7.20" height="7.17" fill="#ebafb3"/><rect x="450.30" y="228.10" width="13.80" height="7.17" fill="#ecbabd"/><rect x="463.50" y="228.10" width="7.20" height="7.17" fill="#ebafb3"/><rect x="470.10" y="228.10" width="7.20" height="7.17" fill="#ecc0c4"/><rect x="476.70" y="228.10" width="20.40" height="7.17" fill="#ecbabd"/><rect x="496.50" y="228.10" width="7.20" height="7.17" fill="#edc5c8"/><rect x="503.10" y="228.10" width="13.80" height="7.17" fill="#ecc0c4"/><rect x="516.30" y="228.10" width="20.40" height="7.17" fill="#eed0d2"/><rect x="536.10" y="228.10" width="7.20" height="7.17" fill="#edc9cc"/><rect x="542.70" y="228.10" width="7.20" height="7.17" fill="#eed7d8"/><rect x="549.30" y="228.10" width="20.40" height="7.17" fill="#eed0d2"/><rect x="569.10" y="228.10" width="13.80" height="7.17" fill="#eed7d8"/><rect x="582.30" y="228.10" width="7.20" height="7.17" fill="#eed0d2"/><rect x="588.90" y="228.10" width="13.80" height="7.17" fill="#eed7d8"/><rect x="602.10" y="228.10" width="7.20" height="7.17" fill="#eed0d2"/><rect x="608.70" y="228.10" width="13.80" height="7.17" fill="#efdbdc"/><rect x="621.90" y="228.10" width="13.80" height="7.17" fill="#eed7d8"/><rect x="635.10" y="228.10" width="13.80" height="7.17" fill="#efdfe0"/><rect x="648.30" y="228.10" width="7.20" height="7.17" fill="#eed7d8"/><rect x="654.90" y="228.10" width="13.20" height="7.17" fill="#efdbdc"/><rect x="377.70" y="234.67" width="7.20" height="7.17" fill="#f45b5f"/><rect x="384.30" y="234.67" width="7.20" height="7.17" fill="#ef7076"/><rect x="390.90" y="234.67" width="7.20" height="7.17" fill="#ed9297"/><rect x="397.50" y="234.67" width="7.20" height="7.17" fill="#ebafb3"/><rect x="404.10" y="234.67" width="7.20" height="7.17" fill="#edc5c8"/><rect x="410.70" y="234.67" width="7.20" height="7.17" fill="#ebafb3"/><rect x="417.30" y="234.67" width="7.20" height="7.17" fill="#efdfe0"/><rect x="423.90" y="234.67" width="7.20" height="7.17" fill="#ebb3b7"/><rect x="430.50" y="234.67" width="7.20" height="7.17" fill="#ec9ca1"/><rect x="437.10" y="234.67" width="7.20" height="7.17" fill="#ebb3b7"/><rect x="443.70" y="234.67" width="13.80" height="7.17" fill="#ec9ca1"/><rect x="456.90" y="234.67" width="7.20" height="7.17" fill="#ebaaae"/><rect x="463.50" y="234.67" width="7.20" height="7.17" fill="#ebafb3"/><rect x="470.10" y="234.67" width="13.80" height="7.17" fill="#ebaaae"/><rect x="483.30" y="234.67" width="7.20" height="7.17" fill="#ebafb3"/><rect x="489.90" y="234.67" width="7.20" height="7.17" fill="#ecc0c4"/><rect x="496.50" y="234.67" width="7.20" height="7.17" fill="#eca3a8"/><rect x="503.10" y="234.67" width="13.80" height="7.17" fill="#ebb3b7"/><rect x="516.30" y="234.67" width="13.80" height="7.17" fill="#ebafb3"/><rect x="529.50" y="234.67" width="20.40" height="7.17" fill="#ebb3b7"/><rect x="549.30" y="234.67" width="7.20" height="7.17" fill="#eed0d2"/><rect x="555.90" y="234.67" width="7.20" height="7.17" fill="#edc9cc"/><rect x="562.50" y="234.67" width="7.20" height="7.17" fill="#ecc0c4"/><rect x="569.10" y="234.67" width="7.20" height="7.17" fill="#ecbabd"/><rect x="575.70" y="234.67" width="7.20" height="7.17" fill="#edc9cc"/><rect x="582.30" y="234.67" width="7.20" height="7.17" fill="#eed0d2"/><rect x="588.90" y="234.67" width="7.20" height="7.17" fill="#ecbabd"/><rect x="595.50" y="234.67" width="7.20" height="7.17" fill="#ecc0c4"/><rect x="602.10" y="234.67" width="20.40" height="7.17" fill="#eed0d2"/><rect x="621.90" y="234.67" width="13.80" height="7.17" fill="#eed7d8"/><rect x="635.10" y="234.67" width="20.40" height="7.17" fill="#eed0d2"/><rect x="654.90" y="234.67" width="7.20" height="7.17" fill="#edc5c8"/><rect x="661.50" y="234.67" width="6.60" height="7.17" fill="#eed0d2"/><rect x="377.70" y="241.24" width="7.20" height="7.17" fill="#f2666a"/><rect x="384.30" y="241.24" width="7.20" height="7.17" fill="#ec9ca1"/><rect x="390.90" y="241.24" width="7.20" height="7.17" fill="#eca3a8"/><rect x="397.50" y="241.24" width="7.20" height="7.17" fill="#ec9ca1"/><rect x="404.10" y="241.24" width="13.80" height="7.17" fill="#eca3a8"/><rect x="417.30" y="241.24" width="7.20" height="7.17" fill="#ebb3b7"/><rect x="423.90" y="241.24" width="7.20" height="7.17" fill="#ebafb3"/><rect x="430.50" y="241.24" width="7.20" height="7.17" fill="#edc5c8"/><rect x="437.10" y="241.24" width="13.80" height="7.17" fill="#ebafb3"/><rect x="450.30" y="241.24" width="27.00" height="7.17" fill="#ebb3b7"/><rect x="476.70" y="241.24" width="7.20" height="7.17" fill="#eed0d2"/><rect x="483.30" y="241.24" width="13.80" height="7.17" fill="#ecbabd"/><rect x="496.50" y="241.24" width="27.00" height="7.17" fill="#edc5c8"/><rect x="522.90" y="241.24" width="13.80" height="7.17" fill="#eed7d8"/><rect x="536.10" y="241.24" width="20.40" height="7.17" fill="#eed0d2"/><rect x="555.90" y="241.24" width="7.20" height="7.17" fill="#efdfe0"/><rect x="562.50" y="241.24" width="13.80" height="7.17" fill="#eed7d8"/><rect x="575.70" y="241.24" width="7.20" height="7.17" fill="#efdbdc"/><rect x="582.30" y="241.24" width="27.00" height="7.17" fill="#eed7d8"/><rect x="608.70" y="241.24" width="20.40" height="7.17" fill="#efdfe0"/><rect x="628.50" y="241.24" width="13.80" height="7.17" fill="#efdbdc"/><rect x="641.70" y="241.24" width="13.80" height="7.17" fill="#eed7d8"/><rect x="654.90" y="241.24" width="13.20" height="7.17" fill="#efdbdc"/><rect x="377.70" y="247.81" width="7.20" height="7.17" fill="#ed9297"/><rect x="384.30" y="247.81" width="7.20" height="7.17" fill="#ec9ca1"/><rect x="390.90" y="247.81" width="27.00" height="7.17" fill="#eca3a8"/><rect x="417.30" y="247.81" width="20.40" height="7.17" fill="#ebaaae"/><rect x="437.10" y="247.81" width="13.80" height="7.17" fill="#ebafb3"/><rect x="450.30" y="247.81" width="7.20" height="7.17" fill="#ebaaae"/><rect x="456.90" y="247.81" width="13.80" height="7.17" fill="#ebafb3"/><rect x="470.10" y="247.81" width="20.40" height="7.17" fill="#ebaaae"/><rect x="489.90" y="247.81" width="13.80" height="7.17" fill="#ebb3b7"/><rect x="503.10" y="247.81" width="7.20" height="7.17" fill="#ebafb3"/><rect x="509.70" y="247.81" width="20.40" height="7.17" fill="#ecbabd"/><rect x="529.50" y="247.81" width="20.40" height="7.17" fill="#ecc0c4"/><rect x="549.30" y="247.81" width="7.20" height="7.17" fill="#edc5c8"/><rect x="555.90" y="247.81" width="7.20" height="7.17" fill="#edc9cc"/><rect x="562.50" y="247.81" width="7.20" height="7.17" fill="#eed0d2"/><rect x="569.10" y="247.81" width="13.80" height="7.17" fill="#edc9cc"/><rect x="582.30" y="247.81" width="20.40" height="7.17" fill="#eed0d2"/><rect x="602.10" y="247.81" width="7.20" height="7.17" fill="#eed7d8"/><rect x="608.70" y="247.81" width="7.20" height="7.17" fill="#efdbdc"/><rect x="615.30" y="247.81" width="13.80" height="7.17" fill="#eed0d2"/><rect x="628.50" y="247.81" width="7.20" height="7.17" fill="#eed7d8"/><rect x="635.10" y="247.81" width="7.20" height="7.17" fill="#edc9cc"/><rect x="641.70" y="247.81" width="7.20" height="7.17" fill="#eed0d2"/><rect x="648.30" y="247.81" width="7.20" height="7.17" fill="#eed7d8"/><rect x="654.90" y="247.81" width="13.20" height="7.17" fill="#eed0d2"/><rect x="377.70" y="254.38" width="7.20" height="7.17" fill="#f84d4f"/><rect x="384.30" y="254.38" width="7.20" height="7.17" fill="#ef7076"/><rect x="390.90" y="254.38" width="13.80" height="7.17" fill="#ed8a90"/><rect x="404.10" y="254.38" width="7.20" height="7.17" fill="#ed9297"/><rect x="410.70" y="254.38" width="7.20" height="7.17" fill="#ee8288"/><rect x="417.30" y="254.38" width="7.20" height="7.17" fill="#ee7d83"/><rect x="423.90" y="254.38" width="20.40" height="7.17" fill="#ed8a90"/><rect x="443.70" y="254.38" width="13.80" height="7.17" fill="#ed9297"/><rect x="456.90" y="254.38" width="7.20" height="7.17" fill="#ec9ca1"/><rect x="463.50" y="254.38" width="33.60" height="7.17" fill="#eca3a8"/><rect x="496.50" y="254.38" width="13.80" height="7.17" fill="#ebb3b7"/><rect x="509.70" y="254.38" width="7.20" height="7.17" fill="#ecc0c4"/><rect x="516.30" y="254.38" width="7.20" height="7.17" fill="#edc9cc"/><rect x="522.90" y="254.38" width="13.80" height="7.17" fill="#eed0d2"/><rect x="536.10" y="254.38" width="27.00" height="7.17" fill="#eed7d8"/><rect x="562.50" y="254.38" width="33.60" height="7.17" fill="#efdbdc"/><rect x="595.50" y="254.38" width="7.20" height="7.17" fill="#eed7d8"/><rect x="602.10" y="254.38" width="7.20" height="7.17" fill="#eed0d2"/><rect x="608.70" y="254.38" width="7.20" height="7.17" fill="#efdbdc"/><rect x="615.30" y="254.38" width="13.80" height="7.17" fill="#eed0d2"/><rect x="628.50" y="254.38" width="7.20" height="7.17" fill="#eed7d8"/><rect x="635.10" y="254.38" width="20.40" height="7.17" fill="#efdfe0"/><rect x="654.90" y="254.38" width="7.20" height="7.17" fill="#f0e4e5"/><rect x="661.50" y="254.38" width="6.60" height="7.17" fill="#efdfe0"/><rect x="377.70" y="260.95" width="7.20" height="7.17" fill="#f45b5f"/><rect x="384.30" y="260.95" width="13.80" height="7.17" fill="#ed989c"/><rect x="397.50" y="260.95" width="7.20" height="7.17" fill="#ee8288"/><rect x="404.10" y="260.95" width="7.20" height="7.17" fill="#ef787e"/><rect x="410.70" y="260.95" width="13.80" height="7.17" fill="#ed9297"/><rect x="423.90" y="260.95" width="7.20" height="7.17" fill="#ee7d83"/><rect x="430.50" y="260.95" width="7.20" height="7.17" fill="#ed9297"/><rect x="437.10" y="260.95" width="7.20" height="7.17" fill="#ec9ca1"/><rect x="443.70" y="260.95" width="7.20" height="7.17" fill="#ed989c"/><rect x="450.30" y="260.95" width="7.20" height="7.17" fill="#ed8a90"/><rect x="456.90" y="260.95" width="13.80" height="7.17" fill="#ec9ca1"/><rect x="470.10" y="260.95" width="13.80" height="7.17" fill="#ed9297"/><rect x="483.30" y="260.95" width="13.80" height="7.17" fill="#ec9ca1"/><rect x="496.50" y="260.95" width="7.20" height="7.17" fill="#ed9297"/><rect x="503.10" y="260.95" width="7.20" height="7.17" fill="#eca3a8"/><rect x="509.70" y="260.95" width="20.40" height="7.17" fill="#ebaaae"/><rect x="529.50" y="260.95" width="20.40" height="7.17" fill="#ebafb3"/><rect x="549.30" y="260.95" width="27.00" height="7.17" fill="#ecc0c4"/><rect x="575.70" y="260.95" width="7.20" height="7.17" fill="#edc5c8"/><rect x="582.30" y="260.95" width="7.20" height="7.17" fill="#edc9cc"/><rect x="588.90" y="260.95" width="7.20" height="7.17" fill="#edc5c8"/><rect x="595.50" y="260.95" width="7.20" height="7.17" fill="#ecc0c4"/><rect x="602.10" y="260.95" width="33.60" height="7.17" fill="#edc5c8"/><rect x="635.10" y="260.95" width="13.80" height="7.17" fill="#ecc0c4"/><rect x="648.30" y="260.95" width="7.20" height="7.17" fill="#edc5c8"/><rect x="654.90" y="260.95" width="7.20" height="7.17" fill="#ecbabd"/><rect x="661.50" y="260.95" width="6.60" height="7.17" fill="#ecc0c4"/><rect x="377.70" y="267.52" width="7.20" height="7.17" fill="#f2666a"/><rect x="384.30" y="267.52" width="7.20" height="7.17" fill="#ed989c"/><rect x="390.90" y="267.52" width="20.40" height="7.17" fill="#ebafb3"/><rect x="410.70" y="267.52" width="7.20" height="7.17" fill="#ebaaae"/><rect x="417.30" y="267.52" width="7.20" height="7.17" fill="#ecc0c4"/><rect x="423.90" y="267.52" width="7.20" height="7.17" fill="#edc5c8"/><rect x="430.50" y="267.52" width="7.20" height="7.17" fill="#eed0d2"/><rect x="437.10" y="267.52" width="20.40" height="7.17" fill="#ecbabd"/><rect x="456.90" y="267.52" width="7.20" height="7.17" fill="#eca3a8"/><rect x="463.50" y="267.52" width="7.20" height="7.17" fill="#ebaaae"/><rect x="470.10" y="267.52" width="7.20" height="7.17" fill="#ebafb3"/><rect x="476.70" y="267.52" width="7.20" height="7.17" fill="#edc5c8"/><rect x="483.30" y="267.52" width="7.20" height="7.17" fill="#ebaaae"/><rect x="489.90" y="267.52" width="7.20" height="7.17" fill="#ecbabd"/><rect x="496.50" y="267.52" width="7.20" height="7.17" fill="#ecc0c4"/><rect x="503.10" y="267.52" width="7.20" height="7.17" fill="#ebb3b7"/><rect x="509.70" y="267.52" width="13.80" height="7.17" fill="#ecbabd"/><rect x="522.90" y="267.52" width="7.20" height="7.17" fill="#edc5c8"/><rect x="529.50" y="267.52" width="7.20" height="7.17" fill="#edc9cc"/><rect x="536.10" y="267.52" width="7.20" height="7.17" fill="#eed0d2"/><rect x="542.70" y="267.52" width="13.80" height="7.17" fill="#edc9cc"/><rect x="555.90" y="267.52" width="13.80" height="7.17" fill="#eed0d2"/><rect x="569.10" y="267.52" width="7.20" height="7.17" fill="#eed7d8"/><rect x="575.70" y="267.52" width="7.20" height="7.17" fill="#eed0d2"/><rect x="582.30" y="267.52" width="13.80" height="7.17" fill="#eed7d8"/><rect x="595.50" y="267.52" width="7.20" height="7.17" fill="#edc9cc"/><rect x="602.10" y="267.52" width="7.20" height="7.17" fill="#eed0d2"/><rect x="608.70" y="267.52" width="7.20" height="7.17" fill="#eed7d8"/><rect x="615.30" y="267.52" width="7.20" height="7.17" fill="#efdbdc"/><rect x="621.90" y="267.52" width="7.20" height="7.17" fill="#edc9cc"/><rect x="628.50" y="267.52" width="27.00" height="7.17" fill="#eed0d2"/><rect x="654.90" y="267.52" width="13.20" height="7.17" fill="#eed7d8"/><rect x="377.70" y="274.10" width="7.20" height="7.17" fill="#f36166"/><rect x="384.30" y="274.10" width="7.20" height="7.17" fill="#ed9297"/><rect x="390.90" y="274.10" width="7.20" height="7.17" fill="#ee8288"/><rect x="397.50" y="274.10" width="20.40" height="7.17" fill="#ee7d83"/><rect x="417.30" y="274.10" width="7.20" height="7.17" fill="#ed9297"/><rect x="423.90" y="274.10" width="7.20" height="7.17" fill="#ee8288"/><rect x="430.50" y="274.10" width="7.20" height="7.17" fill="#ed9297"/><rect x="437.10" y="274.10" width="13.80" height="7.17" fill="#ed989c"/><rect x="450.30" y="274.10" width="7.20" height="7.17" fill="#ed9297"/><rect x="456.90" y="274.10" width="13.80" height="7.17" fill="#ec9ca1"/><rect x="470.10" y="274.10" width="7.20" height="7.17" fill="#ed8a90"/><rect x="476.70" y="274.10" width="7.20" height="7.17" fill="#ed9297"/><rect x="483.30" y="274.10" width="13.80" height="7.17" fill="#ec9ca1"/><rect x="496.50" y="274.10" width="7.20" height="7.17" fill="#ed989c"/><rect x="503.10" y="274.10" width="7.20" height="7.17" fill="#ec9ca1"/><rect x="509.70" y="274.10" width="13.80" height="7.17" fill="#ebaaae"/><rect x="522.90" y="274.10" width="7.20" height="7.17" fill="#ebafb3"/><rect x="529.50" y="274.10" width="7.20" height="7.17" fill="#ebaaae"/><rect x="536.10" y="274.10" width="7.20" height="7.17" fill="#ebb3b7"/><rect x="542.70" y="274.10" width="13.80" height="7.17" fill="#ecbabd"/><rect x="555.90" y="274.10" width="7.20" height="7.17" fill="#edc5c8"/><rect x="562.50" y="274.10" width="20.40" height="7.17" fill="#ecc0c4"/><rect x="582.30" y="274.10" width="7.20" height="7.17" fill="#edc9cc"/><rect x="588.90" y="274.10" width="13.80" height="7.17" fill="#ecc0c4"/><rect x="602.10" y="274.10" width="7.20" height="7.17" fill="#edc9cc"/><rect x="608.70" y="274.10" width="33.60" height="7.17" fill="#ecc0c4"/><rect x="641.70" y="274.10" width="7.20" height="7.17" fill="#ecbabd"/><rect x="648.30" y="274.10" width="7.20" height="7.17" fill="#eed0d2"/><rect x="654.90" y="274.10" width="13.20" height="7.17" fill="#ecc0c4"/><rect x="377.70" y="280.67" width="7.20" height="7.17" fill="#edc5c8"/><rect x="384.30" y="280.67" width="7.20" height="7.17" fill="#ec9ca1"/><rect x="390.90" y="280.67" width="33.60" height="7.17" fill="#ebaaae"/><rect x="423.90" y="280.67" width="40.20" height="7.17" fill="#eca3a8"/><rect x="463.50" y="280.67" width="40.20" height="7.17" fill="#ebb3b7"/><rect x="503.10" y="280.67" width="20.40" height="7.17" fill="#edc5c8"/><rect x="522.90" y="280.67" width="27.00" height="7.17" fill="#eed7d8"/><rect x="549.30" y="280.67" width="13.80" height="7.17" fill="#efdbdc"/><rect x="562.50" y="280.67" width="20.40" height="7.17" fill="#efdfe0"/><rect x="582.30" y="280.67" width="7.20" height="7.17" fill="#f0e4e5"/><rect x="588.90" y="280.67" width="33.60" height="7.17" fill="#efdfe0"/><rect x="621.90" y="280.67" width="7.20" height="7.17" fill="#eed7d8"/><rect x="628.50" y="280.67" width="27.00" height="7.17" fill="#efdbdc"/><rect x="654.90" y="280.67" width="13.20" height="7.17" fill="#efdfe0"/><rect x="377.70" y="287.24" width="7.20" height="7.17" fill="#f36166"/><rect x="384.30" y="287.24" width="7.20" height="7.17" fill="#ef7076"/><rect x="390.90" y="287.24" width="7.20" height="7.17" fill="#ed8a90"/><rect x="397.50" y="287.24" width="27.00" height="7.17" fill="#ed9297"/><rect x="423.90" y="287.24" width="27.00" height="7.17" fill="#ec9ca1"/><rect x="450.30" y="287.24" width="13.80" height="7.17" fill="#eca3a8"/><rect x="463.50" y="287.24" width="13.80" height="7.17" fill="#ebaaae"/><rect x="476.70" y="287.24" width="7.20" height="7.17" fill="#ebafb3"/><rect x="483.30" y="287.24" width="20.40" height="7.17" fill="#ebaaae"/><rect x="503.10" y="287.24" width="7.20" height="7.17" fill="#ebafb3"/><rect x="509.70" y="287.24" width="13.80" height="7.17" fill="#ebb3b7"/><rect x="522.90" y="287.24" width="7.20" height="7.17" fill="#ebafb3"/><rect x="529.50" y="287.24" width="7.20" height="7.17" fill="#ebb3b7"/><rect x="536.10" y="287.24" width="7.20" height="7.17" fill="#ebafb3"/><rect x="542.70" y="287.24" width="7.20" height="7.17" fill="#ebb3b7"/><rect x="549.30" y="287.24" width="20.40" height="7.17" fill="#ecbabd"/><rect x="569.10" y="287.24" width="7.20" height="7.17" fill="#ecc0c4"/><rect x="575.70" y="287.24" width="13.80" height="7.17" fill="#edc5c8"/><rect x="588.90" y="287.24" width="53.40" height="7.17" fill="#ecc0c4"/><rect x="641.70" y="287.24" width="7.20" height="7.17" fill="#edc5c8"/><rect x="648.30" y="287.24" width="19.80" height="7.17" fill="#ecc0c4"/><rect x="377.70" y="293.81" width="7.20" height="7.17" fill="#fc3a39"/><rect x="384.30" y="293.81" width="7.20" height="7.17" fill="#f2666a"/><rect x="390.90" y="293.81" width="7.20" height="7.17" fill="#ee8288"/><rect x="397.50" y="293.81" width="40.20" height="7.17" fill="#ec9ca1"/><rect x="437.10" y="293.81" width="7.20" height="7.17" fill="#eca3a8"/><rect x="443.70" y="293.81" width="7.20" height="7.17" fill="#ecbabd"/><rect x="450.30" y="293.81" width="13.80" height="7.17" fill="#ebaaae"/><rect x="463.50" y="293.81" width="13.80" height="7.17" fill="#ebb3b7"/><rect x="476.70" y="293.81" width="20.40" height="7.17" fill="#ecbabd"/><rect x="496.50" y="293.81" width="13.80" height="7.17" fill="#ecc0c4"/><rect x="509.70" y="293.81" width="13.80" height="7.17" fill="#edc9cc"/><rect x="522.90" y="293.81" width="7.20" height="7.17" fill="#eed7d8"/><rect x="529.50" y="293.81" width="27.00" height="7.17" fill="#efdbdc"/><rect x="555.90" y="293.81" width="27.00" height="7.17" fill="#efdfe0"/><rect x="582.30" y="293.81" width="13.80" height="7.17" fill="#f0e4e5"/><rect x="595.50" y="293.81" width="20.40" height="7.17" fill="#efdbdc"/><rect x="615.30" y="293.81" width="20.40" height="7.17" fill="#efdfe0"/><rect x="635.10" y="293.81" width="33.00" height="7.17" fill="#f0e4e5"/><rect x="377.70" y="300.38" width="7.20" height="7.17" fill="#ef7076"/><rect x="384.30" y="300.38" width="7.20" height="7.17" fill="#ed9297"/><rect x="390.90" y="300.38" width="7.20" height="7.17" fill="#ec9ca1"/><rect x="397.50" y="300.38" width="7.20" height="7.17" fill="#eca3a8"/><rect x="404.10" y="300.38" width="20.40" height="7.17" fill="#ecbabd"/><rect x="423.90" y="300.38" width="7.20" height="7.17" fill="#ebb3b7"/><rect x="430.50" y="300.38" width="7.20" height="7.17" fill="#ecbabd"/><rect x="437.10" y="300.38" width="13.80" height="7.17" fill="#ebaaae"/><rect x="450.30" y="300.38" width="7.20" height="7.17" fill="#eca3a8"/><rect x="456.90" y="300.38" width="7.20" height="7.17" fill="#ebaaae"/><rect x="463.50" y="300.38" width="7.20" height="7.17" fill="#ec9ca1"/><rect x="470.10" y="300.38" width="7.20" height="7.17" fill="#ebaaae"/><rect x="476.70" y="300.38" width="7.20" height="7.17" fill="#ecbabd"/><rect x="483.30" y="300.38" width="7.20" height="7.17" fill="#eca3a8"/><rect x="489.90" y="300.38" width="7.20" height="7.17" fill="#ebaaae"/><rect x="496.50" y="300.38" width="7.20" height="7.17" fill="#ecbabd"/><rect x="503.10" y="300.38" width="20.40" height="7.17" fill="#ebafb3"/><rect x="522.90" y="300.38" width="7.20" height="7.17" fill="#edc5c8"/><rect x="529.50" y="300.38" width="13.80" height="7.17" fill="#ebb3b7"/><rect x="542.70" y="300.38" width="13.80" height="7.17" fill="#ecc0c4"/><rect x="555.90" y="300.38" width="7.20" height="7.17" fill="#ebb3b7"/><rect x="562.50" y="300.38" width="7.20" height="7.17" fill="#ecbabd"/><rect x="569.10" y="300.38" width="7.20" height="7.17" fill="#edc9cc"/><rect x="575.70" y="300.38" width="7.20" height="7.17" fill="#ecc0c4"/><rect x="582.30" y="300.38" width="7.20" height="7.17" fill="#ecbabd"/><rect x="588.90" y="300.38" width="7.20" height="7.17" fill="#eed0d2"/><rect x="595.50" y="300.38" width="7.20" height="7.17" fill="#edc5c8"/><rect x="602.10" y="300.38" width="7.20" height="7.17" fill="#ecbabd"/><rect x="608.70" y="300.38" width="7.20" height="7.17" fill="#edc5c8"/><rect x="615.30" y="300.38" width="7.20" height="7.17" fill="#edc9cc"/><rect x="621.90" y="300.38" width="7.20" height="7.17" fill="#ecbabd"/><rect x="628.50" y="300.38" width="7.20" height="7.17" fill="#ecc0c4"/><rect x="635.10" y="300.38" width="7.20" height="7.17" fill="#edc5c8"/><rect x="641.70" y="300.38" width="7.20" height="7.17" fill="#edc9cc"/><rect x="648.30" y="300.38" width="7.20" height="7.17" fill="#ecc0c4"/><rect x="654.90" y="300.38" width="7.20" height="7.17" fill="#edc5c8"/><rect x="661.50" y="300.38" width="6.60" height="7.17" fill="#edc9cc"/><rect x="377.70" y="306.95" width="7.20" height="7.17" fill="#f2666a"/><rect x="384.30" y="306.95" width="7.20" height="7.17" fill="#ef7076"/><rect x="390.90" y="306.95" width="7.20" height="7.17" fill="#ee8288"/><rect x="397.50" y="306.95" width="7.20" height="7.17" fill="#ed9297"/><rect x="404.10" y="306.95" width="7.20" height="7.17" fill="#ecbabd"/><rect x="410.70" y="306.95" width="20.40" height="7.17" fill="#eca3a8"/><rect x="430.50" y="306.95" width="13.80" height="7.17" fill="#ebaaae"/><rect x="443.70" y="306.95" width="7.20" height="7.17" fill="#ebafb3"/><rect x="450.30" y="306.95" width="13.80" height="7.17" fill="#ebb3b7"/><rect x="463.50" y="306.95" width="20.40" height="7.17" fill="#ecbabd"/><rect x="483.30" y="306.95" width="13.80" height="7.17" fill="#ecc0c4"/><rect x="496.50" y="306.95" width="13.80" height="7.17" fill="#edc9cc"/><rect x="509.70" y="306.95" width="7.20" height="7.17" fill="#eed0d2"/><rect x="516.30" y="306.95" width="7.20" height="7.17" fill="#eed7d8"/><rect x="522.90" y="306.95" width="66.60" height="7.17" fill="#efdbdc"/><rect x="588.90" y="306.95" width="20.40" height="7.17" fill="#efdfe0"/><rect x="608.70" y="306.95" width="27.00" height="7.17" fill="#f0e4e5"/><rect x="635.10" y="306.95" width="33.00" height="7.17" fill="#f0e6e7"/><rect x="377.70" y="313.52" width="7.20" height="7.17" fill="#f2666a"/><rect x="384.30" y="313.52" width="7.20" height="7.17" fill="#ef787e"/><rect x="390.90" y="313.52" width="20.40" height="7.17" fill="#ee7d83"/><rect x="410.70" y="313.52" width="7.20" height="7.17" fill="#ee8288"/><rect x="417.30" y="313.52" width="13.80" height="7.17" fill="#ee7d83"/><rect x="430.50" y="313.52" width="7.20" height="7.17" fill="#ee8288"/><rect x="437.10" y="313.52" width="13.80" height="7.17" fill="#ed8a90"/><rect x="450.30" y="313.52" width="27.00" height="7.17" fill="#ed9297"/><rect x="476.70" y="313.52" width="7.20" height="7.17" fill="#ed989c"/><rect x="483.30" y="313.52" width="20.40" height="7.17" fill="#ec9ca1"/><rect x="503.10" y="313.52" width="13.80" height="7.17" fill="#eca3a8"/><rect x="516.30" y="313.52" width="7.20" height="7.17" fill="#ebaaae"/><rect x="522.90" y="313.52" width="13.80" height="7.17" fill="#ebafb3"/><rect x="536.10" y="313.52" width="13.80" height="7.17" fill="#ebb3b7"/><rect x="549.30" y="313.52" width="13.80" height="7.17" fill="#ecbabd"/><rect x="562.50" y="313.52" width="20.40" height="7.17" fill="#ecc0c4"/><rect x="582.30" y="313.52" width="27.00" height="7.17" fill="#edc5c8"/><rect x="608.70" y="313.52" width="13.80" height="7.17" fill="#edc9cc"/><rect x="621.90" y="313.52" width="7.20" height="7.17" fill="#edc5c8"/><rect x="628.50" y="313.52" width="27.00" height="7.17" fill="#edc9cc"/><rect x="654.90" y="313.52" width="13.20" height="7.17" fill="#eed0d2"/><rect x="377.70" y="320.09" width="7.20" height="7.17" fill="#f2666a"/><rect x="384.30" y="320.09" width="7.20" height="7.17" fill="#ef787e"/><rect x="390.90" y="320.09" width="40.20" height="7.17" fill="#ee7d83"/><rect x="430.50" y="320.09" width="7.20" height="7.17" fill="#ee8288"/><rect x="437.10" y="320.09" width="33.60" height="7.17" fill="#ed8a90"/><rect x="470.10" y="320.09" width="27.00" height="7.17" fill="#ed9297"/><rect x="496.50" y="320.09" width="7.20" height="7.17" fill="#ed989c"/><rect x="503.10" y="320.09" width="13.80" height="7.17" fill="#ec9ca1"/><rect x="516.30" y="320.09" width="7.20" height="7.17" fill="#eca3a8"/><rect x="522.90" y="320.09" width="13.80" height="7.17" fill="#ebaaae"/><rect x="536.10" y="320.09" width="7.20" height="7.17" fill="#ebafb3"/><rect x="542.70" y="320.09" width="20.40" height="7.17" fill="#ebb3b7"/><rect x="562.50" y="320.09" width="13.80" height="7.17" fill="#ecbabd"/><rect x="575.70" y="320.09" width="40.20" height="7.17" fill="#ecc0c4"/><rect x="615.30" y="320.09" width="7.20" height="7.17" fill="#edc5c8"/><rect x="621.90" y="320.09" width="20.40" height="7.17" fill="#ecc0c4"/><rect x="641.70" y="320.09" width="26.40" height="7.17" fill="#edc5c8"/><rect x="377.70" y="326.66" width="7.20" height="7.17" fill="#fd3733"/><rect x="384.30" y="326.66" width="7.20" height="7.17" fill="#f36166"/><rect x="390.90" y="326.66" width="13.80" height="7.17" fill="#ee8288"/><rect x="404.10" y="326.66" width="7.20" height="7.17" fill="#ed8a90"/><rect x="410.70" y="326.66" width="13.80" height="7.17" fill="#ed989c"/><rect x="423.90" y="326.66" width="7.20" height="7.17" fill="#ed9297"/><rect x="430.50" y="326.66" width="13.80" height="7.17" fill="#eca3a8"/><rect x="443.70" y="326.66" width="13.80" height="7.17" fill="#ed9297"/><rect x="456.90" y="326.66" width="13.80" height="7.17" fill="#ec9ca1"/><rect x="470.10" y="326.66" width="7.20" height="7.17" fill="#ed9297"/><rect x="476.70" y="326.66" width="7.20" height="7.17" fill="#ec9ca1"/><rect x="483.30" y="326.66" width="13.80" height="7.17" fill="#eca3a8"/><rect x="496.50" y="326.66" width="7.20" height="7.17" fill="#ebaaae"/><rect x="503.10" y="326.66" width="13.80" height="7.17" fill="#ebafb3"/><rect x="516.30" y="326.66" width="7.20" height="7.17" fill="#ebaaae"/><rect x="522.90" y="326.66" width="13.80" height="7.17" fill="#ebafb3"/><rect x="536.10" y="326.66" width="7.20" height="7.17" fill="#ebaaae"/><rect x="542.70" y="326.66" width="7.20" height="7.17" fill="#ebafb3"/><rect x="549.30" y="326.66" width="20.40" height="7.17" fill="#ebb3b7"/><rect x="569.10" y="326.66" width="33.60" height="7.17" fill="#ecbabd"/><rect x="602.10" y="326.66" width="13.80" height="7.17" fill="#ebafb3"/><rect x="615.30" y="326.66" width="40.20" height="7.17" fill="#ecbabd"/><rect x="654.90" y="326.66" width="7.20" height="7.17" fill="#ebb3b7"/><rect x="661.50" y="326.66" width="6.60" height="7.17" fill="#ecc0c4"/><rect x="377.70" y="333.23" width="7.20" height="7.17" fill="#fc3a39"/><rect x="384.30" y="333.23" width="7.20" height="7.17" fill="#f45b5f"/><rect x="390.90" y="333.23" width="13.80" height="7.17" fill="#ef7076"/><rect x="404.10" y="333.23" width="7.20" height="7.17" fill="#ef787e"/><rect x="410.70" y="333.23" width="20.40" height="7.17" fill="#ee7d83"/><rect x="430.50" y="333.23" width="7.20" height="7.17" fill="#ee8288"/><rect x="437.10" y="333.23" width="7.20" height="7.17" fill="#ed9297"/><rect x="443.70" y="333.23" width="20.40" height="7.17" fill="#ed8a90"/><rect x="463.50" y="333.23" width="7.20" height="7.17" fill="#ed9297"/><rect x="470.10" y="333.23" width="13.80" height="7.17" fill="#ed8a90"/><rect x="483.30" y="333.23" width="13.80" height="7.17" fill="#ec9ca1"/><rect x="496.50" y="333.23" width="13.80" height="7.17" fill="#eca3a8"/><rect x="509.70" y="333.23" width="40.20" height="7.17" fill="#ebaaae"/><rect x="549.30" y="333.23" width="13.80" height="7.17" fill="#ebafb3"/><rect x="562.50" y="333.23" width="13.80" height="7.17" fill="#ebb3b7"/><rect x="575.70" y="333.23" width="27.00" height="7.17" fill="#ecbabd"/><rect x="602.10" y="333.23" width="13.80" height="7.17" fill="#ebafb3"/><rect x="615.30" y="333.23" width="33.60" height="7.17" fill="#ebb3b7"/><rect x="648.30" y="333.23" width="7.20" height="7.17" fill="#ecbabd"/><rect x="654.90" y="333.23" width="7.20" height="7.17" fill="#ebb3b7"/><rect x="661.50" y="333.23" width="6.60" height="7.17" fill="#ecbabd"/><rect x="377.70" y="339.80" width="7.20" height="7.17" fill="#ee7d83"/><rect x="384.30" y="339.80" width="7.20" height="7.17" fill="#ed8a90"/><rect x="390.90" y="339.80" width="7.20" height="7.17" fill="#ed989c"/><rect x="397.50" y="339.80" width="7.20" height="7.17" fill="#eca3a8"/><rect x="404.10" y="339.80" width="7.20" height="7.17" fill="#ebb3b7"/><rect x="410.70" y="339.80" width="7.20" height="7.17" fill="#ebafb3"/><rect x="417.30" y="339.80" width="40.20" height="7.17" fill="#ebaaae"/><rect x="456.90" y="339.80" width="13.80" height="7.17" fill="#ebafb3"/><rect x="470.10" y="339.80" width="13.80" height="7.17" fill="#ebb3b7"/><rect x="483.30" y="339.80" width="13.80" height="7.17" fill="#ecc0c4"/><rect x="496.50" y="339.80" width="20.40" height="7.17" fill="#edc9cc"/><rect x="516.30" y="339.80" width="13.80" height="7.17" fill="#eed0d2"/><rect x="529.50" y="339.80" width="27.00" height="7.17" fill="#eed7d8"/><rect x="555.90" y="339.80" width="27.00" height="7.17" fill="#efdfe0"/><rect x="582.30" y="339.80" width="20.40" height="7.17" fill="#f0e4e5"/><rect x="602.10" y="339.80" width="66.00" height="7.17" fill="#f0e6e7"/><rect x="377.70" y="346.38" width="7.20" height="7.17" fill="#ef7076"/><rect x="384.30" y="346.38" width="7.20" height="7.17" fill="#ee8288"/><rect x="390.90" y="346.38" width="7.20" height="7.17" fill="#ed8a90"/><rect x="397.50" y="346.38" width="7.20" height="7.17" fill="#ed989c"/><rect x="404.10" y="346.38" width="7.20" height="7.17" fill="#ecbabd"/><rect x="410.70" y="346.38" width="7.20" height="7.17" fill="#ebb3b7"/><rect x="417.30" y="346.38" width="20.40" height="7.17" fill="#ec9ca1"/><rect x="437.10" y="346.38" width="20.40" height="7.17" fill="#ed989c"/><rect x="456.90" y="346.38" width="7.20" height="7.17" fill="#ec9ca1"/><rect x="463.50" y="346.38" width="13.80" height="7.17" fill="#eca3a8"/><rect x="476.70" y="346.38" width="7.20" height="7.17" fill="#ebaaae"/><rect x="483.30" y="346.38" width="7.20" height="7.17" fill="#ebafb3"/><rect x="489.90" y="346.38" width="7.20" height="7.17" fill="#ebb3b7"/><rect x="496.50" y="346.38" width="13.80" height="7.17" fill="#edc5c8"/><rect x="509.70" y="346.38" width="7.20" height="7.17" fill="#edc9cc"/><rect x="516.30" y="346.38" width="20.40" height="7.17" fill="#eed0d2"/><rect x="536.10" y="346.38" width="7.20" height="7.17" fill="#eed7d8"/><rect x="542.70" y="346.38" width="7.20" height="7.17" fill="#efdbdc"/><rect x="549.30" y="346.38" width="7.20" height="7.17" fill="#eed7d8"/><rect x="555.90" y="346.38" width="13.80" height="7.17" fill="#efdfe0"/><rect x="569.10" y="346.38" width="7.20" height="7.17" fill="#f0e6e7"/><rect x="575.70" y="346.38" width="7.20" height="7.17" fill="#efdfe0"/><rect x="582.30" y="346.38" width="13.80" height="7.17" fill="#f0eaeb"/><rect x="595.50" y="346.38" width="7.20" height="7.17" fill="#f0e6e7"/><rect x="602.10" y="346.38" width="13.80" height="7.17" fill="#f1eded"/><rect x="615.30" y="346.38" width="13.80" height="7.17" fill="#f0eaeb"/><rect x="628.50" y="346.38" width="20.40" height="7.17" fill="#f1eded"/><rect x="648.30" y="346.38" width="7.20" height="7.17" fill="#f1f1f1"/><rect x="654.90" y="346.38" width="13.20" height="7.17" fill="#f1eded"/><rect x="377.70" y="352.95" width="20.40" height="7.17" fill="#ed989c"/><rect x="397.50" y="352.95" width="53.40" height="7.17" fill="#ec9ca1"/><rect x="450.30" y="352.95" width="27.00" height="7.17" fill="#eca3a8"/><rect x="476.70" y="352.95" width="13.80" height="7.17" fill="#ebaaae"/><rect x="489.90" y="352.95" width="46.80" height="7.17" fill="#ebafb3"/><rect x="536.10" y="352.95" width="27.00" height="7.17" fill="#ebb3b7"/><rect x="562.50" y="352.95" width="20.40" height="7.17" fill="#ecbabd"/><rect x="582.30" y="352.95" width="13.80" height="7.17" fill="#ecc0c4"/><rect x="595.50" y="352.95" width="40.20" height="7.17" fill="#ecbabd"/><rect x="635.10" y="352.95" width="33.00" height="7.17" fill="#ecc0c4"/><rect x="377.70" y="359.52" width="7.20" height="7.17" fill="#fe2c22"/><rect x="384.30" y="359.52" width="7.20" height="7.17" fill="#fd3733"/><rect x="390.90" y="359.52" width="7.20" height="7.17" fill="#f84b4c"/><rect x="397.50" y="359.52" width="13.80" height="7.17" fill="#f45b5f"/><rect x="410.70" y="359.52" width="27.00" height="7.17" fill="#f35f63"/><rect x="437.10" y="359.52" width="13.80" height="7.17" fill="#f2666a"/><rect x="450.30" y="359.52" width="13.80" height="7.17" fill="#f35f63"/><rect x="463.50" y="359.52" width="7.20" height="7.17" fill="#f2666a"/><rect x="470.10" y="359.52" width="13.80" height="7.17" fill="#f35f63"/><rect x="483.30" y="359.52" width="7.20" height="7.17" fill="#f2666a"/><rect x="489.90" y="359.52" width="13.80" height="7.17" fill="#f06c71"/><rect x="503.10" y="359.52" width="7.20" height="7.17" fill="#ef7076"/><rect x="509.70" y="359.52" width="13.80" height="7.17" fill="#ef757b"/><rect x="522.90" y="359.52" width="7.20" height="7.17" fill="#ef7076"/><rect x="529.50" y="359.52" width="27.00" height="7.17" fill="#ee858a"/><rect x="555.90" y="359.52" width="20.40" height="7.17" fill="#ed8a90"/><rect x="575.70" y="359.52" width="27.00" height="7.17" fill="#ed9095"/><rect x="602.10" y="359.52" width="13.80" height="7.17" fill="#ed989c"/><rect x="615.30" y="359.52" width="7.20" height="7.17" fill="#ed9095"/><rect x="621.90" y="359.52" width="27.00" height="7.17" fill="#ed989c"/><rect x="648.30" y="359.52" width="19.80" height="7.17" fill="#eca0a4"/><rect x="377.70" y="366.09" width="7.20" height="7.17" fill="#fd322b"/><rect x="384.30" y="366.09" width="7.20" height="7.17" fill="#fc3c3c"/><rect x="390.90" y="366.09" width="7.20" height="7.17" fill="#f5575a"/><rect x="397.50" y="366.09" width="7.20" height="7.17" fill="#f35f63"/><rect x="404.10" y="366.09" width="33.60" height="7.17" fill="#f2666a"/><rect x="437.10" y="366.09" width="20.40" height="7.17" fill="#f06c71"/><rect x="456.90" y="366.09" width="7.20" height="7.17" fill="#ef7076"/><rect x="463.50" y="366.09" width="13.80" height="7.17" fill="#ef757b"/><rect x="476.70" y="366.09" width="20.40" height="7.17" fill="#ee7d83"/><rect x="496.50" y="366.09" width="13.80" height="7.17" fill="#ee858a"/><rect x="509.70" y="366.09" width="7.20" height="7.17" fill="#ed8a90"/><rect x="516.30" y="366.09" width="7.20" height="7.17" fill="#ed9095"/><rect x="522.90" y="366.09" width="20.40" height="7.17" fill="#ed989c"/><rect x="542.70" y="366.09" width="20.40" height="7.17" fill="#eca0a4"/><rect x="562.50" y="366.09" width="13.80" height="7.17" fill="#eca5a9"/><rect x="575.70" y="366.09" width="20.40" height="7.17" fill="#ebaaae"/><rect x="595.50" y="366.09" width="13.80" height="7.17" fill="#ebb2b6"/><rect x="608.70" y="366.09" width="27.00" height="7.17" fill="#ecbabd"/><rect x="635.10" y="366.09" width="33.00" height="7.17" fill="#ecbfc2"/><rect x="377.70" y="372.66" width="7.20" height="7.17" fill="#fe2c22"/><rect x="384.30" y="372.66" width="7.20" height="7.17" fill="#fe2e26"/><rect x="390.90" y="372.66" width="7.20" height="7.17" fill="#fc3c3c"/><rect x="397.50" y="372.66" width="7.20" height="7.17" fill="#ef7076"/><rect x="404.10" y="372.66" width="7.20" height="7.17" fill="#f75153"/><rect x="410.70" y="372.66" width="13.80" height="7.17" fill="#f5575a"/><rect x="423.90" y="372.66" width="33.60" height="7.17" fill="#f45b5f"/><rect x="456.90" y="372.66" width="7.20" height="7.17" fill="#f35f63"/><rect x="463.50" y="372.66" width="13.80" height="7.17" fill="#f2666a"/><rect x="476.70" y="372.66" width="7.20" height="7.17" fill="#f06c71"/><rect x="483.30" y="372.66" width="13.80" height="7.17" fill="#ef7076"/><rect x="496.50" y="372.66" width="7.20" height="7.17" fill="#ef757b"/><rect x="503.10" y="372.66" width="13.80" height="7.17" fill="#ee7d83"/><rect x="516.30" y="372.66" width="7.20" height="7.17" fill="#ee858a"/><rect x="522.90" y="372.66" width="20.40" height="7.17" fill="#ed8a90"/><rect x="542.70" y="372.66" width="20.40" height="7.17" fill="#ed9095"/><rect x="562.50" y="372.66" width="13.80" height="7.17" fill="#ed989c"/><rect x="575.70" y="372.66" width="20.40" height="7.17" fill="#eca0a4"/><rect x="595.50" y="372.66" width="40.20" height="7.17" fill="#eca5a9"/><rect x="635.10" y="372.66" width="33.00" height="7.17" fill="#ebaaae"/><rect x="377.70" y="379.23" width="7.20" height="6.57" fill="#f94648"/><rect x="384.30" y="379.23" width="7.20" height="6.57" fill="#f75153"/><rect x="390.90" y="379.23" width="7.20" height="6.57" fill="#f45b5f"/><rect x="397.50" y="379.23" width="7.20" height="6.57" fill="#f2666a"/><rect x="404.10" y="379.23" width="13.80" height="6.57" fill="#f06c71"/><rect x="417.30" y="379.23" width="20.40" height="6.57" fill="#ef7076"/><rect x="437.10" y="379.23" width="20.40" height="6.57" fill="#ef757b"/><rect x="456.90" y="379.23" width="13.80" height="6.57" fill="#ee7d83"/><rect x="470.10" y="379.23" width="13.80" height="6.57" fill="#ee858a"/><rect x="483.30" y="379.23" width="7.20" height="6.57" fill="#ed8a90"/><rect x="489.90" y="379.23" width="13.80" height="6.57" fill="#ed9095"/><rect x="503.10" y="379.23" width="13.80" height="6.57" fill="#ed989c"/><rect x="516.30" y="379.23" width="13.80" height="6.57" fill="#eca0a4"/><rect x="529.50" y="379.23" width="13.80" height="6.57" fill="#eca5a9"/><rect x="542.70" y="379.23" width="20.40" height="6.57" fill="#ebaaae"/><rect x="562.50" y="379.23" width="20.40" height="6.57" fill="#ebb2b6"/><rect x="582.30" y="379.23" width="33.60" height="6.57" fill="#ecbabd"/><rect x="615.30" y="379.23" width="33.60" height="6.57" fill="#ecbfc2"/><rect x="648.30" y="379.23" width="19.80" height="6.57" fill="#edc4c7"/></g><path d="M377.70 231.39h-1.6M377.70 237.96h-1.6M377.70 244.53h-1.6M377.70 251.10h-1.6M377.70 257.67h-1.6M377.70 264.24h-1.6M377.70 270.81h-1.6M377.70 277.38h-1.6M377.70 283.95h-1.6M377.70 290.52h-1.6M377.70 297.09h-1.6M377.70 303.66h-1.6M377.70 310.24h-1.6M377.70 316.81h-1.6M377.70 323.38h-1.6M377.70 329.95h-1.6M377.70 336.52h-1.6M377.70 343.09h-1.6M377.70 349.66h-1.6M377.70 356.23h-1.6M377.70 362.80h-1.6M377.70 369.37h-1.6M377.70 375.94h-1.6M377.70 382.51h-1.6M381.00 385.80v2.0M394.20 385.80v2.0M407.40 385.80v2.0M420.60 385.80v2.0M433.80 385.80v2.0M447.00 385.80v2.0M460.20 385.80v2.0M473.40 385.80v2.0M486.60 385.80v2.0M499.80 385.80v2.0M513.00 385.80v2.0M526.20 385.80v2.0M539.40 385.80v2.0M552.60 385.80v2.0M565.80 385.80v2.0M579.00 385.80v2.0M592.20 385.80v2.0M605.40 385.80v2.0M618.60 385.80v2.0M631.80 385.80v2.0M645.00 385.80v2.0M658.20 385.80v2.0" stroke="#111" stroke-width="1.0" fill="none" shape-rendering="auto"/><g font-size="7.3"><text x="372.80" y="233.49" text-anchor="end">WJ</text><text x="372.80" y="240.06" text-anchor="end">HM</text><text x="372.80" y="246.63" text-anchor="end">SHC</text><text x="372.80" y="253.20" text-anchor="end">LS</text><text x="372.80" y="259.77" text-anchor="end">LC</text><text x="372.80" y="266.34" text-anchor="end">PL</text><text x="372.80" y="272.91" text-anchor="end">YW</text><text x="372.80" y="279.48" text-anchor="end">ZP</text><text x="372.80" y="286.05" text-anchor="end">HY</text><text x="372.80" y="292.62" text-anchor="end">SC</text><text x="372.80" y="299.19" text-anchor="end">LX</text><text x="372.80" y="305.76" text-anchor="end">RS</text><text x="372.80" y="312.34" text-anchor="end">BL</text><text x="372.80" y="318.91" text-anchor="end">FLX</text><text x="372.80" y="325.48" text-anchor="end">SJ</text><text x="372.80" y="332.05" text-anchor="end">LZh</text><text x="372.80" y="338.62" text-anchor="end">XZ</text><text x="372.80" y="345.19" text-anchor="end">NN</text><text x="372.80" y="351.76" text-anchor="end">GG</text><text x="372.80" y="358.33" text-anchor="end">QJ</text><text x="372.80" y="364.90" text-anchor="end">WX</text><text x="372.80" y="371.47" text-anchor="end">DHJK</text><text x="372.80" y="378.04" text-anchor="end">WZ</text><text x="372.80" y="384.61" text-anchor="end">GY</text></g><g font-size="9.4"><text x="381.00" y="397.50" text-anchor="middle">1</text><text x="394.20" y="397.50" text-anchor="middle">3</text><text x="407.40" y="397.50" text-anchor="middle">5</text><text x="420.60" y="397.50" text-anchor="middle">7</text><text x="433.80" y="397.50" text-anchor="middle">9</text><text x="447.00" y="397.50" text-anchor="middle">11</text><text x="460.20" y="397.50" text-anchor="middle">13</text><text x="473.40" y="397.50" text-anchor="middle">15</text><text x="486.60" y="397.50" text-anchor="middle">17</text><text x="499.80" y="397.50" text-anchor="middle">19</text><text x="513.00" y="397.50" text-anchor="middle">21</text><text x="526.20" y="397.50" text-anchor="middle">23</text><text x="539.40" y="397.50" text-anchor="middle">25</text><text x="552.60" y="397.50" text-anchor="middle">27</text><text x="565.80" y="397.50" text-anchor="middle">29</text><text x="579.00" y="397.50" text-anchor="middle">31</text><text x="592.20" y="397.50" text-anchor="middle">33</text><text x="605.40" y="397.50" text-anchor="middle">35</text><text x="618.60" y="397.50" text-anchor="middle">37</text><text x="631.80" y="397.50" text-anchor="middle">39</text><text x="645.00" y="397.50" text-anchor="middle">41</text><text x="658.20" y="397.50" text-anchor="middle">43</text></g><text x="522.90" y="410.00" text-anchor="middle" font-size="9.6">Lead days</text><text x="522.90" y="222.20" text-anchor="middle" font-size="13.8">E2</text><text x="349.00" y="222.95" font-size="16.4">(d)</text><g shape-rendering="auto" filter="url(#soft)"><rect x="29.10" y="439.15" width="7.20" height="7.20" fill="#b1d4f4"/><rect x="35.70" y="439.15" width="7.20" height="7.20" fill="#c1ddf3"/><rect x="42.30" y="439.15" width="7.20" height="7.20" fill="#c6dff3"/><rect x="48.90" y="439.15" width="20.40" height="7.20" fill="#cae0f2"/><rect x="68.70" y="439.15" width="7.20" height="7.20" fill="#c6dff3"/><rect x="75.30" y="439.15" width="7.20" height="7.20" fill="#d1e3f2"/><rect x="81.90" y="439.15" width="40.20" height="7.20" fill="#cae0f2"/><rect x="121.50" y="439.15" width="27.00" height="7.20" fill="#d1e3f2"/><rect x="147.90" y="439.15" width="13.80" height="7.20" fill="#d7e6f2"/><rect x="161.10" y="439.15" width="13.80" height="7.20" fill="#dbe8f2"/><rect x="174.30" y="439.15" width="40.20" height="7.20" fill="#e4ebf1"/><rect x="213.90" y="439.15" width="33.60" height="7.20" fill="#e6ecf1"/><rect x="246.90" y="439.15" width="7.20" height="7.20" fill="#ebeef1"/><rect x="253.50" y="439.15" width="7.20" height="7.20" fill="#e6ecf1"/><rect x="260.10" y="439.15" width="13.80" height="7.20" fill="#ebeef1"/><rect x="273.30" y="439.15" width="7.20" height="7.20" fill="#e6ecf1"/><rect x="279.90" y="439.15" width="7.20" height="7.20" fill="#ebeef1"/><rect x="286.50" y="439.15" width="7.20" height="7.20" fill="#edeff1"/><rect x="293.10" y="439.15" width="13.80" height="7.20" fill="#ebeef1"/><rect x="306.30" y="439.15" width="7.20" height="7.20" fill="#e6ecf1"/><rect x="312.90" y="439.15" width="6.60" height="7.20" fill="#ebeef1"/><rect x="29.10" y="445.75" width="13.80" height="7.20" fill="#f1f1f1"/><rect x="42.30" y="445.75" width="7.20" height="7.20" fill="#f1ecec"/><rect x="48.90" y="445.75" width="7.20" height="7.20" fill="#edeff1"/><rect x="55.50" y="445.75" width="7.20" height="7.20" fill="#dbe8f2"/><rect x="62.10" y="445.75" width="7.20" height="7.20" fill="#e6ecf1"/><rect x="68.70" y="445.75" width="7.20" height="7.20" fill="#bbdaf3"/><rect x="75.30" y="445.75" width="7.20" height="7.20" fill="#dbe8f2"/><rect x="81.90" y="445.75" width="13.80" height="7.20" fill="#e6ecf1"/><rect x="95.10" y="445.75" width="20.40" height="7.20" fill="#f0e4e5"/><rect x="114.90" y="445.75" width="13.80" height="7.20" fill="#f0e9ea"/><rect x="128.10" y="445.75" width="7.20" height="7.20" fill="#f0e4e5"/><rect x="134.70" y="445.75" width="7.20" height="7.20" fill="#f1f1f1"/><rect x="141.30" y="445.75" width="7.20" height="7.20" fill="#e6ecf1"/><rect x="147.90" y="445.75" width="7.20" height="7.20" fill="#f0e4e5"/><rect x="154.50" y="445.75" width="7.20" height="7.20" fill="#f1f1f1"/><rect x="161.10" y="445.75" width="7.20" height="7.20" fill="#f0e9ea"/><rect x="167.70" y="445.75" width="7.20" height="7.20" fill="#f1f1f1"/><rect x="174.30" y="445.75" width="7.20" height="7.20" fill="#f0e9ea"/><rect x="180.90" y="445.75" width="13.80" height="7.20" fill="#f1ecec"/><rect x="194.10" y="445.75" width="7.20" height="7.20" fill="#f0e4e5"/><rect x="200.70" y="445.75" width="7.20" height="7.20" fill="#f1f1f1"/><rect x="207.30" y="445.75" width="13.80" height="7.20" fill="#f0e9ea"/><rect x="220.50" y="445.75" width="7.20" height="7.20" fill="#efddde"/><rect x="227.10" y="445.75" width="13.80" height="7.20" fill="#f0e4e5"/><rect x="240.30" y="445.75" width="7.20" height="7.20" fill="#efddde"/><rect x="246.90" y="445.75" width="7.20" height="7.20" fill="#f0e4e5"/><rect x="253.50" y="445.75" width="7.20" height="7.20" fill="#f1ecec"/><rect x="260.10" y="445.75" width="7.20" height="7.20" fill="#f0e9ea"/><rect x="266.70" y="445.75" width="13.80" height="7.20" fill="#f1f1f1"/><rect x="279.90" y="445.75" width="7.20" height="7.20" fill="#f1ecec"/><rect x="286.50" y="445.75" width="7.20" height="7.20" fill="#f0e4e5"/><rect x="293.10" y="445.75" width="7.20" height="7.20" fill="#f0e9ea"/><rect x="299.70" y="445.75" width="7.20" height="7.20" fill="#f0e4e5"/><rect x="306.30" y="445.75" width="7.20" height="7.20" fill="#efddde"/><rect x="312.90" y="445.75" width="6.60" height="7.20" fill="#f1f1f1"/><rect x="29.10" y="452.35" width="7.20" height="7.20" fill="#e0eaf2"/><rect x="35.70" y="452.35" width="7.20" height="7.20" fill="#f0e4e5"/><rect x="42.30" y="452.35" width="7.20" height="7.20" fill="#eca5a9"/><rect x="48.90" y="452.35" width="7.20" height="7.20" fill="#ed9095"/><rect x="55.50" y="452.35" width="7.20" height="7.20" fill="#ed989c"/><rect x="62.10" y="452.35" width="20.40" height="7.20" fill="#f45b5f"/><rect x="81.90" y="452.35" width="7.20" height="7.20" fill="#fd322b"/><rect x="88.50" y="452.35" width="7.20" height="7.20" fill="#f75153"/><rect x="95.10" y="452.35" width="7.20" height="7.20" fill="#ee7d83"/><rect x="101.70" y="452.35" width="7.20" height="7.20" fill="#eca0a4"/><rect x="108.30" y="452.35" width="7.20" height="7.20" fill="#f94648"/><rect x="114.90" y="452.35" width="13.80" height="7.20" fill="#ee858a"/><rect x="128.10" y="452.35" width="7.20" height="7.20" fill="#ee7d83"/><rect x="134.70" y="452.35" width="7.20" height="7.20" fill="#ed9095"/><rect x="141.30" y="452.35" width="7.20" height="7.20" fill="#eca5a9"/><rect x="147.90" y="452.35" width="7.20" height="7.20" fill="#ed9095"/><rect x="154.50" y="452.35" width="7.20" height="7.20" fill="#f2666a"/><rect x="161.10" y="452.35" width="7.20" height="7.20" fill="#f06c71"/><rect x="167.70" y="452.35" width="7.20" height="7.20" fill="#ed9095"/><rect x="174.30" y="452.35" width="7.20" height="7.20" fill="#ee858a"/><rect x="180.90" y="452.35" width="7.20" height="7.20" fill="#f2666a"/><rect x="187.50" y="452.35" width="7.20" height="7.20" fill="#ef757b"/><rect x="194.10" y="452.35" width="7.20" height="7.20" fill="#f2666a"/><rect x="200.70" y="452.35" width="7.20" height="7.20" fill="#f75153"/><rect x="207.30" y="452.35" width="7.20" height="7.20" fill="#ee7d83"/><rect x="213.90" y="452.35" width="7.20" height="7.20" fill="#ed989c"/><rect x="220.50" y="452.35" width="7.20" height="7.20" fill="#f2666a"/><rect x="227.10" y="452.35" width="7.20" height="7.20" fill="#f35f63"/><rect x="233.70" y="452.35" width="7.20" height="7.20" fill="#ef7076"/><rect x="240.30" y="452.35" width="7.20" height="7.20" fill="#ee858a"/><rect x="246.90" y="452.35" width="7.20" height="7.20" fill="#ee7d83"/><rect x="253.50" y="452.35" width="7.20" height="7.20" fill="#ed8a90"/><rect x="260.10" y="452.35" width="7.20" height="7.20" fill="#ed989c"/><rect x="266.70" y="452.35" width="13.80" height="7.20" fill="#ee858a"/><rect x="279.90" y="452.35" width="7.20" height="7.20" fill="#ef757b"/><rect x="286.50" y="452.35" width="7.20" height="7.20" fill="#ee7d83"/><rect x="293.10" y="452.35" width="7.20" height="7.20" fill="#f5575a"/><rect x="299.70" y="452.35" width="7.20" height="7.20" fill="#ef7076"/><rect x="306.30" y="452.35" width="7.20" height="7.20" fill="#f2666a"/><rect x="312.90" y="452.35" width="6.60" height="7.20" fill="#ef7076"/><rect x="29.10" y="458.94" width="7.20" height="7.20" fill="#e0eaf2"/><rect x="35.70" y="458.94" width="7.20" height="7.20" fill="#edeff1"/><rect x="42.30" y="458.94" width="7.20" height="7.20" fill="#edcbce"/><rect x="48.90" y="458.94" width="7.20" height="7.20" fill="#ebb2b6"/><rect x="55.50" y="458.94" width="7.20" height="7.20" fill="#ebaaae"/><rect x="62.10" y="458.94" width="7.20" height="7.20" fill="#ecbabd"/><rect x="68.70" y="458.94" width="7.20" height="7.20" fill="#edc4c7"/><rect x="75.30" y="458.94" width="7.20" height="7.20" fill="#ecbabd"/><rect x="81.90" y="458.94" width="7.20" height="7.20" fill="#ecbfc2"/><rect x="88.50" y="458.94" width="13.80" height="7.20" fill="#efd8d9"/><rect x="101.70" y="458.94" width="7.20" height="7.20" fill="#edcbce"/><rect x="108.30" y="458.94" width="7.20" height="7.20" fill="#efddde"/><rect x="114.90" y="458.94" width="13.80" height="7.20" fill="#f0e2e3"/><rect x="128.10" y="458.94" width="7.20" height="7.20" fill="#f1f1f1"/><rect x="134.70" y="458.94" width="7.20" height="7.20" fill="#ebeef1"/><rect x="141.30" y="458.94" width="13.80" height="7.20" fill="#e0eaf2"/><rect x="154.50" y="458.94" width="7.20" height="7.20" fill="#ebeef1"/><rect x="161.10" y="458.94" width="13.80" height="7.20" fill="#e6ecf1"/><rect x="174.30" y="458.94" width="7.20" height="7.20" fill="#ebeef1"/><rect x="180.90" y="458.94" width="7.20" height="7.20" fill="#f1f1f1"/><rect x="187.50" y="458.94" width="13.80" height="7.20" fill="#edeff1"/><rect x="200.70" y="458.94" width="13.80" height="7.20" fill="#f1ecec"/><rect x="213.90" y="458.94" width="7.20" height="7.20" fill="#f0e4e5"/><rect x="220.50" y="458.94" width="7.20" height="7.20" fill="#f0e9ea"/><rect x="227.10" y="458.94" width="13.80" height="7.20" fill="#f1ecec"/><rect x="240.30" y="458.94" width="20.40" height="7.20" fill="#f1f1f1"/><rect x="260.10" y="458.94" width="7.20" height="7.20" fill="#edeff1"/><rect x="266.70" y="458.94" width="20.40" height="7.20" fill="#f1f1f1"/><rect x="286.50" y="458.94" width="7.20" height="7.20" fill="#efddde"/><rect x="293.10" y="458.94" width="7.20" height="7.20" fill="#f1ecec"/><rect x="299.70" y="458.94" width="7.20" height="7.20" fill="#f1f1f1"/><rect x="306.30" y="458.94" width="7.20" height="7.20" fill="#f0e9ea"/><rect x="312.90" y="458.94" width="6.60" height="7.20" fill="#f0e4e5"/><rect x="29.10" y="465.54" width="7.20" height="7.20" fill="#dbe8f2"/><rect x="35.70" y="465.54" width="7.20" height="7.20" fill="#e0eaf2"/><rect x="42.30" y="465.54" width="13.80" height="7.20" fill="#f1f1f1"/><rect x="55.50" y="465.54" width="13.80" height="7.20" fill="#e6ecf1"/><rect x="68.70" y="465.54" width="13.80" height="7.20" fill="#dbe8f2"/><rect x="81.90" y="465.54" width="7.20" height="7.20" fill="#d1e3f2"/><rect x="88.50" y="465.54" width="7.20" height="7.20" fill="#c6dff3"/><rect x="95.10" y="465.54" width="7.20" height="7.20" fill="#bbdaf3"/><rect x="101.70" y="465.54" width="13.80" height="7.20" fill="#c6dff3"/><rect x="114.90" y="465.54" width="7.20" height="7.20" fill="#cae0f2"/><rect x="121.50" y="465.54" width="13.80" height="7.20" fill="#c1ddf3"/><rect x="134.70" y="465.54" width="13.80" height="7.20" fill="#cae0f2"/><rect x="147.90" y="465.54" width="20.40" height="7.20" fill="#d1e3f2"/><rect x="167.70" y="465.54" width="13.80" height="7.20" fill="#d7e6f2"/><rect x="180.90" y="465.54" width="20.40" height="7.20" fill="#d1e3f2"/><rect x="200.70" y="465.54" width="7.20" height="7.20" fill="#dbe8f2"/><rect x="207.30" y="465.54" width="13.80" height="7.20" fill="#f1f1f1"/><rect x="220.50" y="465.54" width="13.80" height="7.20" fill="#e0eaf2"/><rect x="233.70" y="465.54" width="27.00" height="7.20" fill="#e4ebf1"/><rect x="260.10" y="465.54" width="7.20" height="7.20" fill="#e0eaf2"/><rect x="266.70" y="465.54" width="7.20" height="7.20" fill="#e4ebf1"/><rect x="273.30" y="465.54" width="7.20" height="7.20" fill="#f1f1f1"/><rect x="279.90" y="465.54" width="7.20" height="7.20" fill="#ebeef1"/><rect x="286.50" y="465.54" width="13.80" height="7.20" fill="#e6ecf1"/><rect x="299.70" y="465.54" width="7.20" height="7.20" fill="#f1f1f1"/><rect x="306.30" y="465.54" width="7.20" height="7.20" fill="#ebeef1"/><rect x="312.90" y="465.54" width="6.60" height="7.20" fill="#f0e9ea"/><rect x="29.10" y="472.14" width="7.20" height="7.20" fill="#e6ecf1"/><rect x="35.70" y="472.14" width="7.20" height="7.20" fill="#bbdaf3"/><rect x="42.30" y="472.14" width="7.20" height="7.20" fill="#c6dff3"/><rect x="48.90" y="472.14" width="7.20" height="7.20" fill="#e0eaf2"/><rect x="55.50" y="472.14" width="20.40" height="7.20" fill="#e6ecf1"/><rect x="75.30" y="472.14" width="7.20" height="7.20" fill="#f1f1f1"/><rect x="81.90" y="472.14" width="13.80" height="7.20" fill="#e6ecf1"/><rect x="95.10" y="472.14" width="7.20" height="7.20" fill="#f1f1f1"/><rect x="101.70" y="472.14" width="7.20" height="7.20" fill="#f0e4e5"/><rect x="108.30" y="472.14" width="13.80" height="7.20" fill="#f0e9ea"/><rect x="121.50" y="472.14" width="13.80" height="7.20" fill="#f0e4e5"/><rect x="134.70" y="472.14" width="7.20" height="7.20" fill="#f1ecec"/><rect x="141.30" y="472.14" width="40.20" height="7.20" fill="#f1f1f1"/><rect x="180.90" y="472.14" width="20.40" height="7.20" fill="#e6ecf1"/><rect x="200.70" y="472.14" width="46.80" height="7.20" fill="#e4ebf1"/><rect x="246.90" y="472.14" width="27.00" height="7.20" fill="#ebeef1"/><rect x="273.30" y="472.14" width="7.20" height="7.20" fill="#e6ecf1"/><rect x="279.90" y="472.14" width="7.20" height="7.20" fill="#ebeef1"/><rect x="286.50" y="472.14" width="13.80" height="7.20" fill="#f1f1f1"/><rect x="299.70" y="472.14" width="7.20" height="7.20" fill="#edeff1"/><rect x="306.30" y="472.14" width="7.20" height="7.20" fill="#f1f1f1"/><rect x="312.90" y="472.14" width="6.60" height="7.20" fill="#edeff1"/><rect x="29.10" y="478.74" width="7.20" height="7.20" fill="#f1f1f1"/><rect x="35.70" y="478.74" width="7.20" height="7.20" fill="#f1ecec"/><rect x="42.30" y="478.74" width="7.20" height="7.20" fill="#edcbce"/><rect x="48.90" y="478.74" width="7.20" height="7.20" fill="#ed989c"/><rect x="55.50" y="478.74" width="7.20" height="7.20" fill="#ee7d83"/><rect x="62.10" y="478.74" width="7.20" height="7.20" fill="#f2666a"/><rect x="68.70" y="478.74" width="7.20" height="7.20" fill="#f45b5f"/><rect x="75.30" y="478.74" width="7.20" height="7.20" fill="#f84b4c"/><rect x="81.90" y="478.74" width="7.20" height="7.20" fill="#f5575a"/><rect x="88.50" y="478.74" width="7.20" height="7.20" fill="#f2666a"/><rect x="95.10" y="478.74" width="7.20" height="7.20" fill="#ed8a90"/><rect x="101.70" y="478.74" width="7.20" height="7.20" fill="#ed989c"/><rect x="108.30" y="478.74" width="7.20" height="7.20" fill="#ee7d83"/><rect x="114.90" y="478.74" width="7.20" height="7.20" fill="#ed9095"/><rect x="121.50" y="478.74" width="7.20" height="7.20" fill="#ebaaae"/><rect x="128.10" y="478.74" width="20.40" height="7.20" fill="#eca5a9"/><rect x="147.90" y="478.74" width="13.80" height="7.20" fill="#ebaaae"/><rect x="161.10" y="478.74" width="7.20" height="7.20" fill="#ebb2b6"/><rect x="167.70" y="478.74" width="7.20" height="7.20" fill="#ecbabd"/><rect x="174.30" y="478.74" width="7.20" height="7.20" fill="#ebb2b6"/><rect x="180.90" y="478.74" width="13.80" height="7.20" fill="#eca0a4"/><rect x="194.10" y="478.74" width="7.20" height="7.20" fill="#eca5a9"/><rect x="200.70" y="478.74" width="20.40" height="7.20" fill="#ebb2b6"/><rect x="220.50" y="478.74" width="7.20" height="7.20" fill="#ebaaae"/><rect x="227.10" y="478.74" width="7.20" height="7.20" fill="#eca5a9"/><rect x="233.70" y="478.74" width="7.20" height="7.20" fill="#ebaaae"/><rect x="240.30" y="478.74" width="7.20" height="7.20" fill="#ecbabd"/><rect x="246.90" y="478.74" width="7.20" height="7.20" fill="#edcbce"/><rect x="253.50" y="478.74" width="7.20" height="7.20" fill="#ecbfc2"/><rect x="260.10" y="478.74" width="13.80" height="7.20" fill="#edc4c7"/><rect x="273.30" y="478.74" width="7.20" height="7.20" fill="#ecbabd"/><rect x="279.90" y="478.74" width="27.00" height="7.20" fill="#ebb2b6"/><rect x="306.30" y="478.74" width="7.20" height="7.20" fill="#eca5a9"/><rect x="312.90" y="478.74" width="6.60" height="7.20" fill="#ecbfc2"/><rect x="29.10" y="485.34" width="7.20" height="7.20" fill="#d1e3f2"/><rect x="35.70" y="485.34" width="7.20" height="7.20" fill="#b5d7f4"/><rect x="42.30" y="485.34" width="7.20" height="7.20" fill="#d1e3f2"/><rect x="48.90" y="485.34" width="46.80" height="7.20" fill="#e0eaf2"/><rect x="95.10" y="485.34" width="7.20" height="7.20" fill="#e6ecf1"/><rect x="101.70" y="485.34" width="20.40" height="7.20" fill="#f1f1f1"/><rect x="121.50" y="485.34" width="13.80" height="7.20" fill="#f0e9ea"/><rect x="134.70" y="485.34" width="7.20" height="7.20" fill="#f1f1f1"/><rect x="141.30" y="485.34" width="20.40" height="7.20" fill="#ebeef1"/><rect x="161.10" y="485.34" width="13.80" height="7.20" fill="#e6ecf1"/><rect x="174.30" y="485.34" width="20.40" height="7.20" fill="#e4ebf1"/><rect x="194.10" y="485.34" width="13.80" height="7.20" fill="#e0eaf2"/><rect x="207.30" y="485.34" width="7.20" height="7.20" fill="#dbe8f2"/><rect x="213.90" y="485.34" width="33.60" height="7.20" fill="#e0eaf2"/><rect x="246.90" y="485.34" width="13.80" height="7.20" fill="#e4ebf1"/><rect x="260.10" y="485.34" width="13.80" height="7.20" fill="#e6ecf1"/><rect x="273.30" y="485.34" width="7.20" height="7.20" fill="#e4ebf1"/><rect x="279.90" y="485.34" width="7.20" height="7.20" fill="#ebeef1"/><rect x="286.50" y="485.34" width="13.80" height="7.20" fill="#f1f1f1"/><rect x="299.70" y="485.34" width="19.80" height="7.20" fill="#edeff1"/><rect x="29.10" y="491.93" width="7.20" height="7.20" fill="#91c4f7"/><rect x="35.70" y="491.93" width="7.20" height="7.20" fill="#dbe8f2"/><rect x="42.30" y="491.93" width="7.20" height="7.20" fill="#f1ecec"/><rect x="48.90" y="491.93" width="7.20" height="7.20" fill="#f0e4e5"/><rect x="55.50" y="491.93" width="7.20" height="7.20" fill="#f1ecec"/><rect x="62.10" y="491.93" width="7.20" height="7.20" fill="#f1f1f1"/><rect x="68.70" y="491.93" width="7.20" height="7.20" fill="#edeff1"/><rect x="75.30" y="491.93" width="7.20" height="7.20" fill="#f1f1f1"/><rect x="81.90" y="491.93" width="7.20" height="7.20" fill="#f1ecec"/><rect x="88.50" y="491.93" width="7.20" height="7.20" fill="#edeff1"/><rect x="95.10" y="491.93" width="13.80" height="7.20" fill="#e6ecf1"/><rect x="108.30" y="491.93" width="7.20" height="7.20" fill="#f0e2e3"/><rect x="114.90" y="491.93" width="7.20" height="7.20" fill="#ebeef1"/><rect x="121.50" y="491.93" width="20.40" height="7.20" fill="#e4ebf1"/><rect x="141.30" y="491.93" width="7.20" height="7.20" fill="#ebeef1"/><rect x="147.90" y="491.93" width="13.80" height="7.20" fill="#f1f1f1"/><rect x="161.10" y="491.93" width="13.80" height="7.20" fill="#f0e9ea"/><rect x="174.30" y="491.93" width="7.20" height="7.20" fill="#efddde"/><rect x="180.90" y="491.93" width="7.20" height="7.20" fill="#efd8d9"/><rect x="187.50" y="491.93" width="7.20" height="7.20" fill="#f0e2e3"/><rect x="194.10" y="491.93" width="7.20" height="7.20" fill="#efddde"/><rect x="200.70" y="491.93" width="7.20" height="7.20" fill="#efd8d9"/><rect x="207.30" y="491.93" width="7.20" height="7.20" fill="#ecbabd"/><rect x="213.90" y="491.93" width="13.80" height="7.20" fill="#ecbfc2"/><rect x="227.10" y="491.93" width="7.20" height="7.20" fill="#eed3d5"/><rect x="233.70" y="491.93" width="7.20" height="7.20" fill="#efd8d9"/><rect x="240.30" y="491.93" width="7.20" height="7.20" fill="#efddde"/><rect x="246.90" y="491.93" width="7.20" height="7.20" fill="#efd8d9"/><rect x="253.50" y="491.93" width="7.20" height="7.20" fill="#eed3d5"/><rect x="260.10" y="491.93" width="53.40" height="7.20" fill="#edcbce"/><rect x="312.90" y="491.93" width="6.60" height="7.20" fill="#ecbabd"/><rect x="29.10" y="498.53" width="7.20" height="7.20" fill="#dbe8f2"/><rect x="35.70" y="498.53" width="13.80" height="7.20" fill="#e0eaf2"/><rect x="48.90" y="498.53" width="7.20" height="7.20" fill="#ebeef1"/><rect x="55.50" y="498.53" width="7.20" height="7.20" fill="#efd8d9"/><rect x="62.10" y="498.53" width="13.80" height="7.20" fill="#edcbce"/><rect x="75.30" y="498.53" width="7.20" height="7.20" fill="#edc4c7"/><rect x="81.90" y="498.53" width="13.80" height="7.20" fill="#ecbfc2"/><rect x="95.10" y="498.53" width="7.20" height="7.20" fill="#edcbce"/><rect x="101.70" y="498.53" width="20.40" height="7.20" fill="#eed3d5"/><rect x="121.50" y="498.53" width="13.80" height="7.20" fill="#efd8d9"/><rect x="134.70" y="498.53" width="7.20" height="7.20" fill="#f0e4e5"/><rect x="141.30" y="498.53" width="13.80" height="7.20" fill="#efd8d9"/><rect x="154.50" y="498.53" width="7.20" height="7.20" fill="#efddde"/><rect x="161.10" y="498.53" width="13.80" height="7.20" fill="#efd8d9"/><rect x="174.30" y="498.53" width="13.80" height="7.20" fill="#efddde"/><rect x="187.50" y="498.53" width="13.80" height="7.20" fill="#eed3d5"/><rect x="200.70" y="498.53" width="7.20" height="7.20" fill="#efd8d9"/><rect x="207.30" y="498.53" width="7.20" height="7.20" fill="#efddde"/><rect x="213.90" y="498.53" width="27.00" height="7.20" fill="#eed3d5"/><rect x="240.30" y="498.53" width="27.00" height="7.20" fill="#efddde"/><rect x="266.70" y="498.53" width="7.20" height="7.20" fill="#f0e2e3"/><rect x="273.30" y="498.53" width="27.00" height="7.20" fill="#eed3d5"/><rect x="299.70" y="498.53" width="7.20" height="7.20" fill="#edcbce"/><rect x="306.30" y="498.53" width="13.20" height="7.20" fill="#eed3d5"/><rect x="29.10" y="505.13" width="7.20" height="7.20" fill="#dbe8f2"/><rect x="35.70" y="505.13" width="7.20" height="7.20" fill="#e0eaf2"/><rect x="42.30" y="505.13" width="7.20" height="7.20" fill="#f1f1f1"/><rect x="48.90" y="505.13" width="13.80" height="7.20" fill="#f0e4e5"/><rect x="62.10" y="505.13" width="7.20" height="7.20" fill="#f1f1f1"/><rect x="68.70" y="505.13" width="20.40" height="7.20" fill="#e6ecf1"/><rect x="88.50" y="505.13" width="7.20" height="7.20" fill="#e0eaf2"/><rect x="95.10" y="505.13" width="7.20" height="7.20" fill="#dbe8f2"/><rect x="101.70" y="505.13" width="7.20" height="7.20" fill="#d1e3f2"/><rect x="108.30" y="505.13" width="13.80" height="7.20" fill="#dbe8f2"/><rect x="121.50" y="505.13" width="13.80" height="7.20" fill="#e0eaf2"/><rect x="134.70" y="505.13" width="7.20" height="7.20" fill="#dbe8f2"/><rect x="141.30" y="505.13" width="7.20" height="7.20" fill="#e6ecf1"/><rect x="147.90" y="505.13" width="7.20" height="7.20" fill="#ebeef1"/><rect x="154.50" y="505.13" width="13.80" height="7.20" fill="#f1f1f1"/><rect x="167.70" y="505.13" width="7.20" height="7.20" fill="#f0e4e5"/><rect x="174.30" y="505.13" width="7.20" height="7.20" fill="#f0e2e3"/><rect x="180.90" y="505.13" width="7.20" height="7.20" fill="#f0e4e5"/><rect x="187.50" y="505.13" width="7.20" height="7.20" fill="#f1ecec"/><rect x="194.10" y="505.13" width="7.20" height="7.20" fill="#f1f1f1"/><rect x="200.70" y="505.13" width="7.20" height="7.20" fill="#f1ecec"/><rect x="207.30" y="505.13" width="7.20" height="7.20" fill="#f0e2e3"/><rect x="213.90" y="505.13" width="7.20" height="7.20" fill="#efddde"/><rect x="220.50" y="505.13" width="13.80" height="7.20" fill="#f0e9ea"/><rect x="233.70" y="505.13" width="7.20" height="7.20" fill="#f0e4e5"/><rect x="240.30" y="505.13" width="7.20" height="7.20" fill="#f0e9ea"/><rect x="246.90" y="505.13" width="20.40" height="7.20" fill="#f0e4e5"/><rect x="266.70" y="505.13" width="7.20" height="7.20" fill="#f0e2e3"/><rect x="273.30" y="505.13" width="13.80" height="7.20" fill="#f0e9ea"/><rect x="286.50" y="505.13" width="20.40" height="7.20" fill="#f0e2e3"/><rect x="306.30" y="505.13" width="13.20" height="7.20" fill="#efddde"/><rect x="29.10" y="511.73" width="7.20" height="7.20" fill="#edeff1"/><rect x="35.70" y="511.73" width="7.20" height="7.20" fill="#f1f1f1"/><rect x="42.30" y="511.73" width="7.20" height="7.20" fill="#ecbfc2"/><rect x="48.90" y="511.73" width="27.00" height="7.20" fill="#eca5a9"/><rect x="75.30" y="511.73" width="20.40" height="7.20" fill="#ed989c"/><rect x="95.10" y="511.73" width="7.20" height="7.20" fill="#ebb2b6"/><rect x="101.70" y="511.73" width="7.20" height="7.20" fill="#edc4c7"/><rect x="108.30" y="511.73" width="7.20" height="7.20" fill="#ecbabd"/><rect x="114.90" y="511.73" width="7.20" height="7.20" fill="#ecbfc2"/><rect x="121.50" y="511.73" width="40.20" height="7.20" fill="#eed3d5"/><rect x="161.10" y="511.73" width="7.20" height="7.20" fill="#edcbce"/><rect x="167.70" y="511.73" width="13.80" height="7.20" fill="#eed3d5"/><rect x="180.90" y="511.73" width="20.40" height="7.20" fill="#edc4c7"/><rect x="200.70" y="511.73" width="13.80" height="7.20" fill="#edcbce"/><rect x="213.90" y="511.73" width="7.20" height="7.20" fill="#efd8d9"/><rect x="220.50" y="511.73" width="7.20" height="7.20" fill="#eed3d5"/><rect x="227.10" y="511.73" width="13.80" height="7.20" fill="#edcbce"/><rect x="240.30" y="511.73" width="7.20" height="7.20" fill="#efd8d9"/><rect x="246.90" y="511.73" width="7.20" height="7.20" fill="#f0e4e5"/><rect x="253.50" y="511.73" width="13.80" height="7.20" fill="#eed3d5"/><rect x="266.70" y="511.73" width="7.20" height="7.20" fill="#f0e4e5"/><rect x="273.30" y="511.73" width="40.20" height="7.20" fill="#edcbce"/><rect x="312.90" y="511.73" width="6.60" height="7.20" fill="#efd8d9"/><rect x="29.10" y="518.32" width="13.80" height="7.20" fill="#d1e3f2"/><rect x="42.30" y="518.32" width="7.20" height="7.20" fill="#e0eaf2"/><rect x="48.90" y="518.32" width="7.20" height="7.20" fill="#f1f1f1"/><rect x="55.50" y="518.32" width="7.20" height="7.20" fill="#e6ecf1"/><rect x="62.10" y="518.32" width="13.80" height="7.20" fill="#ebeef1"/><rect x="75.30" y="518.32" width="27.00" height="7.20" fill="#e0eaf2"/><rect x="101.70" y="518.32" width="20.40" height="7.20" fill="#d7e6f2"/><rect x="121.50" y="518.32" width="20.40" height="7.20" fill="#e0eaf2"/><rect x="141.30" y="518.32" width="7.20" height="7.20" fill="#e4ebf1"/><rect x="147.90" y="518.32" width="7.20" height="7.20" fill="#ebeef1"/><rect x="154.50" y="518.32" width="7.20" height="7.20" fill="#edeff1"/><rect x="161.10" y="518.32" width="7.20" height="7.20" fill="#f1f1f1"/><rect x="167.70" y="518.32" width="7.20" height="7.20" fill="#f1ecec"/><rect x="174.30" y="518.32" width="20.40" height="7.20" fill="#f0e9ea"/><rect x="194.10" y="518.32" width="13.80" height="7.20" fill="#f1f1f1"/><rect x="207.30" y="518.32" width="7.20" height="7.20" fill="#f0e4e5"/><rect x="213.90" y="518.32" width="7.20" height="7.20" fill="#efddde"/><rect x="220.50" y="518.32" width="7.20" height="7.20" fill="#f0e4e5"/><rect x="227.10" y="518.32" width="7.20" height="7.20" fill="#f0e9ea"/><rect x="233.70" y="518.32" width="46.80" height="7.20" fill="#f0e4e5"/><rect x="279.90" y="518.32" width="7.20" height="7.20" fill="#f0e9ea"/><rect x="286.50" y="518.32" width="33.00" height="7.20" fill="#f0e4e5"/><rect x="29.10" y="524.92" width="13.80" height="7.20" fill="#bbdaf3"/><rect x="42.30" y="524.92" width="7.20" height="7.20" fill="#c6dff3"/><rect x="48.90" y="524.92" width="20.40" height="7.20" fill="#d1e3f2"/><rect x="68.70" y="524.92" width="20.40" height="7.20" fill="#d7e6f2"/><rect x="88.50" y="524.92" width="20.40" height="7.20" fill="#dbe8f2"/><rect x="108.30" y="524.92" width="20.40" height="7.20" fill="#e4ebf1"/><rect x="128.10" y="524.92" width="7.20" height="7.20" fill="#d7e6f2"/><rect x="134.70" y="524.92" width="27.00" height="7.20" fill="#d1e3f2"/><rect x="161.10" y="524.92" width="7.20" height="7.20" fill="#dbe8f2"/><rect x="167.70" y="524.92" width="13.80" height="7.20" fill="#d7e6f2"/><rect x="180.90" y="524.92" width="20.40" height="7.20" fill="#e0eaf2"/><rect x="200.70" y="524.92" width="7.20" height="7.20" fill="#e4ebf1"/><rect x="207.30" y="524.92" width="93.00" height="7.20" fill="#e6ecf1"/><rect x="299.70" y="524.92" width="13.80" height="7.20" fill="#e4ebf1"/><rect x="312.90" y="524.92" width="6.60" height="7.20" fill="#e6ecf1"/><rect x="29.10" y="531.52" width="13.80" height="7.20" fill="#bbdaf3"/><rect x="42.30" y="531.52" width="7.20" height="7.20" fill="#c6dff3"/><rect x="48.90" y="531.52" width="20.40" height="7.20" fill="#d1e3f2"/><rect x="68.70" y="531.52" width="7.20" height="7.20" fill="#d7e6f2"/><rect x="75.30" y="531.52" width="20.40" height="7.20" fill="#dbe8f2"/><rect x="95.10" y="531.52" width="7.20" height="7.20" fill="#e0eaf2"/><rect x="101.70" y="531.52" width="7.20" height="7.20" fill="#e4ebf1"/><rect x="108.30" y="531.52" width="13.80" height="7.20" fill="#e6ecf1"/><rect x="121.50" y="531.52" width="13.80" height="7.20" fill="#e0eaf2"/><rect x="134.70" y="531.52" width="27.00" height="7.20" fill="#dbe8f2"/><rect x="161.10" y="531.52" width="7.20" height="7.20" fill="#e0eaf2"/><rect x="167.70" y="531.52" width="7.20" height="7.20" fill="#dbe8f2"/><rect x="174.30" y="531.52" width="7.20" height="7.20" fill="#e0eaf2"/><rect x="180.90" y="531.52" width="27.00" height="7.20" fill="#e4ebf1"/><rect x="207.30" y="531.52" width="40.20" height="7.20" fill="#e6ecf1"/><rect x="246.90" y="531.52" width="72.60" height="7.20" fill="#ebeef1"/><rect x="29.10" y="538.12" width="7.20" height="7.20" fill="#dbe8f2"/><rect x="35.70" y="538.12" width="13.80" height="7.20" fill="#e0eaf2"/><rect x="48.90" y="538.12" width="7.20" height="7.20" fill="#f1ecec"/><rect x="55.50" y="538.12" width="7.20" height="7.20" fill="#f0e4e5"/><rect x="62.10" y="538.12" width="7.20" height="7.20" fill="#efddde"/><rect x="68.70" y="538.12" width="20.40" height="7.20" fill="#efd8d9"/><rect x="88.50" y="538.12" width="7.20" height="7.20" fill="#eed3d5"/><rect x="95.10" y="538.12" width="7.20" height="7.20" fill="#efddde"/><rect x="101.70" y="538.12" width="13.80" height="7.20" fill="#f0e4e5"/><rect x="114.90" y="538.12" width="7.20" height="7.20" fill="#f0e2e3"/><rect x="121.50" y="538.12" width="13.80" height="7.20" fill="#f0e4e5"/><rect x="134.70" y="538.12" width="7.20" height="7.20" fill="#f1ecec"/><rect x="141.30" y="538.12" width="46.80" height="7.20" fill="#f1f1f1"/><rect x="187.50" y="538.12" width="13.80" height="7.20" fill="#f1ecec"/><rect x="200.70" y="538.12" width="7.20" height="7.20" fill="#f1f1f1"/><rect x="207.30" y="538.12" width="7.20" height="7.20" fill="#f1ecec"/><rect x="213.90" y="538.12" width="13.80" height="7.20" fill="#f1f1f1"/><rect x="227.10" y="538.12" width="13.80" height="7.20" fill="#f1ecec"/><rect x="240.30" y="538.12" width="40.20" height="7.20" fill="#f1f1f1"/><rect x="279.90" y="538.12" width="7.20" height="7.20" fill="#f1ecec"/><rect x="286.50" y="538.12" width="20.40" height="7.20" fill="#f0e9ea"/><rect x="306.30" y="538.12" width="7.20" height="7.20" fill="#f0e4e5"/><rect x="312.90" y="538.12" width="6.60" height="7.20" fill="#f0e9ea"/><rect x="29.10" y="544.72" width="7.20" height="7.20" fill="#dbe8f2"/><rect x="35.70" y="544.72" width="7.20" height="7.20" fill="#e0eaf2"/><rect x="42.30" y="544.72" width="7.20" height="7.20" fill="#e4ebf1"/><rect x="48.90" y="544.72" width="7.20" height="7.20" fill="#edeff1"/><rect x="55.50" y="544.72" width="7.20" height="7.20" fill="#f1f1f1"/><rect x="62.10" y="544.72" width="7.20" height="7.20" fill="#f1ecec"/><rect x="68.70" y="544.72" width="13.80" height="7.20" fill="#f0e9ea"/><rect x="81.90" y="544.72" width="13.80" height="7.20" fill="#f0e4e5"/><rect x="95.10" y="544.72" width="7.20" height="7.20" fill="#f0e9ea"/><rect x="101.70" y="544.72" width="7.20" height="7.20" fill="#f1ecec"/><rect x="108.30" y="544.72" width="27.00" height="7.20" fill="#f1f1f1"/><rect x="134.70" y="544.72" width="7.20" height="7.20" fill="#ebeef1"/><rect x="141.30" y="544.72" width="7.20" height="7.20" fill="#e6ecf1"/><rect x="147.90" y="544.72" width="40.20" height="7.20" fill="#ebeef1"/><rect x="187.50" y="544.72" width="7.20" height="7.20" fill="#e6ecf1"/><rect x="194.10" y="544.72" width="20.40" height="7.20" fill="#ebeef1"/><rect x="213.90" y="544.72" width="13.80" height="7.20" fill="#edeff1"/><rect x="227.10" y="544.72" width="27.00" height="7.20" fill="#ebeef1"/><rect x="253.50" y="544.72" width="7.20" height="7.20" fill="#edeff1"/><rect x="260.10" y="544.72" width="13.80" height="7.20" fill="#ebeef1"/><rect x="273.30" y="544.72" width="13.80" height="7.20" fill="#edeff1"/><rect x="286.50" y="544.72" width="13.80" height="7.20" fill="#f1f1f1"/><rect x="299.70" y="544.72" width="13.80" height="7.20" fill="#f1ecec"/><rect x="312.90" y="544.72" width="6.60" height="7.20" fill="#f1f1f1"/><rect x="29.10" y="551.31" width="7.20" height="7.20" fill="#edeff1"/><rect x="35.70" y="551.31" width="7.20" height="7.20" fill="#ebeef1"/><rect x="42.30" y="551.31" width="7.20" height="7.20" fill="#f1f1f1"/><rect x="48.90" y="551.31" width="7.20" height="7.20" fill="#edc4c7"/><rect x="55.50" y="551.31" width="7.20" height="7.20" fill="#eca0a4"/><rect x="62.10" y="551.31" width="7.20" height="7.20" fill="#ed9095"/><rect x="68.70" y="551.31" width="13.80" height="7.20" fill="#ee7d83"/><rect x="81.90" y="551.31" width="7.20" height="7.20" fill="#ee858a"/><rect x="88.50" y="551.31" width="7.20" height="7.20" fill="#ed8a90"/><rect x="95.10" y="551.31" width="7.20" height="7.20" fill="#ee7d83"/><rect x="101.70" y="551.31" width="13.80" height="7.20" fill="#ee858a"/><rect x="114.90" y="551.31" width="7.20" height="7.20" fill="#ef757b"/><rect x="121.50" y="551.31" width="7.20" height="7.20" fill="#f35f63"/><rect x="128.10" y="551.31" width="7.20" height="7.20" fill="#f45b5f"/><rect x="134.70" y="551.31" width="7.20" height="7.20" fill="#f5575a"/><rect x="141.30" y="551.31" width="7.20" height="7.20" fill="#f75153"/><rect x="147.90" y="551.31" width="7.20" height="7.20" fill="#f84b4c"/><rect x="154.50" y="551.31" width="7.20" height="7.20" fill="#f94648"/><rect x="161.10" y="551.31" width="7.20" height="7.20" fill="#fc3937"/><rect x="167.70" y="551.31" width="7.20" height="7.20" fill="#fd322b"/><rect x="174.30" y="551.31" width="7.20" height="7.20" fill="#fe2c22"/><rect x="180.90" y="551.31" width="13.80" height="7.20" fill="#fe271a"/><rect x="194.10" y="551.31" width="125.40" height="7.20" fill="#ff2211"/><rect x="29.10" y="557.91" width="13.80" height="7.20" fill="#eed3d5"/><rect x="42.30" y="557.91" width="7.20" height="7.20" fill="#edcbce"/><rect x="48.90" y="557.91" width="7.20" height="7.20" fill="#eca0a4"/><rect x="55.50" y="557.91" width="13.80" height="7.20" fill="#f2666a"/><rect x="68.70" y="557.91" width="7.20" height="7.20" fill="#f45b5f"/><rect x="75.30" y="557.91" width="7.20" height="7.20" fill="#f84b4c"/><rect x="81.90" y="557.91" width="7.20" height="7.20" fill="#f94648"/><rect x="88.50" y="557.91" width="7.20" height="7.20" fill="#f75153"/><rect x="95.10" y="557.91" width="13.80" height="7.20" fill="#f94648"/><rect x="108.30" y="557.91" width="13.80" height="7.20" fill="#fa4243"/><rect x="121.50" y="557.91" width="7.20" height="7.20" fill="#fd3733"/><rect x="128.10" y="557.91" width="7.20" height="7.20" fill="#fe271a"/><rect x="134.70" y="557.91" width="7.20" height="7.20" fill="#fe2a1f"/><rect x="141.30" y="557.91" width="7.20" height="7.20" fill="#fe271a"/><rect x="147.90" y="557.91" width="171.60" height="7.20" fill="#ff2211"/><rect x="29.10" y="564.51" width="13.80" height="7.20" fill="#ebeef1"/><rect x="42.30" y="564.51" width="7.20" height="7.20" fill="#edeff1"/><rect x="48.90" y="564.51" width="13.80" height="7.20" fill="#f1ecec"/><rect x="62.10" y="564.51" width="46.80" height="7.20" fill="#f0e4e5"/><rect x="108.30" y="564.51" width="7.20" height="7.20" fill="#efddde"/><rect x="114.90" y="564.51" width="7.20" height="7.20" fill="#eed3d5"/><rect x="121.50" y="564.51" width="20.40" height="7.20" fill="#edcbce"/><rect x="141.30" y="564.51" width="13.80" height="7.20" fill="#edc4c7"/><rect x="154.50" y="564.51" width="7.20" height="7.20" fill="#ecbfc2"/><rect x="161.10" y="564.51" width="7.20" height="7.20" fill="#ecbabd"/><rect x="167.70" y="564.51" width="20.40" height="7.20" fill="#ebb2b6"/><rect x="187.50" y="564.51" width="13.80" height="7.20" fill="#ebaaae"/><rect x="200.70" y="564.51" width="7.20" height="7.20" fill="#eca0a4"/><rect x="207.30" y="564.51" width="27.00" height="7.20" fill="#ed989c"/><rect x="233.70" y="564.51" width="7.20" height="7.20" fill="#ed8a90"/><rect x="240.30" y="564.51" width="7.20" height="7.20" fill="#ed9095"/><rect x="246.90" y="564.51" width="13.80" height="7.20" fill="#ee7d83"/><rect x="260.10" y="564.51" width="13.80" height="7.20" fill="#ef757b"/><rect x="273.30" y="564.51" width="7.20" height="7.20" fill="#ef7076"/><rect x="279.90" y="564.51" width="13.80" height="7.20" fill="#f2666a"/><rect x="293.10" y="564.51" width="7.20" height="7.20" fill="#f35f63"/><rect x="299.70" y="564.51" width="7.20" height="7.20" fill="#f45b5f"/><rect x="306.30" y="564.51" width="7.20" height="7.20" fill="#f75153"/><rect x="312.90" y="564.51" width="6.60" height="7.20" fill="#f94648"/><rect x="29.10" y="571.11" width="7.20" height="7.20" fill="#e0eaf2"/><rect x="35.70" y="571.11" width="7.20" height="7.20" fill="#e4ebf1"/><rect x="42.30" y="571.11" width="7.20" height="7.20" fill="#ebeef1"/><rect x="48.90" y="571.11" width="7.20" height="7.20" fill="#f1ecec"/><rect x="55.50" y="571.11" width="7.20" height="7.20" fill="#efddde"/><rect x="62.10" y="571.11" width="20.40" height="7.20" fill="#efd8d9"/><rect x="81.90" y="571.11" width="13.80" height="7.20" fill="#eed3d5"/><rect x="95.10" y="571.11" width="7.20" height="7.20" fill="#efd8d9"/><rect x="101.70" y="571.11" width="20.40" height="7.20" fill="#efddde"/><rect x="121.50" y="571.11" width="7.20" height="7.20" fill="#efd8d9"/><rect x="128.10" y="571.11" width="7.20" height="7.20" fill="#efddde"/><rect x="134.70" y="571.11" width="46.80" height="7.20" fill="#f0e4e5"/><rect x="180.90" y="571.11" width="33.60" height="7.20" fill="#f0e9ea"/><rect x="213.90" y="571.11" width="33.60" height="7.20" fill="#f0e4e5"/><rect x="246.90" y="571.11" width="40.20" height="7.20" fill="#efddde"/><rect x="286.50" y="571.11" width="13.80" height="7.20" fill="#efd8d9"/><rect x="299.70" y="571.11" width="19.80" height="7.20" fill="#eed3d5"/><rect x="29.10" y="577.71" width="7.20" height="7.20" fill="#d7e6f2"/><rect x="35.70" y="577.71" width="13.80" height="7.20" fill="#dbe8f2"/><rect x="48.90" y="577.71" width="7.20" height="7.20" fill="#e6ecf1"/><rect x="55.50" y="577.71" width="7.20" height="7.20" fill="#f1f1f1"/><rect x="62.10" y="577.71" width="27.00" height="7.20" fill="#f0e4e5"/><rect x="88.50" y="577.71" width="13.80" height="7.20" fill="#f0e2e3"/><rect x="101.70" y="577.71" width="13.80" height="7.20" fill="#f0e4e5"/><rect x="114.90" y="577.71" width="13.80" height="7.20" fill="#f0e2e3"/><rect x="128.10" y="577.71" width="40.20" height="7.20" fill="#efddde"/><rect x="167.70" y="577.71" width="33.60" height="7.20" fill="#efd8d9"/><rect x="200.70" y="577.71" width="20.40" height="7.20" fill="#eed3d5"/><rect x="220.50" y="577.71" width="13.80" height="7.20" fill="#edcbce"/><rect x="233.70" y="577.71" width="7.20" height="7.20" fill="#edc4c7"/><rect x="240.30" y="577.71" width="7.20" height="7.20" fill="#edcbce"/><rect x="246.90" y="577.71" width="13.80" height="7.20" fill="#edc4c7"/><rect x="260.10" y="577.71" width="13.80" height="7.20" fill="#ecbfc2"/><rect x="273.30" y="577.71" width="7.20" height="7.20" fill="#ecbabd"/><rect x="279.90" y="577.71" width="7.20" height="7.20" fill="#ebb2b6"/><rect x="286.50" y="577.71" width="13.80" height="7.20" fill="#ebaaae"/><rect x="299.70" y="577.71" width="7.20" height="7.20" fill="#eca0a4"/><rect x="306.30" y="577.71" width="13.20" height="7.20" fill="#ed989c"/><rect x="29.10" y="584.30" width="20.40" height="7.20" fill="#d1e3f2"/><rect x="48.90" y="584.30" width="7.20" height="7.20" fill="#b1d4f4"/><rect x="55.50" y="584.30" width="7.20" height="7.20" fill="#e6ecf1"/><rect x="62.10" y="584.30" width="7.20" height="7.20" fill="#edeff1"/><rect x="68.70" y="584.30" width="13.80" height="7.20" fill="#f1f1f1"/><rect x="81.90" y="584.30" width="20.40" height="7.20" fill="#edeff1"/><rect x="101.70" y="584.30" width="46.80" height="7.20" fill="#f1f1f1"/><rect x="147.90" y="584.30" width="20.40" height="7.20" fill="#ebeef1"/><rect x="167.70" y="584.30" width="13.80" height="7.20" fill="#f1f1f1"/><rect x="180.90" y="584.30" width="27.00" height="7.20" fill="#edeff1"/><rect x="207.30" y="584.30" width="7.20" height="7.20" fill="#f1f1f1"/><rect x="213.90" y="584.30" width="13.80" height="7.20" fill="#f1ecec"/><rect x="227.10" y="584.30" width="7.20" height="7.20" fill="#f0e9ea"/><rect x="233.70" y="584.30" width="33.60" height="7.20" fill="#f0e4e5"/><rect x="266.70" y="584.30" width="13.80" height="7.20" fill="#efddde"/><rect x="279.90" y="584.30" width="7.20" height="7.20" fill="#efd8d9"/><rect x="286.50" y="584.30" width="13.80" height="7.20" fill="#eed3d5"/><rect x="299.70" y="584.30" width="7.20" height="7.20" fill="#edcbce"/><rect x="306.30" y="584.30" width="13.20" height="7.20" fill="#edc4c7"/><rect x="29.10" y="590.90" width="7.20" height="6.60" fill="#d1e3f2"/><rect x="35.70" y="590.90" width="13.80" height="6.60" fill="#cae0f2"/><rect x="48.90" y="590.90" width="7.20" height="6.60" fill="#dbe8f2"/><rect x="55.50" y="590.90" width="7.20" height="6.60" fill="#e4ebf1"/><rect x="62.10" y="590.90" width="7.20" height="6.60" fill="#ebeef1"/><rect x="68.70" y="590.90" width="7.20" height="6.60" fill="#edeff1"/><rect x="75.30" y="590.90" width="7.20" height="6.60" fill="#f1f1f1"/><rect x="81.90" y="590.90" width="20.40" height="6.60" fill="#edeff1"/><rect x="101.70" y="590.90" width="13.80" height="6.60" fill="#f1f1f1"/><rect x="114.90" y="590.90" width="20.40" height="6.60" fill="#f1ecec"/><rect x="134.70" y="590.90" width="7.20" height="6.60" fill="#f0e9ea"/><rect x="141.30" y="590.90" width="73.20" height="6.60" fill="#f0e4e5"/><rect x="213.90" y="590.90" width="20.40" height="6.60" fill="#efddde"/><rect x="233.70" y="590.90" width="13.80" height="6.60" fill="#efd8d9"/><rect x="246.90" y="590.90" width="13.80" height="6.60" fill="#eed3d5"/><rect x="260.10" y="590.90" width="20.40" height="6.60" fill="#edcbce"/><rect x="279.90" y="590.90" width="13.80" height="6.60" fill="#ecbfc2"/><rect x="293.10" y="590.90" width="7.20" height="6.60" fill="#ecbabd"/><rect x="299.70" y="590.90" width="7.20" height="6.60" fill="#ebb2b6"/><rect x="306.30" y="590.90" width="13.20" height="6.60" fill="#ebaaae"/></g><path d="M29.10 442.45h-1.6M29.10 449.05h-1.6M29.10 455.64h-1.6M29.10 462.24h-1.6M29.10 468.84h-1.6M29.10 475.44h-1.6M29.10 482.04h-1.6M29.10 488.63h-1.6M29.10 495.23h-1.6M29.10 501.83h-1.6M29.10 508.43h-1.6M29.10 515.03h-1.6M29.10 521.62h-1.6M29.10 528.22h-1.6M29.10 534.82h-1.6M29.10 541.42h-1.6M29.10 548.02h-1.6M29.10 554.61h-1.6M29.10 561.21h-1.6M29.10 567.81h-1.6M29.10 574.41h-1.6M29.10 581.01h-1.6M29.10 587.60h-1.6M29.10 594.20h-1.6M32.40 597.50v2.0M45.60 597.50v2.0M58.80 597.50v2.0M72.00 597.50v2.0M85.20 597.50v2.0M98.40 597.50v2.0M111.60 597.50v2.0M124.80 597.50v2.0M138.00 597.50v2.0M151.20 597.50v2.0M164.40 597.50v2.0M177.60 597.50v2.0M190.80 597.50v2.0M204.00 597.50v2.0M217.20 597.50v2.0M230.40 597.50v2.0M243.60 597.50v2.0M256.80 597.50v2.0M270.00 597.50v2.0M283.20 597.50v2.0M296.40 597.50v2.0M309.60 597.50v2.0" stroke="#111" stroke-width="1.0" fill="none" shape-rendering="auto"/><g font-size="7.3"><text x="24.20" y="444.55" text-anchor="end">WJ</text><text x="24.20" y="451.15" text-anchor="end">HM</text><text x="24.20" y="457.74" text-anchor="end">SHC</text><text x="24.20" y="464.34" text-anchor="end">LS</text><text x="24.20" y="470.94" text-anchor="end">LC</text><text x="24.20" y="477.54" text-anchor="end">PL</text><text x="24.20" y="484.14" text-anchor="end">YW</text><text x="24.20" y="490.73" text-anchor="end">ZP</text><text x="24.20" y="497.33" text-anchor="end">HY</text><text x="24.20" y="503.93" text-anchor="end">SC</text><text x="24.20" y="510.53" text-anchor="end">LX</text><text x="24.20" y="517.13" text-anchor="end">RS</text><text x="24.20" y="523.72" text-anchor="end">BL</text><text x="24.20" y="530.32" text-anchor="end">FLX</text><text x="24.20" y="536.92" text-anchor="end">SJ</text><text x="24.20" y="543.52" text-anchor="end">LZh</text><text x="24.20" y="550.12" text-anchor="end">XZ</text><text x="24.20" y="556.71" text-anchor="end">NN</text><text x="24.20" y="563.31" text-anchor="end">GG</text><text x="24.20" y="569.91" text-anchor="end">QJ</text><text x="24.20" y="576.51" text-anchor="end">WX</text><text x="24.20" y="583.11" text-anchor="end">DHJK</text><text x="24.20" y="589.70" text-anchor="end">WZ</text><text x="24.20" y="596.30" text-anchor="end">GY</text></g><g font-size="9.4"><text x="32.40" y="609.20" text-anchor="middle">1</text><text x="45.60" y="609.20" text-anchor="middle">3</text><text x="58.80" y="609.20" text-anchor="middle">5</text><text x="72.00" y="609.20" text-anchor="middle">7</text><text x="85.20" y="609.20" text-anchor="middle">9</text><text x="98.40" y="609.20" text-anchor="middle">11</text><text x="111.60" y="609.20" text-anchor="middle">13</text><text x="124.80" y="609.20" text-anchor="middle">15</text><text x="138.00" y="609.20" text-anchor="middle">17</text><text x="151.20" y="609.20" text-anchor="middle">19</text><text x="164.40" y="609.20" text-anchor="middle">21</text><text x="177.60" y="609.20" text-anchor="middle">23</text><text x="190.80" y="609.20" text-anchor="middle">25</text><text x="204.00" y="609.20" text-anchor="middle">27</text><text x="217.20" y="609.20" text-anchor="middle">29</text><text x="230.40" y="609.20" text-anchor="middle">31</text><text x="243.60" y="609.20" text-anchor="middle">33</text><text x="256.80" y="609.20" text-anchor="middle">35</text><text x="270.00" y="609.20" text-anchor="middle">37</text><text x="283.20" y="609.20" text-anchor="middle">39</text><text x="296.40" y="609.20" text-anchor="middle">41</text><text x="309.60" y="609.20" text-anchor="middle">43</text></g><text x="174.30" y="621.70" text-anchor="middle" font-size="9.6">Lead days</text><text x="174.30" y="433.25" text-anchor="middle" font-size="13.8">E2-DRIVE</text><text x="0.40" y="434.00" font-size="16.4">(e)</text><g shape-rendering="auto" filter="url(#soft)"><rect x="377.70" y="439.15" width="7.20" height="7.20" fill="#f1f1f1"/><rect x="384.30" y="439.15" width="7.20" height="7.20" fill="#f1ecec"/><rect x="390.90" y="439.15" width="7.20" height="7.20" fill="#f1f1f1"/><rect x="397.50" y="439.15" width="13.80" height="7.20" fill="#f0e9ea"/><rect x="410.70" y="439.15" width="7.20" height="7.20" fill="#f0e4e5"/><rect x="417.30" y="439.15" width="7.20" height="7.20" fill="#efd8d9"/><rect x="423.90" y="439.15" width="13.80" height="7.20" fill="#f0e4e5"/><rect x="437.10" y="439.15" width="13.80" height="7.20" fill="#efddde"/><rect x="450.30" y="439.15" width="13.80" height="7.20" fill="#efd8d9"/><rect x="463.50" y="439.15" width="7.20" height="7.20" fill="#eed3d5"/><rect x="470.10" y="439.15" width="13.80" height="7.20" fill="#efddde"/><rect x="483.30" y="439.15" width="13.80" height="7.20" fill="#efd8d9"/><rect x="496.50" y="439.15" width="20.40" height="7.20" fill="#efddde"/><rect x="516.30" y="439.15" width="7.20" height="7.20" fill="#f0e2e3"/><rect x="522.90" y="439.15" width="13.80" height="7.20" fill="#efddde"/><rect x="536.10" y="439.15" width="7.20" height="7.20" fill="#efd8d9"/><rect x="542.70" y="439.15" width="7.20" height="7.20" fill="#f0e4e5"/><rect x="549.30" y="439.15" width="7.20" height="7.20" fill="#efd8d9"/><rect x="555.90" y="439.15" width="27.00" height="7.20" fill="#efddde"/><rect x="582.30" y="439.15" width="7.20" height="7.20" fill="#efd8d9"/><rect x="588.90" y="439.15" width="20.40" height="7.20" fill="#efddde"/><rect x="608.70" y="439.15" width="13.80" height="7.20" fill="#f0e2e3"/><rect x="621.90" y="439.15" width="7.20" height="7.20" fill="#efddde"/><rect x="628.50" y="439.15" width="7.20" height="7.20" fill="#efd8d9"/><rect x="635.10" y="439.15" width="13.80" height="7.20" fill="#f0e2e3"/><rect x="648.30" y="439.15" width="7.20" height="7.20" fill="#efd8d9"/><rect x="654.90" y="439.15" width="13.20" height="7.20" fill="#efddde"/><rect x="377.70" y="445.75" width="7.20" height="7.20" fill="#f0e4e5"/><rect x="384.30" y="445.75" width="7.20" height="7.20" fill="#edcbce"/><rect x="390.90" y="445.75" width="7.20" height="7.20" fill="#ebb2b6"/><rect x="397.50" y="445.75" width="7.20" height="7.20" fill="#eed3d5"/><rect x="404.10" y="445.75" width="13.80" height="7.20" fill="#f0e9ea"/><rect x="417.30" y="445.75" width="7.20" height="7.20" fill="#cae0f2"/><rect x="423.90" y="445.75" width="7.20" height="7.20" fill="#f1f1f1"/><rect x="430.50" y="445.75" width="7.20" height="7.20" fill="#eed3d5"/><rect x="437.10" y="445.75" width="7.20" height="7.20" fill="#efddde"/><rect x="443.70" y="445.75" width="7.20" height="7.20" fill="#efd8d9"/><rect x="450.30" y="445.75" width="7.20" height="7.20" fill="#eed3d5"/><rect x="456.90" y="445.75" width="33.60" height="7.20" fill="#efd8d9"/><rect x="489.90" y="445.75" width="7.20" height="7.20" fill="#f1ecec"/><rect x="496.50" y="445.75" width="13.80" height="7.20" fill="#edc4c7"/><rect x="509.70" y="445.75" width="7.20" height="7.20" fill="#ecbabd"/><rect x="516.30" y="445.75" width="7.20" height="7.20" fill="#edc4c7"/><rect x="522.90" y="445.75" width="7.20" height="7.20" fill="#ecbabd"/><rect x="529.50" y="445.75" width="13.80" height="7.20" fill="#ecbfc2"/><rect x="542.70" y="445.75" width="7.20" height="7.20" fill="#ecbabd"/><rect x="549.30" y="445.75" width="7.20" height="7.20" fill="#edcbce"/><rect x="555.90" y="445.75" width="13.80" height="7.20" fill="#edc4c7"/><rect x="569.10" y="445.75" width="7.20" height="7.20" fill="#ecbabd"/><rect x="575.70" y="445.75" width="7.20" height="7.20" fill="#edc4c7"/><rect x="582.30" y="445.75" width="7.20" height="7.20" fill="#edcbce"/><rect x="588.90" y="445.75" width="13.80" height="7.20" fill="#ecbabd"/><rect x="602.10" y="445.75" width="20.40" height="7.20" fill="#edc4c7"/><rect x="621.90" y="445.75" width="13.80" height="7.20" fill="#edcbce"/><rect x="635.10" y="445.75" width="13.80" height="7.20" fill="#edc4c7"/><rect x="648.30" y="445.75" width="7.20" height="7.20" fill="#ecbfc2"/><rect x="654.90" y="445.75" width="7.20" height="7.20" fill="#ecbabd"/><rect x="661.50" y="445.75" width="6.60" height="7.20" fill="#ecbfc2"/><rect x="377.70" y="452.35" width="7.20" height="7.20" fill="#efddde"/><rect x="384.30" y="452.35" width="7.20" height="7.20" fill="#eed3d5"/><rect x="390.90" y="452.35" width="7.20" height="7.20" fill="#efddde"/><rect x="397.50" y="452.35" width="20.40" height="7.20" fill="#ecbfc2"/><rect x="417.30" y="452.35" width="20.40" height="7.20" fill="#edcbce"/><rect x="437.10" y="452.35" width="27.00" height="7.20" fill="#ecbfc2"/><rect x="463.50" y="452.35" width="7.20" height="7.20" fill="#edc4c7"/><rect x="470.10" y="452.35" width="7.20" height="7.20" fill="#ecbfc2"/><rect x="476.70" y="452.35" width="7.20" height="7.20" fill="#efd8d9"/><rect x="483.30" y="452.35" width="13.80" height="7.20" fill="#ecbfc2"/><rect x="496.50" y="452.35" width="7.20" height="7.20" fill="#edcbce"/><rect x="503.10" y="452.35" width="13.80" height="7.20" fill="#edc4c7"/><rect x="516.30" y="452.35" width="7.20" height="7.20" fill="#edcbce"/><rect x="522.90" y="452.35" width="7.20" height="7.20" fill="#efd8d9"/><rect x="529.50" y="452.35" width="7.20" height="7.20" fill="#efddde"/><rect x="536.10" y="452.35" width="20.40" height="7.20" fill="#eed3d5"/><rect x="555.90" y="452.35" width="7.20" height="7.20" fill="#efddde"/><rect x="562.50" y="452.35" width="7.20" height="7.20" fill="#eed3d5"/><rect x="569.10" y="452.35" width="7.20" height="7.20" fill="#efddde"/><rect x="575.70" y="452.35" width="20.40" height="7.20" fill="#efd8d9"/><rect x="595.50" y="452.35" width="7.20" height="7.20" fill="#eed3d5"/><rect x="602.10" y="452.35" width="13.80" height="7.20" fill="#efd8d9"/><rect x="615.30" y="452.35" width="13.80" height="7.20" fill="#efddde"/><rect x="628.50" y="452.35" width="7.20" height="7.20" fill="#eed3d5"/><rect x="635.10" y="452.35" width="7.20" height="7.20" fill="#efddde"/><rect x="641.70" y="452.35" width="7.20" height="7.20" fill="#efd8d9"/><rect x="648.30" y="452.35" width="7.20" height="7.20" fill="#eed3d5"/><rect x="654.90" y="452.35" width="7.20" height="7.20" fill="#efd8d9"/><rect x="661.50" y="452.35" width="6.60" height="7.20" fill="#efddde"/><rect x="377.70" y="458.94" width="7.20" height="7.20" fill="#f1f1f1"/><rect x="384.30" y="458.94" width="20.40" height="7.20" fill="#edeff1"/><rect x="404.10" y="458.94" width="7.20" height="7.20" fill="#f0e9ea"/><rect x="410.70" y="458.94" width="20.40" height="7.20" fill="#f0e4e5"/><rect x="430.50" y="458.94" width="13.80" height="7.20" fill="#f0e2e3"/><rect x="443.70" y="458.94" width="7.20" height="7.20" fill="#f0e4e5"/><rect x="450.30" y="458.94" width="13.80" height="7.20" fill="#efddde"/><rect x="463.50" y="458.94" width="7.20" height="7.20" fill="#f0e4e5"/><rect x="470.10" y="458.94" width="13.80" height="7.20" fill="#efd8d9"/><rect x="483.30" y="458.94" width="7.20" height="7.20" fill="#eed3d5"/><rect x="489.90" y="458.94" width="13.80" height="7.20" fill="#efd8d9"/><rect x="503.10" y="458.94" width="7.20" height="7.20" fill="#edcbce"/><rect x="509.70" y="458.94" width="13.80" height="7.20" fill="#eed3d5"/><rect x="522.90" y="458.94" width="27.00" height="7.20" fill="#edcbce"/><rect x="549.30" y="458.94" width="13.80" height="7.20" fill="#eed3d5"/><rect x="562.50" y="458.94" width="7.20" height="7.20" fill="#efd8d9"/><rect x="569.10" y="458.94" width="7.20" height="7.20" fill="#eed3d5"/><rect x="575.70" y="458.94" width="7.20" height="7.20" fill="#edcbce"/><rect x="582.30" y="458.94" width="13.80" height="7.20" fill="#eed3d5"/><rect x="595.50" y="458.94" width="7.20" height="7.20" fill="#edc4c7"/><rect x="602.10" y="458.94" width="7.20" height="7.20" fill="#edcbce"/><rect x="608.70" y="458.94" width="7.20" height="7.20" fill="#eed3d5"/><rect x="615.30" y="458.94" width="13.80" height="7.20" fill="#edcbce"/><rect x="628.50" y="458.94" width="7.20" height="7.20" fill="#eed3d5"/><rect x="635.10" y="458.94" width="7.20" height="7.20" fill="#ecbfc2"/><rect x="641.70" y="458.94" width="7.20" height="7.20" fill="#edcbce"/><rect x="648.30" y="458.94" width="7.20" height="7.20" fill="#eed3d5"/><rect x="654.90" y="458.94" width="13.20" height="7.20" fill="#edcbce"/><rect x="377.70" y="465.54" width="7.20" height="7.20" fill="#eed3d5"/><rect x="384.30" y="465.54" width="7.20" height="7.20" fill="#f1f1f1"/><rect x="390.90" y="465.54" width="7.20" height="7.20" fill="#efd8d9"/><rect x="397.50" y="465.54" width="7.20" height="7.20" fill="#f1ecec"/><rect x="404.10" y="465.54" width="7.20" height="7.20" fill="#ebb2b6"/><rect x="410.70" y="465.54" width="7.20" height="7.20" fill="#ebaaae"/><rect x="417.30" y="465.54" width="7.20" height="7.20" fill="#ed9095"/><rect x="423.90" y="465.54" width="13.80" height="7.20" fill="#eca0a4"/><rect x="437.10" y="465.54" width="7.20" height="7.20" fill="#ed989c"/><rect x="443.70" y="465.54" width="7.20" height="7.20" fill="#eca0a4"/><rect x="450.30" y="465.54" width="7.20" height="7.20" fill="#ebaaae"/><rect x="456.90" y="465.54" width="7.20" height="7.20" fill="#eca0a4"/><rect x="463.50" y="465.54" width="7.20" height="7.20" fill="#ebaaae"/><rect x="470.10" y="465.54" width="13.80" height="7.20" fill="#ebb2b6"/><rect x="483.30" y="465.54" width="7.20" height="7.20" fill="#ebaaae"/><rect x="489.90" y="465.54" width="7.20" height="7.20" fill="#ebb2b6"/><rect x="496.50" y="465.54" width="13.80" height="7.20" fill="#ecbfc2"/><rect x="509.70" y="465.54" width="7.20" height="7.20" fill="#edc4c7"/><rect x="516.30" y="465.54" width="7.20" height="7.20" fill="#edcbce"/><rect x="522.90" y="465.54" width="27.00" height="7.20" fill="#efddde"/><rect x="549.30" y="465.54" width="7.20" height="7.20" fill="#efd8d9"/><rect x="555.90" y="465.54" width="7.20" height="7.20" fill="#edcbce"/><rect x="562.50" y="465.54" width="33.60" height="7.20" fill="#efd8d9"/><rect x="595.50" y="465.54" width="7.20" height="7.20" fill="#eed3d5"/><rect x="602.10" y="465.54" width="7.20" height="7.20" fill="#edc4c7"/><rect x="608.70" y="465.54" width="7.20" height="7.20" fill="#eed3d5"/><rect x="615.30" y="465.54" width="7.20" height="7.20" fill="#edc4c7"/><rect x="621.90" y="465.54" width="7.20" height="7.20" fill="#ecbfc2"/><rect x="628.50" y="465.54" width="7.20" height="7.20" fill="#edc4c7"/><rect x="635.10" y="465.54" width="13.80" height="7.20" fill="#edcbce"/><rect x="648.30" y="465.54" width="7.20" height="7.20" fill="#eed3d5"/><rect x="654.90" y="465.54" width="7.20" height="7.20" fill="#efddde"/><rect x="661.50" y="465.54" width="6.60" height="7.20" fill="#efd8d9"/><rect x="377.70" y="472.14" width="7.20" height="7.20" fill="#f0e9ea"/><rect x="384.30" y="472.14" width="7.20" height="7.20" fill="#e6ecf1"/><rect x="390.90" y="472.14" width="7.20" height="7.20" fill="#f1ecec"/><rect x="397.50" y="472.14" width="7.20" height="7.20" fill="#f0e9ea"/><rect x="404.10" y="472.14" width="13.80" height="7.20" fill="#efd8d9"/><rect x="417.30" y="472.14" width="7.20" height="7.20" fill="#efddde"/><rect x="423.90" y="472.14" width="7.20" height="7.20" fill="#eed3d5"/><rect x="430.50" y="472.14" width="7.20" height="7.20" fill="#edcbce"/><rect x="437.10" y="472.14" width="7.20" height="7.20" fill="#eed3d5"/><rect x="443.70" y="472.14" width="7.20" height="7.20" fill="#efd8d9"/><rect x="450.30" y="472.14" width="7.20" height="7.20" fill="#eed3d5"/><rect x="456.90" y="472.14" width="13.80" height="7.20" fill="#efd8d9"/><rect x="470.10" y="472.14" width="13.80" height="7.20" fill="#eed3d5"/><rect x="483.30" y="472.14" width="13.80" height="7.20" fill="#efd8d9"/><rect x="496.50" y="472.14" width="13.80" height="7.20" fill="#edcbce"/><rect x="509.70" y="472.14" width="7.20" height="7.20" fill="#edc4c7"/><rect x="516.30" y="472.14" width="7.20" height="7.20" fill="#eed3d5"/><rect x="522.90" y="472.14" width="7.20" height="7.20" fill="#edcbce"/><rect x="529.50" y="472.14" width="20.40" height="7.20" fill="#edc4c7"/><rect x="549.30" y="472.14" width="46.80" height="7.20" fill="#eed3d5"/><rect x="595.50" y="472.14" width="40.20" height="7.20" fill="#edcbce"/><rect x="635.10" y="472.14" width="7.20" height="7.20" fill="#edc4c7"/><rect x="641.70" y="472.14" width="13.80" height="7.20" fill="#edcbce"/><rect x="654.90" y="472.14" width="7.20" height="7.20" fill="#ecbfc2"/><rect x="661.50" y="472.14" width="6.60" height="7.20" fill="#edc4c7"/><rect x="377.70" y="478.74" width="7.20" height="7.20" fill="#f0e4e5"/><rect x="384.30" y="478.74" width="7.20" height="7.20" fill="#efd8d9"/><rect x="390.90" y="478.74" width="7.20" height="7.20" fill="#efddde"/><rect x="397.50" y="478.74" width="20.40" height="7.20" fill="#eed3d5"/><rect x="417.30" y="478.74" width="7.20" height="7.20" fill="#edcbce"/><rect x="423.90" y="478.74" width="7.20" height="7.20" fill="#f0e4e5"/><rect x="430.50" y="478.74" width="7.20" height="7.20" fill="#f1ecec"/><rect x="437.10" y="478.74" width="7.20" height="7.20" fill="#f0e2e3"/><rect x="443.70" y="478.74" width="13.80" height="7.20" fill="#eed3d5"/><rect x="456.90" y="478.74" width="20.40" height="7.20" fill="#edc4c7"/><rect x="476.70" y="478.74" width="7.20" height="7.20" fill="#efddde"/><rect x="483.30" y="478.74" width="7.20" height="7.20" fill="#edc4c7"/><rect x="489.90" y="478.74" width="7.20" height="7.20" fill="#edcbce"/><rect x="496.50" y="478.74" width="7.20" height="7.20" fill="#eed3d5"/><rect x="503.10" y="478.74" width="20.40" height="7.20" fill="#edcbce"/><rect x="522.90" y="478.74" width="7.20" height="7.20" fill="#efddde"/><rect x="529.50" y="478.74" width="7.20" height="7.20" fill="#eed3d5"/><rect x="536.10" y="478.74" width="7.20" height="7.20" fill="#efddde"/><rect x="542.70" y="478.74" width="27.00" height="7.20" fill="#eed3d5"/><rect x="569.10" y="478.74" width="7.20" height="7.20" fill="#efddde"/><rect x="575.70" y="478.74" width="20.40" height="7.20" fill="#efd8d9"/><rect x="595.50" y="478.74" width="7.20" height="7.20" fill="#edcbce"/><rect x="602.10" y="478.74" width="7.20" height="7.20" fill="#edc4c7"/><rect x="608.70" y="478.74" width="7.20" height="7.20" fill="#eed3d5"/><rect x="615.30" y="478.74" width="7.20" height="7.20" fill="#f0e2e3"/><rect x="621.90" y="478.74" width="7.20" height="7.20" fill="#edcbce"/><rect x="628.50" y="478.74" width="20.40" height="7.20" fill="#eed3d5"/><rect x="648.30" y="478.74" width="7.20" height="7.20" fill="#edcbce"/><rect x="654.90" y="478.74" width="13.20" height="7.20" fill="#eed3d5"/><rect x="377.70" y="485.34" width="7.20" height="7.20" fill="#f1f1f1"/><rect x="384.30" y="485.34" width="7.20" height="7.20" fill="#e4ebf1"/><rect x="390.90" y="485.34" width="7.20" height="7.20" fill="#f0e4e5"/><rect x="397.50" y="485.34" width="13.80" height="7.20" fill="#efd8d9"/><rect x="410.70" y="485.34" width="7.20" height="7.20" fill="#edcbce"/><rect x="417.30" y="485.34" width="7.20" height="7.20" fill="#efd8d9"/><rect x="423.90" y="485.34" width="33.60" height="7.20" fill="#eed3d5"/><rect x="456.90" y="485.34" width="13.80" height="7.20" fill="#efddde"/><rect x="470.10" y="485.34" width="13.80" height="7.20" fill="#eed3d5"/><rect x="483.30" y="485.34" width="7.20" height="7.20" fill="#efd8d9"/><rect x="489.90" y="485.34" width="7.20" height="7.20" fill="#efddde"/><rect x="496.50" y="485.34" width="13.80" height="7.20" fill="#edcbce"/><rect x="509.70" y="485.34" width="7.20" height="7.20" fill="#edc4c7"/><rect x="516.30" y="485.34" width="7.20" height="7.20" fill="#edcbce"/><rect x="522.90" y="485.34" width="7.20" height="7.20" fill="#eed3d5"/><rect x="529.50" y="485.34" width="7.20" height="7.20" fill="#edc4c7"/><rect x="536.10" y="485.34" width="20.40" height="7.20" fill="#edcbce"/><rect x="555.90" y="485.34" width="7.20" height="7.20" fill="#eed3d5"/><rect x="562.50" y="485.34" width="13.80" height="7.20" fill="#edcbce"/><rect x="575.70" y="485.34" width="7.20" height="7.20" fill="#eed3d5"/><rect x="582.30" y="485.34" width="7.20" height="7.20" fill="#efddde"/><rect x="588.90" y="485.34" width="7.20" height="7.20" fill="#eed3d5"/><rect x="595.50" y="485.34" width="7.20" height="7.20" fill="#edcbce"/><rect x="602.10" y="485.34" width="7.20" height="7.20" fill="#eed3d5"/><rect x="608.70" y="485.34" width="20.40" height="7.20" fill="#edcbce"/><rect x="628.50" y="485.34" width="7.20" height="7.20" fill="#eed3d5"/><rect x="635.10" y="485.34" width="13.80" height="7.20" fill="#edcbce"/><rect x="648.30" y="485.34" width="7.20" height="7.20" fill="#eed3d5"/><rect x="654.90" y="485.34" width="13.20" height="7.20" fill="#edc4c7"/><rect x="377.70" y="491.93" width="7.20" height="7.20" fill="#a6cff5"/><rect x="384.30" y="491.93" width="13.80" height="7.20" fill="#e4ebf1"/><rect x="397.50" y="491.93" width="7.20" height="7.20" fill="#f1f1f1"/><rect x="404.10" y="491.93" width="7.20" height="7.20" fill="#f0e4e5"/><rect x="410.70" y="491.93" width="7.20" height="7.20" fill="#eed3d5"/><rect x="417.30" y="491.93" width="7.20" height="7.20" fill="#ecbabd"/><rect x="423.90" y="491.93" width="13.80" height="7.20" fill="#ebb2b6"/><rect x="437.10" y="491.93" width="13.80" height="7.20" fill="#eca0a4"/><rect x="450.30" y="491.93" width="7.20" height="7.20" fill="#eca5a9"/><rect x="456.90" y="491.93" width="7.20" height="7.20" fill="#eca0a4"/><rect x="463.50" y="491.93" width="13.80" height="7.20" fill="#ebb2b6"/><rect x="476.70" y="491.93" width="7.20" height="7.20" fill="#ecbabd"/><rect x="483.30" y="491.93" width="20.40" height="7.20" fill="#ebb2b6"/><rect x="503.10" y="491.93" width="7.20" height="7.20" fill="#edcbce"/><rect x="509.70" y="491.93" width="13.80" height="7.20" fill="#eed3d5"/><rect x="522.90" y="491.93" width="7.20" height="7.20" fill="#efd8d9"/><rect x="529.50" y="491.93" width="13.80" height="7.20" fill="#efddde"/><rect x="542.70" y="491.93" width="20.40" height="7.20" fill="#f0e2e3"/><rect x="562.50" y="491.93" width="13.80" height="7.20" fill="#f0e9ea"/><rect x="575.70" y="491.93" width="7.20" height="7.20" fill="#f0e4e5"/><rect x="582.30" y="491.93" width="7.20" height="7.20" fill="#f0e9ea"/><rect x="588.90" y="491.93" width="7.20" height="7.20" fill="#f0e4e5"/><rect x="595.50" y="491.93" width="20.40" height="7.20" fill="#efddde"/><rect x="615.30" y="491.93" width="7.20" height="7.20" fill="#efd8d9"/><rect x="621.90" y="491.93" width="27.00" height="7.20" fill="#eed3d5"/><rect x="648.30" y="491.93" width="19.80" height="7.20" fill="#efd8d9"/><rect x="377.70" y="498.53" width="7.20" height="7.20" fill="#f1ecec"/><rect x="384.30" y="498.53" width="20.40" height="7.20" fill="#f0e4e5"/><rect x="404.10" y="498.53" width="7.20" height="7.20" fill="#f0e2e3"/><rect x="410.70" y="498.53" width="20.40" height="7.20" fill="#efddde"/><rect x="430.50" y="498.53" width="7.20" height="7.20" fill="#f0e4e5"/><rect x="437.10" y="498.53" width="7.20" height="7.20" fill="#f0e2e3"/><rect x="443.70" y="498.53" width="7.20" height="7.20" fill="#efddde"/><rect x="450.30" y="498.53" width="13.80" height="7.20" fill="#efd8d9"/><rect x="463.50" y="498.53" width="7.20" height="7.20" fill="#efddde"/><rect x="470.10" y="498.53" width="13.80" height="7.20" fill="#eed3d5"/><rect x="483.30" y="498.53" width="7.20" height="7.20" fill="#efddde"/><rect x="489.90" y="498.53" width="7.20" height="7.20" fill="#eed3d5"/><rect x="496.50" y="498.53" width="40.20" height="7.20" fill="#edcbce"/><rect x="536.10" y="498.53" width="13.80" height="7.20" fill="#edc4c7"/><rect x="549.30" y="498.53" width="13.80" height="7.20" fill="#edcbce"/><rect x="562.50" y="498.53" width="13.80" height="7.20" fill="#edc4c7"/><rect x="575.70" y="498.53" width="7.20" height="7.20" fill="#edcbce"/><rect x="582.30" y="498.53" width="7.20" height="7.20" fill="#eed3d5"/><rect x="588.90" y="498.53" width="7.20" height="7.20" fill="#edcbce"/><rect x="595.50" y="498.53" width="20.40" height="7.20" fill="#edc4c7"/><rect x="615.30" y="498.53" width="20.40" height="7.20" fill="#edcbce"/><rect x="635.10" y="498.53" width="13.80" height="7.20" fill="#eed3d5"/><rect x="648.30" y="498.53" width="19.80" height="7.20" fill="#edcbce"/><rect x="377.70" y="505.13" width="20.40" height="7.20" fill="#f1ecec"/><rect x="397.50" y="505.13" width="7.20" height="7.20" fill="#f0e9ea"/><rect x="404.10" y="505.13" width="7.20" height="7.20" fill="#efddde"/><rect x="410.70" y="505.13" width="7.20" height="7.20" fill="#efd8d9"/><rect x="417.30" y="505.13" width="7.20" height="7.20" fill="#eed3d5"/><rect x="423.90" y="505.13" width="7.20" height="7.20" fill="#edc4c7"/><rect x="430.50" y="505.13" width="20.40" height="7.20" fill="#ecbfc2"/><rect x="450.30" y="505.13" width="7.20" height="7.20" fill="#edc4c7"/><rect x="456.90" y="505.13" width="7.20" height="7.20" fill="#ecbfc2"/><rect x="463.50" y="505.13" width="7.20" height="7.20" fill="#edcbce"/><rect x="470.10" y="505.13" width="40.20" height="7.20" fill="#eed3d5"/><rect x="509.70" y="505.13" width="7.20" height="7.20" fill="#efddde"/><rect x="516.30" y="505.13" width="7.20" height="7.20" fill="#efd8d9"/><rect x="522.90" y="505.13" width="20.40" height="7.20" fill="#f0e2e3"/><rect x="542.70" y="505.13" width="7.20" height="7.20" fill="#f0e4e5"/><rect x="549.30" y="505.13" width="7.20" height="7.20" fill="#f0e2e3"/><rect x="555.90" y="505.13" width="13.80" height="7.20" fill="#f0e4e5"/><rect x="569.10" y="505.13" width="13.80" height="7.20" fill="#f0e9ea"/><rect x="582.30" y="505.13" width="20.40" height="7.20" fill="#f1ecec"/><rect x="602.10" y="505.13" width="13.80" height="7.20" fill="#f0e9ea"/><rect x="615.30" y="505.13" width="7.20" height="7.20" fill="#f0e4e5"/><rect x="621.90" y="505.13" width="7.20" height="7.20" fill="#f0e2e3"/><rect x="628.50" y="505.13" width="13.80" height="7.20" fill="#efddde"/><rect x="641.70" y="505.13" width="7.20" height="7.20" fill="#f0e2e3"/><rect x="648.30" y="505.13" width="7.20" height="7.20" fill="#efddde"/><rect x="654.90" y="505.13" width="13.20" height="7.20" fill="#f0e2e3"/><rect x="377.70" y="511.73" width="13.80" height="7.20" fill="#f0e9ea"/><rect x="390.90" y="511.73" width="7.20" height="7.20" fill="#f0e2e3"/><rect x="397.50" y="511.73" width="7.20" height="7.20" fill="#f0e4e5"/><rect x="404.10" y="511.73" width="13.80" height="7.20" fill="#f0e9ea"/><rect x="417.30" y="511.73" width="7.20" height="7.20" fill="#f0e4e5"/><rect x="423.90" y="511.73" width="7.20" height="7.20" fill="#eed3d5"/><rect x="430.50" y="511.73" width="7.20" height="7.20" fill="#f0e4e5"/><rect x="437.10" y="511.73" width="13.80" height="7.20" fill="#edcbce"/><rect x="450.30" y="511.73" width="13.80" height="7.20" fill="#eed3d5"/><rect x="463.50" y="511.73" width="13.80" height="7.20" fill="#edcbce"/><rect x="476.70" y="511.73" width="7.20" height="7.20" fill="#f0e2e3"/><rect x="483.30" y="511.73" width="7.20" height="7.20" fill="#ecbfc2"/><rect x="489.90" y="511.73" width="7.20" height="7.20" fill="#edcbce"/><rect x="496.50" y="511.73" width="7.20" height="7.20" fill="#eed3d5"/><rect x="503.10" y="511.73" width="13.80" height="7.20" fill="#edc4c7"/><rect x="516.30" y="511.73" width="7.20" height="7.20" fill="#edcbce"/><rect x="522.90" y="511.73" width="7.20" height="7.20" fill="#eed3d5"/><rect x="529.50" y="511.73" width="13.80" height="7.20" fill="#edc4c7"/><rect x="542.70" y="511.73" width="13.80" height="7.20" fill="#edcbce"/><rect x="555.90" y="511.73" width="7.20" height="7.20" fill="#edc4c7"/><rect x="562.50" y="511.73" width="7.20" height="7.20" fill="#edcbce"/><rect x="569.10" y="511.73" width="7.20" height="7.20" fill="#efd8d9"/><rect x="575.70" y="511.73" width="13.80" height="7.20" fill="#edcbce"/><rect x="588.90" y="511.73" width="7.20" height="7.20" fill="#efd8d9"/><rect x="595.50" y="511.73" width="7.20" height="7.20" fill="#edcbce"/><rect x="602.10" y="511.73" width="7.20" height="7.20" fill="#ecbfc2"/><rect x="608.70" y="511.73" width="7.20" height="7.20" fill="#edcbce"/><rect x="615.30" y="511.73" width="7.20" height="7.20" fill="#eed3d5"/><rect x="621.90" y="511.73" width="7.20" height="7.20" fill="#ecbfc2"/><rect x="628.50" y="511.73" width="20.40" height="7.20" fill="#edcbce"/><rect x="648.30" y="511.73" width="7.20" height="7.20" fill="#ecbfc2"/><rect x="654.90" y="511.73" width="13.20" height="7.20" fill="#edcbce"/><rect x="377.70" y="518.32" width="7.20" height="7.20" fill="#f0e4e5"/><rect x="384.30" y="518.32" width="7.20" height="7.20" fill="#efd8d9"/><rect x="390.90" y="518.32" width="7.20" height="7.20" fill="#efddde"/><rect x="397.50" y="518.32" width="7.20" height="7.20" fill="#f0e4e5"/><rect x="404.10" y="518.32" width="7.20" height="7.20" fill="#f0e9ea"/><rect x="410.70" y="518.32" width="7.20" height="7.20" fill="#efddde"/><rect x="417.30" y="518.32" width="20.40" height="7.20" fill="#efd8d9"/><rect x="437.10" y="518.32" width="33.60" height="7.20" fill="#eed3d5"/><rect x="470.10" y="518.32" width="13.80" height="7.20" fill="#efd8d9"/><rect x="483.30" y="518.32" width="20.40" height="7.20" fill="#f0e2e3"/><rect x="503.10" y="518.32" width="27.00" height="7.20" fill="#f0e4e5"/><rect x="529.50" y="518.32" width="20.40" height="7.20" fill="#f0e9ea"/><rect x="549.30" y="518.32" width="27.00" height="7.20" fill="#f0e4e5"/><rect x="575.70" y="518.32" width="13.80" height="7.20" fill="#f0e9ea"/><rect x="588.90" y="518.32" width="27.00" height="7.20" fill="#f1ecec"/><rect x="615.30" y="518.32" width="13.80" height="7.20" fill="#f0e9ea"/><rect x="628.50" y="518.32" width="39.60" height="7.20" fill="#f0e4e5"/><rect x="377.70" y="524.92" width="13.80" height="7.20" fill="#f1f1f1"/><rect x="390.90" y="524.92" width="7.20" height="7.20" fill="#f0e9ea"/><rect x="397.50" y="524.92" width="20.40" height="7.20" fill="#f0e4e5"/><rect x="417.30" y="524.92" width="13.80" height="7.20" fill="#f0e2e3"/><rect x="430.50" y="524.92" width="20.40" height="7.20" fill="#efddde"/><rect x="450.30" y="524.92" width="20.40" height="7.20" fill="#f0e2e3"/><rect x="470.10" y="524.92" width="13.80" height="7.20" fill="#f0e4e5"/><rect x="483.30" y="524.92" width="7.20" height="7.20" fill="#efddde"/><rect x="489.90" y="524.92" width="40.20" height="7.20" fill="#efd8d9"/><rect x="529.50" y="524.92" width="13.80" height="7.20" fill="#eed3d5"/><rect x="542.70" y="524.92" width="20.40" height="7.20" fill="#efd8d9"/><rect x="562.50" y="524.92" width="13.80" height="7.20" fill="#efddde"/><rect x="575.70" y="524.92" width="7.20" height="7.20" fill="#efd8d9"/><rect x="582.30" y="524.92" width="13.80" height="7.20" fill="#efddde"/><rect x="595.50" y="524.92" width="13.80" height="7.20" fill="#efd8d9"/><rect x="608.70" y="524.92" width="27.00" height="7.20" fill="#efddde"/><rect x="635.10" y="524.92" width="7.20" height="7.20" fill="#efd8d9"/><rect x="641.70" y="524.92" width="13.80" height="7.20" fill="#efddde"/><rect x="654.90" y="524.92" width="7.20" height="7.20" fill="#efd8d9"/><rect x="661.50" y="524.92" width="6.60" height="7.20" fill="#efddde"/><rect x="377.70" y="531.52" width="7.20" height="7.20" fill="#edeff1"/><rect x="384.30" y="531.52" width="13.80" height="7.20" fill="#f1f1f1"/><rect x="397.50" y="531.52" width="7.20" height="7.20" fill="#f1ecec"/><rect x="404.10" y="531.52" width="7.20" height="7.20" fill="#f0e4e5"/><rect x="410.70" y="531.52" width="7.20" height="7.20" fill="#f0e9ea"/><rect x="417.30" y="531.52" width="7.20" height="7.20" fill="#f0e4e5"/><rect x="423.90" y="531.52" width="13.80" height="7.20" fill="#f0e2e3"/><rect x="437.10" y="531.52" width="13.80" height="7.20" fill="#efddde"/><rect x="450.30" y="531.52" width="27.00" height="7.20" fill="#f0e4e5"/><rect x="476.70" y="531.52" width="7.20" height="7.20" fill="#f0e2e3"/><rect x="483.30" y="531.52" width="46.80" height="7.20" fill="#efd8d9"/><rect x="529.50" y="531.52" width="27.00" height="7.20" fill="#eed3d5"/><rect x="555.90" y="531.52" width="7.20" height="7.20" fill="#efd8d9"/><rect x="562.50" y="531.52" width="7.20" height="7.20" fill="#efddde"/><rect x="569.10" y="531.52" width="7.20" height="7.20" fill="#efd8d9"/><rect x="575.70" y="531.52" width="7.20" height="7.20" fill="#eed3d5"/><rect x="582.30" y="531.52" width="13.80" height="7.20" fill="#efd8d9"/><rect x="595.50" y="531.52" width="7.20" height="7.20" fill="#eed3d5"/><rect x="602.10" y="531.52" width="7.20" height="7.20" fill="#efd8d9"/><rect x="608.70" y="531.52" width="13.80" height="7.20" fill="#efddde"/><rect x="621.90" y="531.52" width="7.20" height="7.20" fill="#efd8d9"/><rect x="628.50" y="531.52" width="7.20" height="7.20" fill="#efddde"/><rect x="635.10" y="531.52" width="13.80" height="7.20" fill="#efd8d9"/><rect x="648.30" y="531.52" width="7.20" height="7.20" fill="#efddde"/><rect x="654.90" y="531.52" width="13.20" height="7.20" fill="#efd8d9"/><rect x="377.70" y="538.12" width="7.20" height="7.20" fill="#f0e2e3"/><rect x="384.30" y="538.12" width="7.20" height="7.20" fill="#efd8d9"/><rect x="390.90" y="538.12" width="7.20" height="7.20" fill="#f0e9ea"/><rect x="397.50" y="538.12" width="27.00" height="7.20" fill="#efd8d9"/><rect x="423.90" y="538.12" width="7.20" height="7.20" fill="#eed3d5"/><rect x="430.50" y="538.12" width="13.80" height="7.20" fill="#efd8d9"/><rect x="443.70" y="538.12" width="40.20" height="7.20" fill="#edcbce"/><rect x="483.30" y="538.12" width="7.20" height="7.20" fill="#eed3d5"/><rect x="489.90" y="538.12" width="13.80" height="7.20" fill="#edcbce"/><rect x="503.10" y="538.12" width="27.00" height="7.20" fill="#eed3d5"/><rect x="529.50" y="538.12" width="7.20" height="7.20" fill="#edcbce"/><rect x="536.10" y="538.12" width="13.80" height="7.20" fill="#edc4c7"/><rect x="549.30" y="538.12" width="13.80" height="7.20" fill="#edcbce"/><rect x="562.50" y="538.12" width="20.40" height="7.20" fill="#edc4c7"/><rect x="582.30" y="538.12" width="7.20" height="7.20" fill="#edcbce"/><rect x="588.90" y="538.12" width="7.20" height="7.20" fill="#eed3d5"/><rect x="595.50" y="538.12" width="7.20" height="7.20" fill="#edc4c7"/><rect x="602.10" y="538.12" width="7.20" height="7.20" fill="#ecbfc2"/><rect x="608.70" y="538.12" width="7.20" height="7.20" fill="#edc4c7"/><rect x="615.30" y="538.12" width="7.20" height="7.20" fill="#edcbce"/><rect x="621.90" y="538.12" width="7.20" height="7.20" fill="#edc4c7"/><rect x="628.50" y="538.12" width="7.20" height="7.20" fill="#ecbfc2"/><rect x="635.10" y="538.12" width="20.40" height="7.20" fill="#edc4c7"/><rect x="654.90" y="538.12" width="7.20" height="7.20" fill="#ecbabd"/><rect x="661.50" y="538.12" width="6.60" height="7.20" fill="#ecbfc2"/><rect x="377.70" y="544.72" width="7.20" height="7.20" fill="#f0e2e3"/><rect x="384.30" y="544.72" width="27.00" height="7.20" fill="#efd8d9"/><rect x="410.70" y="544.72" width="27.00" height="7.20" fill="#eed3d5"/><rect x="437.10" y="544.72" width="13.80" height="7.20" fill="#efd8d9"/><rect x="450.30" y="544.72" width="13.80" height="7.20" fill="#edcbce"/><rect x="463.50" y="544.72" width="46.80" height="7.20" fill="#eed3d5"/><rect x="509.70" y="544.72" width="7.20" height="7.20" fill="#edcbce"/><rect x="516.30" y="544.72" width="13.80" height="7.20" fill="#eed3d5"/><rect x="529.50" y="544.72" width="13.80" height="7.20" fill="#edcbce"/><rect x="542.70" y="544.72" width="13.80" height="7.20" fill="#edc4c7"/><rect x="555.90" y="544.72" width="7.20" height="7.20" fill="#edcbce"/><rect x="562.50" y="544.72" width="13.80" height="7.20" fill="#edc4c7"/><rect x="575.70" y="544.72" width="20.40" height="7.20" fill="#eed3d5"/><rect x="595.50" y="544.72" width="7.20" height="7.20" fill="#edc4c7"/><rect x="602.10" y="544.72" width="7.20" height="7.20" fill="#ecbabd"/><rect x="608.70" y="544.72" width="20.40" height="7.20" fill="#edc4c7"/><rect x="628.50" y="544.72" width="7.20" height="7.20" fill="#edcbce"/><rect x="635.10" y="544.72" width="13.80" height="7.20" fill="#edc4c7"/><rect x="648.30" y="544.72" width="19.80" height="7.20" fill="#ecbfc2"/><rect x="377.70" y="551.31" width="7.20" height="7.20" fill="#f0e2e3"/><rect x="384.30" y="551.31" width="13.80" height="7.20" fill="#eed3d5"/><rect x="397.50" y="551.31" width="7.20" height="7.20" fill="#efd8d9"/><rect x="404.10" y="551.31" width="7.20" height="7.20" fill="#f0e2e3"/><rect x="410.70" y="551.31" width="7.20" height="7.20" fill="#efd8d9"/><rect x="417.30" y="551.31" width="7.20" height="7.20" fill="#eed3d5"/><rect x="423.90" y="551.31" width="20.40" height="7.20" fill="#efddde"/><rect x="443.70" y="551.31" width="20.40" height="7.20" fill="#f0e2e3"/><rect x="463.50" y="551.31" width="27.00" height="7.20" fill="#f0e4e5"/><rect x="489.90" y="551.31" width="20.40" height="7.20" fill="#f0e9ea"/><rect x="509.70" y="551.31" width="7.20" height="7.20" fill="#f0e4e5"/><rect x="516.30" y="551.31" width="7.20" height="7.20" fill="#f0e9ea"/><rect x="522.90" y="551.31" width="7.20" height="7.20" fill="#f0e4e5"/><rect x="529.50" y="551.31" width="27.00" height="7.20" fill="#f0e9ea"/><rect x="555.90" y="551.31" width="7.20" height="7.20" fill="#f1f1f1"/><rect x="562.50" y="551.31" width="20.40" height="7.20" fill="#f1ecec"/><rect x="582.30" y="551.31" width="7.20" height="7.20" fill="#f1f1f1"/><rect x="588.90" y="551.31" width="13.80" height="7.20" fill="#f1ecec"/><rect x="602.10" y="551.31" width="33.60" height="7.20" fill="#f1f1f1"/><rect x="635.10" y="551.31" width="13.80" height="7.20" fill="#f1ecec"/><rect x="648.30" y="551.31" width="13.80" height="7.20" fill="#f0e9ea"/><rect x="661.50" y="551.31" width="6.60" height="7.20" fill="#f0e4e5"/><rect x="377.70" y="557.91" width="7.20" height="7.20" fill="#f0e4e5"/><rect x="384.30" y="557.91" width="13.80" height="7.20" fill="#efddde"/><rect x="397.50" y="557.91" width="7.20" height="7.20" fill="#f0e2e3"/><rect x="404.10" y="557.91" width="7.20" height="7.20" fill="#f0e9ea"/><rect x="410.70" y="557.91" width="7.20" height="7.20" fill="#efddde"/><rect x="417.30" y="557.91" width="7.20" height="7.20" fill="#eed3d5"/><rect x="423.90" y="557.91" width="13.80" height="7.20" fill="#efd8d9"/><rect x="437.10" y="557.91" width="40.20" height="7.20" fill="#efddde"/><rect x="476.70" y="557.91" width="7.20" height="7.20" fill="#f0e9ea"/><rect x="483.30" y="557.91" width="7.20" height="7.20" fill="#f0e4e5"/><rect x="489.90" y="557.91" width="20.40" height="7.20" fill="#f0e9ea"/><rect x="509.70" y="557.91" width="7.20" height="7.20" fill="#f1ecec"/><rect x="516.30" y="557.91" width="7.20" height="7.20" fill="#f0e9ea"/><rect x="522.90" y="557.91" width="7.20" height="7.20" fill="#f1ecec"/><rect x="529.50" y="557.91" width="132.60" height="7.20" fill="#f1f1f1"/><rect x="661.50" y="557.91" width="6.60" height="7.20" fill="#f0e9ea"/><rect x="377.70" y="564.51" width="13.80" height="7.20" fill="#edeff1"/><rect x="390.90" y="564.51" width="20.40" height="7.20" fill="#f1ecec"/><rect x="410.70" y="564.51" width="13.80" height="7.20" fill="#f0e9ea"/><rect x="423.90" y="564.51" width="27.00" height="7.20" fill="#f0e4e5"/><rect x="450.30" y="564.51" width="7.20" height="7.20" fill="#f0e2e3"/><rect x="456.90" y="564.51" width="20.40" height="7.20" fill="#f0e9ea"/><rect x="476.70" y="564.51" width="7.20" height="7.20" fill="#f0e2e3"/><rect x="483.30" y="564.51" width="7.20" height="7.20" fill="#f0e4e5"/><rect x="489.90" y="564.51" width="13.80" height="7.20" fill="#f0e2e3"/><rect x="503.10" y="564.51" width="13.80" height="7.20" fill="#efddde"/><rect x="516.30" y="564.51" width="7.20" height="7.20" fill="#efd8d9"/><rect x="522.90" y="564.51" width="20.40" height="7.20" fill="#efddde"/><rect x="542.70" y="564.51" width="40.20" height="7.20" fill="#f0e2e3"/><rect x="582.30" y="564.51" width="7.20" height="7.20" fill="#f0e4e5"/><rect x="588.90" y="564.51" width="7.20" height="7.20" fill="#f0e2e3"/><rect x="595.50" y="564.51" width="7.20" height="7.20" fill="#efddde"/><rect x="602.10" y="564.51" width="13.80" height="7.20" fill="#f0e2e3"/><rect x="615.30" y="564.51" width="13.80" height="7.20" fill="#efddde"/><rect x="628.50" y="564.51" width="33.60" height="7.20" fill="#f0e2e3"/><rect x="661.50" y="564.51" width="6.60" height="7.20" fill="#f0e4e5"/><rect x="377.70" y="571.11" width="7.20" height="7.20" fill="#f0e9ea"/><rect x="384.30" y="571.11" width="27.00" height="7.20" fill="#f0e2e3"/><rect x="410.70" y="571.11" width="20.40" height="7.20" fill="#efddde"/><rect x="430.50" y="571.11" width="40.20" height="7.20" fill="#efd8d9"/><rect x="470.10" y="571.11" width="53.40" height="7.20" fill="#eed3d5"/><rect x="522.90" y="571.11" width="7.20" height="7.20" fill="#edcbce"/><rect x="529.50" y="571.11" width="13.80" height="7.20" fill="#eed3d5"/><rect x="542.70" y="571.11" width="13.80" height="7.20" fill="#edcbce"/><rect x="555.90" y="571.11" width="7.20" height="7.20" fill="#eed3d5"/><rect x="562.50" y="571.11" width="20.40" height="7.20" fill="#edcbce"/><rect x="582.30" y="571.11" width="13.80" height="7.20" fill="#eed3d5"/><rect x="595.50" y="571.11" width="27.00" height="7.20" fill="#edcbce"/><rect x="621.90" y="571.11" width="46.20" height="7.20" fill="#eed3d5"/><rect x="377.70" y="577.71" width="7.20" height="7.20" fill="#f0e9ea"/><rect x="384.30" y="577.71" width="27.00" height="7.20" fill="#efddde"/><rect x="410.70" y="577.71" width="159.00" height="7.20" fill="#efd8d9"/><rect x="569.10" y="577.71" width="20.40" height="7.20" fill="#efddde"/><rect x="588.90" y="577.71" width="7.20" height="7.20" fill="#efd8d9"/><rect x="595.50" y="577.71" width="27.00" height="7.20" fill="#efddde"/><rect x="621.90" y="577.71" width="27.00" height="7.20" fill="#f0e2e3"/><rect x="648.30" y="577.71" width="19.80" height="7.20" fill="#efddde"/><rect x="377.70" y="584.30" width="7.20" height="7.20" fill="#f0e9ea"/><rect x="384.30" y="584.30" width="7.20" height="7.20" fill="#f0e4e5"/><rect x="390.90" y="584.30" width="7.20" height="7.20" fill="#efddde"/><rect x="397.50" y="584.30" width="7.20" height="7.20" fill="#edeff1"/><rect x="404.10" y="584.30" width="7.20" height="7.20" fill="#efddde"/><rect x="410.70" y="584.30" width="46.80" height="7.20" fill="#efd8d9"/><rect x="456.90" y="584.30" width="13.80" height="7.20" fill="#eed3d5"/><rect x="470.10" y="584.30" width="60.00" height="7.20" fill="#efd8d9"/><rect x="529.50" y="584.30" width="33.60" height="7.20" fill="#eed3d5"/><rect x="562.50" y="584.30" width="27.00" height="7.20" fill="#efd8d9"/><rect x="588.90" y="584.30" width="7.20" height="7.20" fill="#efddde"/><rect x="595.50" y="584.30" width="13.80" height="7.20" fill="#eed3d5"/><rect x="608.70" y="584.30" width="7.20" height="7.20" fill="#efd8d9"/><rect x="615.30" y="584.30" width="20.40" height="7.20" fill="#eed3d5"/><rect x="635.10" y="584.30" width="13.80" height="7.20" fill="#efd8d9"/><rect x="648.30" y="584.30" width="7.20" height="7.20" fill="#eed3d5"/><rect x="654.90" y="584.30" width="13.20" height="7.20" fill="#efd8d9"/><rect x="377.70" y="590.90" width="7.20" height="6.60" fill="#f0e9ea"/><rect x="384.30" y="590.90" width="7.20" height="6.60" fill="#f0e2e3"/><rect x="390.90" y="590.90" width="40.20" height="6.60" fill="#efddde"/><rect x="430.50" y="590.90" width="7.20" height="6.60" fill="#f0e2e3"/><rect x="437.10" y="590.90" width="13.80" height="6.60" fill="#efddde"/><rect x="450.30" y="590.90" width="132.60" height="6.60" fill="#efd8d9"/><rect x="582.30" y="590.90" width="7.20" height="6.60" fill="#efddde"/><rect x="588.90" y="590.90" width="7.20" height="6.60" fill="#f0e2e3"/><rect x="595.50" y="590.90" width="33.60" height="6.60" fill="#efd8d9"/><rect x="628.50" y="590.90" width="13.80" height="6.60" fill="#efddde"/><rect x="641.70" y="590.90" width="7.20" height="6.60" fill="#efd8d9"/><rect x="648.30" y="590.90" width="19.80" height="6.60" fill="#efddde"/></g><path d="M377.70 442.45h-1.6M377.70 449.05h-1.6M377.70 455.64h-1.6M377.70 462.24h-1.6M377.70 468.84h-1.6M377.70 475.44h-1.6M377.70 482.04h-1.6M377.70 488.63h-1.6M377.70 495.23h-1.6M377.70 501.83h-1.6M377.70 508.43h-1.6M377.70 515.03h-1.6M377.70 521.62h-1.6M377.70 528.22h-1.6M377.70 534.82h-1.6M377.70 541.42h-1.6M377.70 548.02h-1.6M377.70 554.61h-1.6M377.70 561.21h-1.6M377.70 567.81h-1.6M377.70 574.41h-1.6M377.70 581.01h-1.6M377.70 587.60h-1.6M377.70 594.20h-1.6M381.00 597.50v2.0M394.20 597.50v2.0M407.40 597.50v2.0M420.60 597.50v2.0M433.80 597.50v2.0M447.00 597.50v2.0M460.20 597.50v2.0M473.40 597.50v2.0M486.60 597.50v2.0M499.80 597.50v2.0M513.00 597.50v2.0M526.20 597.50v2.0M539.40 597.50v2.0M552.60 597.50v2.0M565.80 597.50v2.0M579.00 597.50v2.0M592.20 597.50v2.0M605.40 597.50v2.0M618.60 597.50v2.0M631.80 597.50v2.0M645.00 597.50v2.0M658.20 597.50v2.0" stroke="#111" stroke-width="1.0" fill="none" shape-rendering="auto"/><g font-size="7.3"><text x="372.80" y="444.55" text-anchor="end">WJ</text><text x="372.80" y="451.15" text-anchor="end">HM</text><text x="372.80" y="457.74" text-anchor="end">SHC</text><text x="372.80" y="464.34" text-anchor="end">LS</text><text x="372.80" y="470.94" text-anchor="end">LC</text><text x="372.80" y="477.54" text-anchor="end">PL</text><text x="372.80" y="484.14" text-anchor="end">YW</text><text x="372.80" y="490.73" text-anchor="end">ZP</text><text x="372.80" y="497.33" text-anchor="end">HY</text><text x="372.80" y="503.93" text-anchor="end">SC</text><text x="372.80" y="510.53" text-anchor="end">LX</text><text x="372.80" y="517.13" text-anchor="end">RS</text><text x="372.80" y="523.72" text-anchor="end">BL</text><text x="372.80" y="530.32" text-anchor="end">FLX</text><text x="372.80" y="536.92" text-anchor="end">SJ</text><text x="372.80" y="543.52" text-anchor="end">LZh</text><text x="372.80" y="550.12" text-anchor="end">XZ</text><text x="372.80" y="556.71" text-anchor="end">NN</text><text x="372.80" y="563.31" text-anchor="end">GG</text><text x="372.80" y="569.91" text-anchor="end">QJ</text><text x="372.80" y="576.51" text-anchor="end">WX</text><text x="372.80" y="583.11" text-anchor="end">DHJK</text><text x="372.80" y="589.70" text-anchor="end">WZ</text><text x="372.80" y="596.30" text-anchor="end">GY</text></g><g font-size="9.4"><text x="381.00" y="609.20" text-anchor="middle">1</text><text x="394.20" y="609.20" text-anchor="middle">3</text><text x="407.40" y="609.20" text-anchor="middle">5</text><text x="420.60" y="609.20" text-anchor="middle">7</text><text x="433.80" y="609.20" text-anchor="middle">9</text><text x="447.00" y="609.20" text-anchor="middle">11</text><text x="460.20" y="609.20" text-anchor="middle">13</text><text x="473.40" y="609.20" text-anchor="middle">15</text><text x="486.60" y="609.20" text-anchor="middle">17</text><text x="499.80" y="609.20" text-anchor="middle">19</text><text x="513.00" y="609.20" text-anchor="middle">21</text><text x="526.20" y="609.20" text-anchor="middle">23</text><text x="539.40" y="609.20" text-anchor="middle">25</text><text x="552.60" y="609.20" text-anchor="middle">27</text><text x="565.80" y="609.20" text-anchor="middle">29</text><text x="579.00" y="609.20" text-anchor="middle">31</text><text x="592.20" y="609.20" text-anchor="middle">33</text><text x="605.40" y="609.20" text-anchor="middle">35</text><text x="618.60" y="609.20" text-anchor="middle">37</text><text x="631.80" y="609.20" text-anchor="middle">39</text><text x="645.00" y="609.20" text-anchor="middle">41</text><text x="658.20" y="609.20" text-anchor="middle">43</text></g><text x="522.90" y="621.70" text-anchor="middle" font-size="9.6">Lead days</text><text x="522.90" y="433.25" text-anchor="middle" font-size="13.8">E2-BJP</text><text x="349.00" y="434.00" font-size="16.4">(f)</text><defs><linearGradient id="cb" x1="0" x2="1" y1="0" y2="0"><stop offset="0.0000" stop-color="#4889ff"/><stop offset="0.1250" stop-color="#5fa5ff"/><stop offset="0.2500" stop-color="#87bef8"/><stop offset="0.3750" stop-color="#bbdaf3"/><stop offset="0.5000" stop-color="#f1f1f1"/><stop offset="0.6250" stop-color="#ebb2b6"/><stop offset="0.7500" stop-color="#ef7076"/><stop offset="0.8750" stop-color="#fc3c3c"/><stop offset="1.0000" stop-color="#ff2211"/></linearGradient></defs><rect x="16.80" y="640.30" width="659.40" height="25.20" fill="url(#cb)" shape-rendering="auto"/><rect x="16.80" y="640.30" width="659.40" height="25.20" fill="none" stroke="#262626" stroke-width="0.8" shape-rendering="auto"/><path d="M16.80 665.50v3M99.23 665.50v3M181.65 665.50v3M264.08 665.50v3M346.50 665.50v3M428.93 665.50v3M511.35 665.50v3M593.78 665.50v3M676.20 665.50v3" stroke="#262626" stroke-width="0.8" fill="none" shape-rendering="auto"/><g font-size="9.6"><text x="16.80" y="678.60" text-anchor="middle">−1.00</text><text x="99.23" y="678.60" text-anchor="middle">−0.75</text><text x="181.65" y="678.60" text-anchor="middle">−0.50</text><text x="264.08" y="678.60" text-anchor="middle">−0.25</text><text x="346.50" y="678.60" text-anchor="middle">0.00</text><text x="428.93" y="678.60" text-anchor="middle">0.25</text><text x="511.35" y="678.60" text-anchor="middle">0.50</text><text x="593.78" y="678.60" text-anchor="middle">0.75</text><text x="676.20" y="678.60" text-anchor="middle">1.00</text></g><text x="346.50" y="691.30" text-anchor="middle" font-size="9.6">NSE</text></svg></body></html>
